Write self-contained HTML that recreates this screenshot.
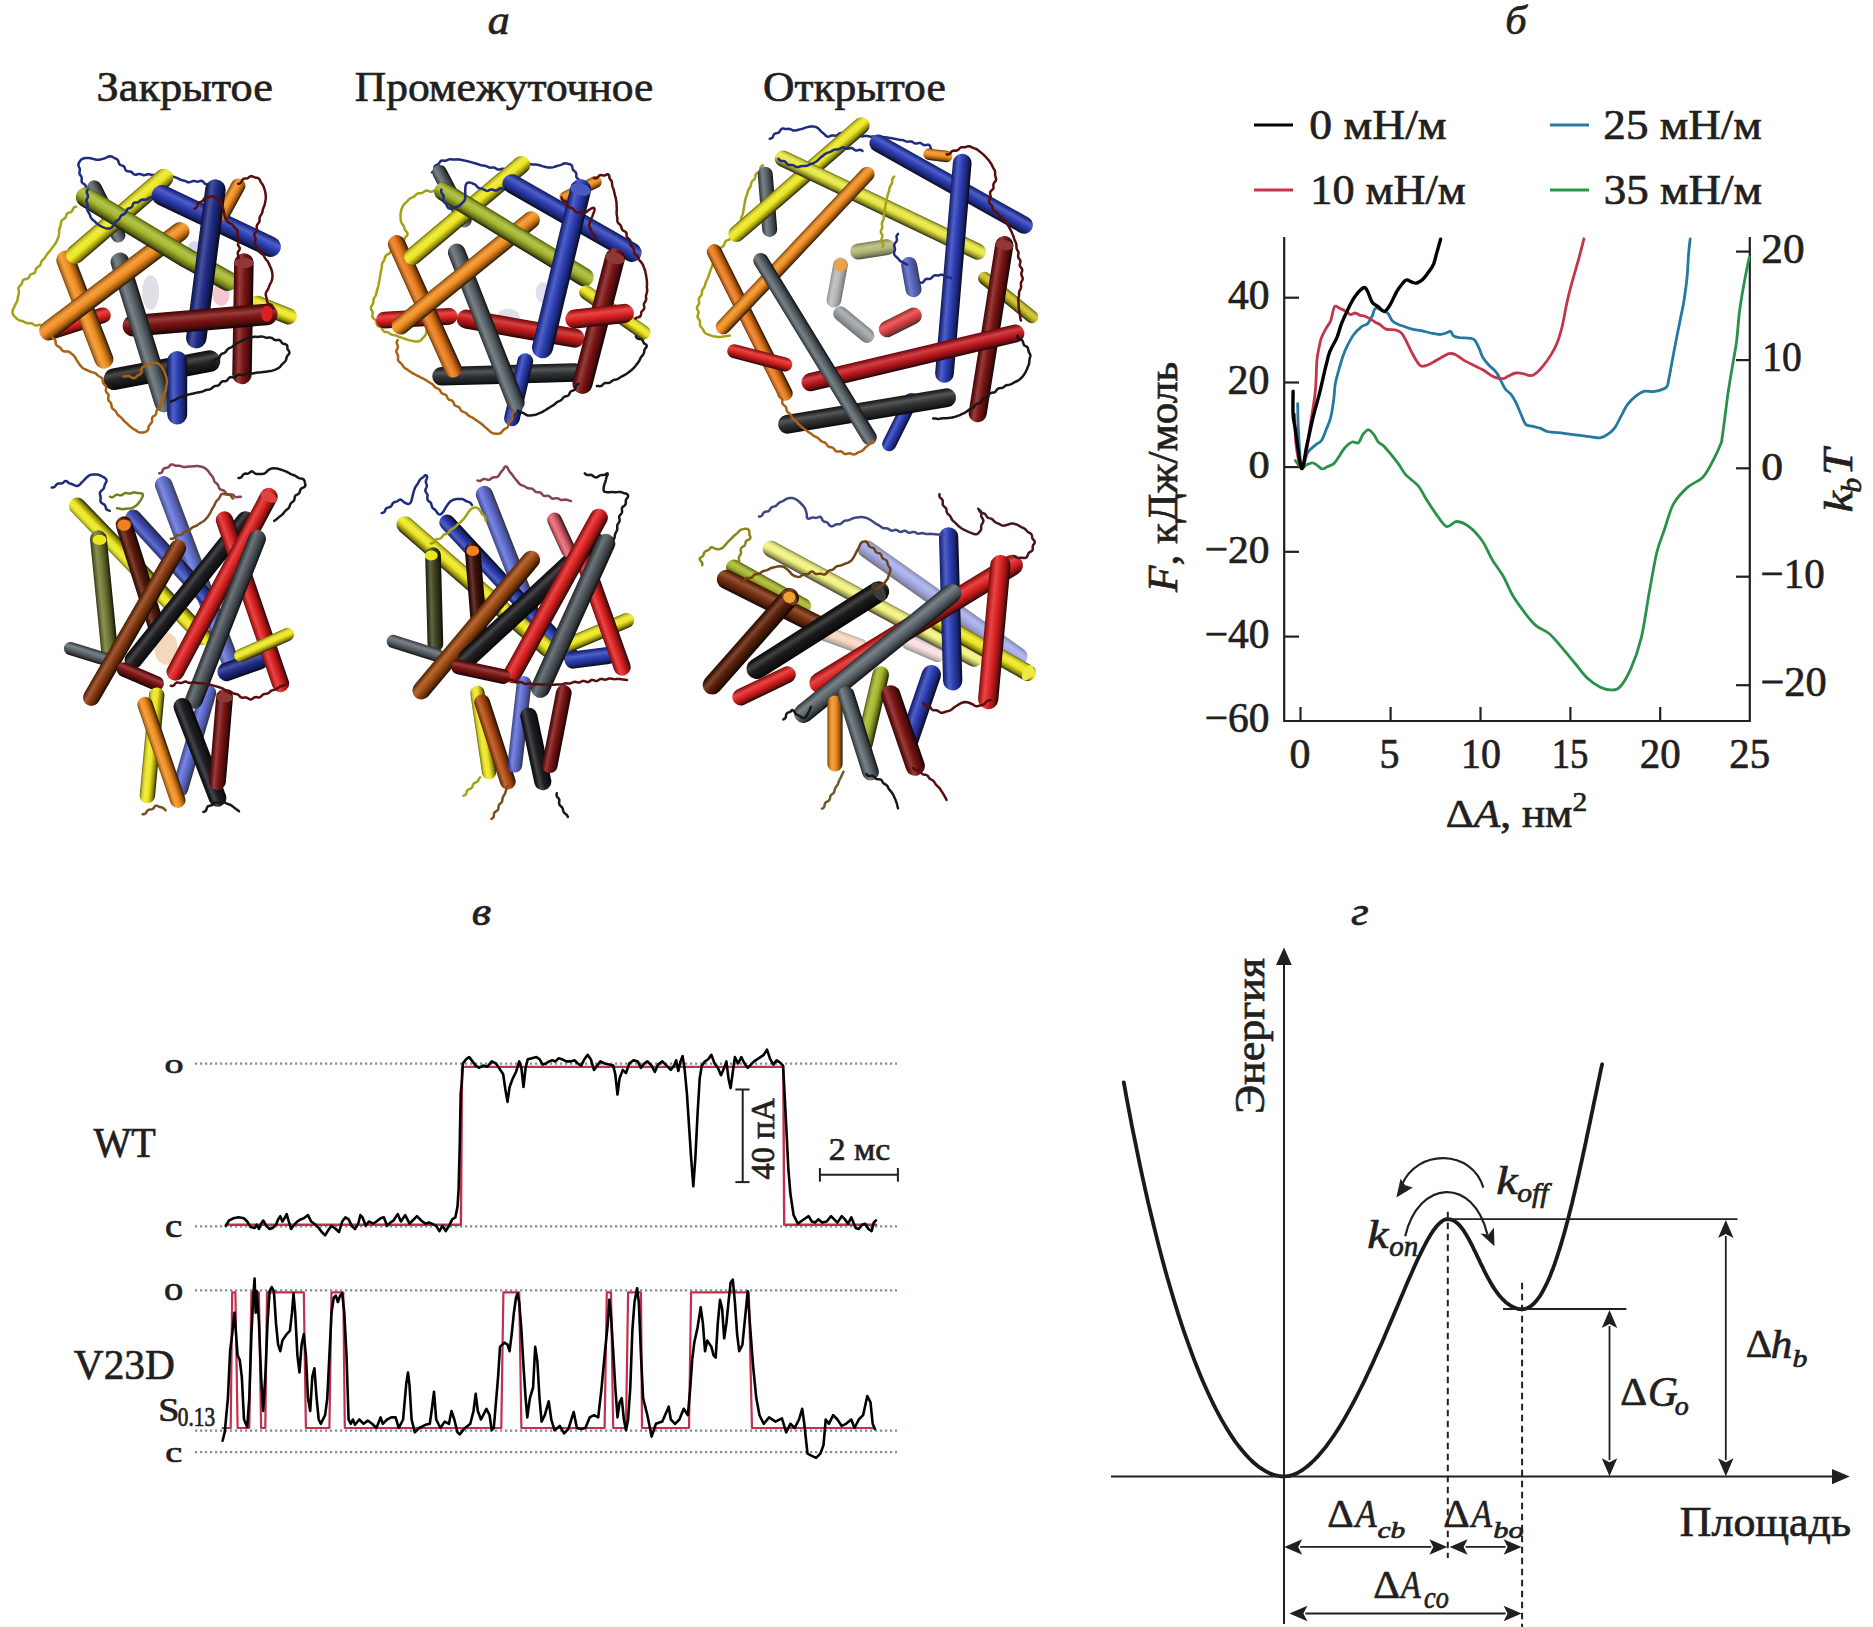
<!DOCTYPE html>
<html><head><meta charset="utf-8"><style>
html,body{margin:0;padding:0;background:#fff;}
svg{display:block;}
text{stroke:#231f20;stroke-width:0.7px;}
</style></head><body>
<svg width="1873" height="1627" viewBox="0 0 1873 1627">
<rect width="1873" height="1627" fill="#fff"/>
<text transform="translate(487.68,33.90) scale(1.0988,1)" font-family="Liberation Serif" font-size="40.00" fill="#231f20"><tspan x="0.00" y="0.00" font-size="40.00" font-style="italic">а</tspan></text>
<text transform="translate(1505.18,34.20) scale(1.0744,1)" font-family="Liberation Serif" font-size="39.72" fill="#231f20"><tspan x="0.00" y="0.00" font-size="39.72" font-style="italic">б</tspan></text>
<text transform="translate(471.66,925.29) scale(1.0941,1)" font-family="Liberation Serif" font-size="40.83" fill="#231f20"><tspan x="0.00" y="0.00" font-size="40.83" font-style="italic">в</tspan></text>
<text transform="translate(1351.09,925.29) scale(1.1125,1)" font-family="Liberation Serif" font-size="40.83" fill="#231f20"><tspan x="0.00" y="0.00" font-size="40.83" font-style="italic">г</tspan></text>
<text transform="translate(96.59,101.10) scale(1.0405,1)" font-family="Liberation Serif" font-size="42.56" fill="#231f20"><tspan x="0.00" y="0.00" font-size="42.56">Закрытое</tspan></text>
<text transform="translate(354.80,101.10) scale(1.0065,1)" font-family="Liberation Serif" font-size="43.21" fill="#231f20"><tspan x="0.00" y="0.00" font-size="43.21">Промежуточное</tspan></text>
<text transform="translate(762.96,101.20) scale(1.0124,1)" font-family="Liberation Serif" font-size="43.03" fill="#231f20"><tspan x="0.00" y="0.00" font-size="43.03">Открытое</tspan></text>
<text transform="translate(1309.28,139.10) scale(1.0845,1)" font-family="Liberation Serif" font-size="42.00" fill="#231f20"><tspan x="0.00" y="0.00" font-size="42.00">0 мН/м</tspan></text>
<text transform="translate(1310.32,203.80) scale(1.0531,1)" font-family="Liberation Serif" font-size="42.00" fill="#231f20"><tspan x="0.00" y="0.00" font-size="42.00">10 мН/м</tspan></text>
<text transform="translate(1603.37,139.10) scale(1.0738,1)" font-family="Liberation Serif" font-size="42.00" fill="#231f20"><tspan x="0.00" y="0.00" font-size="42.00">25 мН/м</tspan></text>
<text transform="translate(1603.75,203.80) scale(1.0713,1)" font-family="Liberation Serif" font-size="42.00" fill="#231f20"><tspan x="0.00" y="0.00" font-size="42.00">35 мН/м</tspan></text>
<text transform="translate(1228.07,308.68) scale(0.9896,1)" font-family="Liberation Serif" font-size="41.93" fill="#231f20"><tspan x="0.00" y="0.00" font-size="41.93">40</tspan></text>
<text transform="translate(1227.61,393.78) scale(1.0010,1)" font-family="Liberation Serif" font-size="41.93" fill="#231f20"><tspan x="0.00" y="0.00" font-size="41.93">20</tspan></text>
<text transform="translate(1248.40,477.99) scale(1.0327,1)" font-family="Liberation Serif" font-size="41.04" fill="#231f20"><tspan x="0.00" y="0.00" font-size="41.04">0</tspan></text>
<text transform="translate(1204.73,562.79) scale(1.0131,1)" font-family="Liberation Serif" font-size="40.89" fill="#231f20"><tspan x="0.00" y="0.00" font-size="40.89">−20</tspan></text>
<text transform="translate(1204.73,648.08) scale(0.9951,1)" font-family="Liberation Serif" font-size="41.63" fill="#231f20"><tspan x="0.00" y="0.00" font-size="41.63">−40</tspan></text>
<text transform="translate(1204.73,731.98) scale(0.9777,1)" font-family="Liberation Serif" font-size="42.37" fill="#231f20"><tspan x="0.00" y="0.00" font-size="42.37">−60</tspan></text>
<text transform="translate(1761.25,262.78) scale(1.0359,1)" font-family="Liberation Serif" font-size="41.78" fill="#231f20"><tspan x="0.00" y="0.00" font-size="41.78">20</tspan></text>
<text transform="translate(1762.14,371.18) scale(0.9464,1)" font-family="Liberation Serif" font-size="41.78" fill="#231f20"><tspan x="0.00" y="0.00" font-size="41.78">10</tspan></text>
<text transform="translate(1761.16,479.79) scale(1.0618,1)" font-family="Liberation Serif" font-size="41.04" fill="#231f20"><tspan x="0.00" y="0.00" font-size="41.04">0</tspan></text>
<text transform="translate(1760.55,587.98) scale(0.9681,1)" font-family="Liberation Serif" font-size="42.37" fill="#231f20"><tspan x="0.00" y="0.00" font-size="42.37">−10</tspan></text>
<text transform="translate(1760.48,695.68) scale(1.0036,1)" font-family="Liberation Serif" font-size="42.22" fill="#231f20"><tspan x="0.00" y="0.00" font-size="42.22">−20</tspan></text>
<text transform="translate(1289.52,768.29) scale(1.0102,1)" font-family="Liberation Serif" font-size="41.48" fill="#231f20"><tspan x="0.00" y="0.00" font-size="41.48">0</tspan></text>
<text transform="translate(1379.60,768.28) scale(0.9500,1)" font-family="Liberation Serif" font-size="42.11" fill="#231f20"><tspan x="0.00" y="0.00" font-size="42.11">5</tspan></text>
<text transform="translate(1461.11,768.29) scale(0.9615,1)" font-family="Liberation Serif" font-size="41.48" fill="#231f20"><tspan x="0.00" y="0.00" font-size="41.48">10</tspan></text>
<text transform="translate(1551.69,768.28) scale(0.8801,1)" font-family="Liberation Serif" font-size="41.79" fill="#231f20"><tspan x="0.00" y="0.00" font-size="41.79">15</tspan></text>
<text transform="translate(1639.86,768.29) scale(0.9854,1)" font-family="Liberation Serif" font-size="41.48" fill="#231f20"><tspan x="0.00" y="0.00" font-size="41.48">20</tspan></text>
<text transform="translate(1729.37,768.28) scale(0.9754,1)" font-family="Liberation Serif" font-size="41.79" fill="#231f20"><tspan x="0.00" y="0.00" font-size="41.79">25</tspan></text>
<text transform="translate(1445.87,827.40) scale(1.0575,1)" font-family="Liberation Serif" font-size="41.00" fill="#231f20"><tspan x="0.00" y="0.00" font-size="41.00">Δ</tspan><tspan x="26.36" y="0.00" font-size="41.00" font-style="italic">A</tspan><tspan x="51.41" y="0.00" font-size="41.00">, нм</tspan><tspan x="119.80" y="-16.40" font-size="27.88">2</tspan></text>
<text transform="translate(1176.80,591.98) rotate(-90) scale(1.0015,1)" font-family="Liberation Serif" font-size="43.18" fill="#231f20"><tspan x="0.00" y="0.00" font-size="43.18" font-style="italic">F</tspan><tspan x="26.38" y="0.00" font-size="43.18">, кДж/моль</tspan></text>
<text transform="translate(1851.90,512.54) rotate(-90) scale(1.1807,1)" font-family="Liberation Serif" font-size="40.58" fill="#231f20"><tspan x="0.00" y="0.00" font-size="40.58" font-style="italic">k</tspan></text>
<text transform="translate(1861.21,492.70) rotate(-90) scale(1.0419,1)" font-family="Liberation Serif" font-size="28.79" fill="#231f20"><tspan x="0.00" y="0.00" font-size="28.79" font-style="italic">b</tspan></text>
<text transform="translate(1851.90,475.52) rotate(-90) scale(1.1149,1)" font-family="Liberation Serif" font-size="43.05" fill="#231f20"><tspan x="0.00" y="0.00" font-size="43.05" font-style="italic">T</tspan></text>
<text transform="translate(164.48,1073.42) scale(1.3646,1)" font-family="Liberation Serif" font-size="27.92" fill="#231f20"><tspan x="0.00" y="0.00" font-size="27.92">o</tspan></text>
<text transform="translate(164.94,1237.06) scale(1.1536,1)" font-family="Liberation Serif" font-size="33.75" fill="#231f20"><tspan x="0.00" y="0.00" font-size="33.75">c</tspan></text>
<text transform="translate(163.96,1300.36) scale(1.1358,1)" font-family="Liberation Serif" font-size="33.96" fill="#231f20"><tspan x="0.00" y="0.00" font-size="33.96">o</tspan></text>
<text transform="translate(165.17,1461.91) scale(1.3168,1)" font-family="Liberation Serif" font-size="28.96" fill="#231f20"><tspan x="0.00" y="0.00" font-size="28.96">c</tspan></text>
<text transform="translate(93.50,1157.06) scale(0.9467,1)" font-family="Liberation Serif" font-size="42.39" fill="#231f20"><tspan x="0.00" y="0.00" font-size="42.39">WT</tspan></text>
<text transform="translate(73.79,1379.17) scale(0.9825,1)" font-family="Liberation Serif" font-size="42.07" fill="#231f20"><tspan x="0.00" y="0.00" font-size="42.07">V23D</tspan></text>
<text transform="translate(158.32,1421.07) scale(1.1408,1)" font-family="Liberation Serif" font-size="33.43" fill="#231f20"><tspan x="0.00" y="0.00" font-size="33.43">S</tspan></text>
<text transform="translate(177.85,1426.00) scale(0.7942,1)" font-family="Liberation Serif" font-size="26.76" fill="#231f20"><tspan x="0.00" y="0.00" font-size="26.76">0.13</tspan></text>
<text transform="translate(773.67,1179.55) rotate(-90) scale(0.9894,1)" font-family="Liberation Serif" font-size="32.89" fill="#231f20"><tspan x="0.00" y="0.00" font-size="32.89">40 пА</tspan></text>
<text transform="translate(828.79,1160.47) scale(1.0332,1)" font-family="Liberation Serif" font-size="32.54" fill="#231f20"><tspan x="0.00" y="0.00" font-size="32.54">2 мс</tspan></text>
<text transform="translate(1264.10,1114.02) rotate(-90) scale(1.0276,1)" font-family="Liberation Serif" font-size="42.88" fill="#231f20"><tspan x="0.00" y="0.00" font-size="42.88">Энергия</tspan></text>
<text transform="translate(1496.35,1193.50) scale(1.1796,1)" font-family="Liberation Serif" font-size="41.01" fill="#231f20"><tspan x="0.00" y="0.00" font-size="41.01" font-style="italic">k</tspan></text>
<text transform="translate(1517.31,1201.55) scale(1.0532,1)" font-family="Liberation Serif" font-size="28.15" fill="#231f20"><tspan x="0.00" y="0.00" font-size="28.15" font-style="italic">off</tspan></text>
<text transform="translate(1367.37,1247.50) scale(1.1750,1)" font-family="Liberation Serif" font-size="40.58" fill="#231f20"><tspan x="0.00" y="0.00" font-size="40.58" font-style="italic">k</tspan></text>
<text transform="translate(1389.13,1256.01) scale(0.9883,1)" font-family="Liberation Serif" font-size="29.37" fill="#231f20"><tspan x="0.00" y="0.00" font-size="29.37" font-style="italic">on</tspan></text>
<text transform="translate(1620.33,1405.40) scale(1.0644,1)" font-family="Liberation Serif" font-size="39.24" fill="#231f20"><tspan x="0.00" y="0.00" font-size="39.24">Δ</tspan></text>
<text transform="translate(1648.12,1405.88) scale(0.9766,1)" font-family="Liberation Serif" font-size="42.39" fill="#231f20"><tspan x="0.00" y="0.00" font-size="42.39" font-style="italic">G</tspan></text>
<text transform="translate(1674.66,1415.14) scale(1.0565,1)" font-family="Liberation Serif" font-size="26.46" fill="#231f20"><tspan x="0.00" y="0.00" font-size="26.46" font-style="italic">o</tspan></text>
<text transform="translate(1745.76,1357.40) scale(1.0344,1)" font-family="Liberation Serif" font-size="39.70" fill="#231f20"><tspan x="0.00" y="0.00" font-size="39.70">Δ</tspan></text>
<text transform="translate(1770.69,1357.90) scale(1.0726,1)" font-family="Liberation Serif" font-size="40.14" fill="#231f20"><tspan x="0.00" y="0.00" font-size="40.14" font-style="italic">h</tspan></text>
<text transform="translate(1792.51,1367.25) scale(1.1992,1)" font-family="Liberation Serif" font-size="24.82" fill="#231f20"><tspan x="0.00" y="0.00" font-size="24.82" font-style="italic">b</tspan></text>
<text transform="translate(1679.78,1536.10) scale(1.0573,1)" font-family="Liberation Serif" font-size="41.53" fill="#231f20"><tspan x="0.00" y="0.00" font-size="41.53">Площадь</tspan></text>
<text transform="translate(1327.15,1527.20) scale(1.0194,1)" font-family="Liberation Serif" font-size="40.45" fill="#231f20"><tspan x="0.00" y="0.00" font-size="40.45">Δ</tspan></text>
<text transform="translate(1355.50,1527.20) scale(0.8559,1)" font-family="Liberation Serif" font-size="40.45" fill="#231f20"><tspan x="0.00" y="0.00" font-size="40.45" font-style="italic">A</tspan></text>
<text transform="translate(1377.52,1538.26) scale(1.2402,1)" font-family="Liberation Serif" font-size="23.69" fill="#231f20"><tspan x="0.00" y="0.00" font-size="23.69" font-style="italic">cb</tspan></text>
<text transform="translate(1443.36,1527.20) scale(1.0150,1)" font-family="Liberation Serif" font-size="40.45" fill="#231f20"><tspan x="0.00" y="0.00" font-size="40.45">Δ</tspan></text>
<text transform="translate(1471.55,1527.20) scale(0.8301,1)" font-family="Liberation Serif" font-size="40.45" fill="#231f20"><tspan x="0.00" y="0.00" font-size="40.45" font-style="italic">A</tspan></text>
<text transform="translate(1493.29,1538.26) scale(1.2801,1)" font-family="Liberation Serif" font-size="23.69" fill="#231f20"><tspan x="0.00" y="0.00" font-size="23.69" font-style="italic">bo</tspan></text>
<text transform="translate(1373.34,1598.40) scale(1.0167,1)" font-family="Liberation Serif" font-size="40.91" fill="#231f20"><tspan x="0.00" y="0.00" font-size="40.91">Δ</tspan></text>
<text transform="translate(1401.08,1598.40) scale(0.7917,1)" font-family="Liberation Serif" font-size="40.91" fill="#231f20"><tspan x="0.00" y="0.00" font-size="40.91" font-style="italic">A</tspan></text>
<text transform="translate(1424.01,1608.19) scale(0.8560,1)" font-family="Liberation Serif" font-size="30.63" fill="#231f20"><tspan x="0.00" y="0.00" font-size="30.63" font-style="italic">co</tspan></text>
<line x1="1254" y1="125" x2="1293" y2="125" stroke="#000" stroke-width="3"/>
<line x1="1254" y1="190" x2="1293" y2="190" stroke="#c8334a" stroke-width="3"/>
<line x1="1550" y1="125" x2="1589" y2="125" stroke="#2a7aa0" stroke-width="3"/>
<line x1="1550" y1="190" x2="1589" y2="190" stroke="#2b9a45" stroke-width="3"/>
<path d="M1284.2,237 V721 H1749.8 V237" fill="none" stroke="#231f20" stroke-width="2.2"/>
<line x1="1284" y1="297.7" x2="1299" y2="297.7" stroke="#231f20" stroke-width="2.2"/>
<line x1="1284" y1="382.5" x2="1299" y2="382.5" stroke="#231f20" stroke-width="2.2"/>
<line x1="1284" y1="467.1" x2="1299" y2="467.1" stroke="#231f20" stroke-width="2.2"/>
<line x1="1284" y1="551.8" x2="1299" y2="551.8" stroke="#231f20" stroke-width="2.2"/>
<line x1="1284" y1="636.6" x2="1299" y2="636.6" stroke="#231f20" stroke-width="2.2"/>
<line x1="1736" y1="251.6" x2="1750" y2="251.6" stroke="#231f20" stroke-width="2.2"/>
<line x1="1736" y1="360.1" x2="1750" y2="360.1" stroke="#231f20" stroke-width="2.2"/>
<line x1="1736" y1="468.3" x2="1750" y2="468.3" stroke="#231f20" stroke-width="2.2"/>
<line x1="1736" y1="576.7" x2="1750" y2="576.7" stroke="#231f20" stroke-width="2.2"/>
<line x1="1736" y1="685.2" x2="1750" y2="685.2" stroke="#231f20" stroke-width="2.2"/>
<line x1="1300.5" y1="707" x2="1300.5" y2="721" stroke="#231f20" stroke-width="2.2"/>
<line x1="1390.6" y1="707" x2="1390.6" y2="721" stroke="#231f20" stroke-width="2.2"/>
<line x1="1480.5" y1="707" x2="1480.5" y2="721" stroke="#231f20" stroke-width="2.2"/>
<line x1="1570.4" y1="707" x2="1570.4" y2="721" stroke="#231f20" stroke-width="2.2"/>
<line x1="1660.2" y1="707" x2="1660.2" y2="721" stroke="#231f20" stroke-width="2.2"/>
<path d="M1295.4,460.5 C1296.4,461.8 1299.7,467.4 1301.5,468.2 C1303.3,468.9 1304.3,466.0 1306.1,465.1 C1307.9,464.2 1310.5,462.8 1312.3,462.8 C1314.1,462.8 1315.2,464.1 1316.9,465.1 C1318.5,466.1 1320.5,468.7 1322.3,468.9 C1324.0,469.2 1325.7,467.5 1327.6,466.6 C1329.6,465.7 1332.0,465.1 1333.8,463.6 C1335.6,462.0 1336.6,460.0 1338.4,457.4 C1340.2,454.9 1342.2,450.8 1344.5,448.2 C1346.8,445.6 1349.9,442.9 1352.2,442.0 C1354.5,441.2 1356.6,444.1 1358.4,442.8 C1360.2,441.5 1361.3,436.5 1363.0,434.4 C1364.6,432.2 1366.6,429.8 1368.4,429.8 C1370.1,429.8 1372.1,432.3 1373.7,434.4 C1375.4,436.4 1376.5,440.0 1378.3,442.0 C1380.1,444.1 1381.2,443.2 1384.5,446.7 C1387.7,450.2 1394.4,458.4 1397.9,463.1 C1401.4,467.7 1402.2,470.8 1405.6,474.6 C1409.0,478.4 1415.0,482.1 1418.4,486.1 C1421.8,490.2 1423.1,494.2 1426.1,498.9 C1429.1,503.6 1432.9,509.7 1436.3,514.3 C1439.7,518.9 1443.2,525.4 1446.6,526.6 C1450.0,527.8 1453.0,521.4 1456.8,521.5 C1460.7,521.6 1465.4,523.8 1469.6,527.1 C1473.9,530.4 1478.6,535.7 1482.5,541.2 C1486.3,546.8 1489.3,554.7 1492.7,560.5 C1496.1,566.2 1499.5,569.8 1503.0,575.8 C1506.4,581.8 1509.4,589.9 1513.2,596.3 C1517.1,602.7 1522.2,609.4 1526.0,614.3 C1529.9,619.2 1532.4,622.6 1536.3,625.8 C1540.1,629.0 1544.8,629.9 1549.1,633.5 C1553.4,637.1 1557.6,642.7 1561.9,647.6 C1566.2,652.5 1570.4,657.8 1574.7,663.0 C1579.0,668.1 1583.3,674.3 1587.5,678.3 C1591.8,682.4 1596.5,685.4 1600.3,687.3 C1604.2,689.2 1607.4,689.9 1610.6,689.9 C1613.8,689.9 1616.2,690.9 1619.6,687.3 C1623.0,683.7 1627.5,676.4 1631.1,668.1 C1634.7,659.8 1638.4,649.7 1641.4,637.3 C1644.3,624.9 1646.5,607.9 1649.0,593.8 C1651.6,579.7 1654.2,563.4 1656.7,552.8 C1659.3,542.1 1661.6,537.8 1664.4,529.7 C1667.2,521.6 1669.5,511.1 1673.4,504.1 C1677.2,497.0 1682.6,491.9 1687.5,487.4 C1692.4,482.9 1698.6,481.6 1702.9,477.2 C1707.1,472.7 1710.1,466.1 1713.1,460.5 C1716.1,454.9 1719.3,447.6 1720.8,443.8 C1722.3,440.1 1721.4,442.8 1722.1,437.7 C1722.9,432.7 1724.3,421.8 1725.3,413.8 C1726.4,405.8 1727.2,398.6 1728.5,389.8 C1729.9,381.0 1732.0,369.0 1733.3,361.0 C1734.6,353.0 1735.4,350.4 1736.5,341.9 C1737.6,333.3 1738.4,320.0 1739.7,309.9 C1741.0,299.8 1742.9,289.9 1744.5,281.1 C1746.1,272.3 1748.5,261.2 1749.3,257.2" fill="none" stroke="#2a9148" stroke-width="2.8" stroke-linejoin="round" stroke-linecap="round" />
<path d="M1297.7,403.6 C1297.8,408.0 1297.8,419.0 1298.4,429.8 C1299.1,440.5 1300.0,464.3 1301.5,468.2 C1303.0,472.0 1305.4,456.6 1307.7,452.8 C1310.0,449.0 1313.0,447.2 1315.3,445.1 C1317.6,443.1 1319.7,443.1 1321.5,440.5 C1323.3,437.9 1324.6,433.6 1326.1,429.8 C1327.6,425.9 1329.4,422.6 1330.7,417.5 C1332.0,412.3 1333.0,404.7 1333.8,399.0 C1334.5,393.4 1334.5,388.3 1335.3,383.7 C1336.1,379.0 1337.1,376.0 1338.4,371.4 C1339.7,366.8 1341.5,360.4 1343.0,356.0 C1344.5,351.6 1345.8,348.8 1347.6,345.2 C1349.4,341.7 1351.5,337.6 1353.8,334.5 C1356.1,331.4 1359.1,328.6 1361.4,326.8 C1363.7,325.0 1365.8,325.5 1367.6,323.7 C1369.4,321.9 1370.9,318.6 1372.2,316.0 C1373.5,313.5 1373.7,309.4 1375.3,308.4 C1376.8,307.3 1379.4,309.1 1381.4,309.9 C1383.5,310.7 1385.8,311.2 1387.6,313.0 C1389.4,314.8 1390.4,318.7 1392.2,320.7 C1394.0,322.6 1396.5,323.6 1398.3,324.5 C1400.1,325.4 1400.6,325.3 1402.9,326.0 C1405.2,326.8 1409.1,328.3 1412.1,329.1 C1415.2,329.9 1418.3,330.0 1421.4,330.6 C1424.4,331.3 1427.5,332.3 1430.6,333.0 C1433.7,333.6 1437.2,334.5 1439.8,334.5 C1442.4,334.5 1444.2,333.5 1445.9,333.0 C1447.7,332.4 1449.3,330.9 1450.6,331.4 C1451.8,331.9 1452.1,335.0 1453.6,336.0 C1455.2,337.0 1457.0,337.2 1459.8,337.6 C1462.6,337.9 1468.0,337.8 1470.5,338.3 C1473.1,338.8 1473.6,338.7 1475.1,340.6 C1476.7,342.6 1478.5,347.0 1479.8,349.9 C1481.0,352.7 1481.3,355.0 1482.8,357.5 C1484.4,360.1 1486.7,362.7 1489.0,365.2 C1491.3,367.8 1494.0,369.1 1496.7,372.9 C1499.3,376.7 1502.4,384.6 1504.8,388.2 C1507.2,391.8 1509.3,392.2 1511.2,394.6 C1513.1,397.0 1514.4,399.4 1516.0,402.6 C1517.6,405.8 1519.2,410.2 1520.8,413.8 C1522.4,417.4 1523.7,422.1 1525.6,424.2 C1527.4,426.2 1529.6,425.6 1532.0,426.2 C1534.4,426.9 1537.3,427.3 1540.0,428.2 C1542.6,429.1 1543.9,430.8 1547.9,431.7 C1551.9,432.5 1558.6,432.7 1563.9,433.3 C1569.2,433.9 1575.4,434.7 1579.9,435.3 C1584.4,436.0 1587.6,436.5 1591.1,436.9 C1594.6,437.3 1597.7,438.3 1600.7,437.7 C1603.6,437.2 1606.3,435.5 1608.7,433.7 C1611.1,432.0 1612.9,430.4 1615.1,427.4 C1617.2,424.3 1619.3,419.2 1621.5,415.4 C1623.6,411.5 1625.4,407.4 1627.8,404.2 C1630.2,401.0 1633.2,398.3 1635.8,396.2 C1638.5,394.1 1640.6,392.2 1643.8,391.4 C1647.0,390.6 1651.3,392.1 1655.0,391.4 C1658.7,390.7 1663.9,389.3 1666.2,387.4 C1668.5,385.5 1667.8,383.5 1668.6,380.2 C1669.4,376.9 1669.8,373.8 1671.0,367.4 C1672.2,361.0 1674.2,350.1 1675.8,341.9 C1677.4,333.6 1679.2,324.6 1680.6,317.9 C1681.9,311.2 1682.7,308.6 1683.8,301.9 C1684.8,295.3 1686.2,285.9 1687.0,277.9 C1687.8,270.0 1688.0,260.5 1688.6,254.0 C1689.1,247.4 1689.9,241.3 1690.2,238.8" fill="none" stroke="#25789f" stroke-width="2.8" stroke-linejoin="round" stroke-linecap="round" />
<path d="M1294.6,414.4 C1294.9,419.5 1295.0,436.2 1296.1,445.1 C1297.3,454.1 1299.8,466.9 1301.5,468.2 C1303.2,469.4 1304.6,460.5 1306.1,452.8 C1307.7,445.1 1309.2,432.3 1310.7,422.1 C1312.3,411.8 1314.3,401.6 1315.3,391.3 C1316.4,381.1 1316.2,368.0 1316.9,360.6 C1317.5,353.2 1318.4,350.6 1319.2,346.8 C1320.0,342.9 1320.3,340.6 1321.5,337.6 C1322.6,334.5 1324.6,331.2 1326.1,328.3 C1327.6,325.5 1329.3,324.2 1330.7,320.7 C1332.1,317.1 1333.0,308.9 1334.5,306.8 C1336.1,304.8 1338.0,307.6 1339.9,308.4 C1341.8,309.1 1344.3,310.4 1346.1,311.4 C1347.9,312.5 1349.1,314.3 1350.7,314.5 C1352.2,314.8 1353.8,312.8 1355.3,313.0 C1356.8,313.1 1358.4,314.8 1359.9,315.3 C1361.4,315.8 1362.7,315.4 1364.5,316.0 C1366.3,316.7 1368.9,318.1 1370.7,319.1 C1372.5,320.1 1373.7,321.3 1375.3,322.2 C1376.8,323.1 1378.1,323.3 1379.9,324.5 C1381.7,325.7 1383.5,328.2 1386.0,329.1 C1388.6,330.0 1392.7,329.2 1395.2,329.9 C1397.8,330.5 1399.6,331.2 1401.4,333.0 C1403.2,334.7 1404.0,336.8 1406.0,340.6 C1408.0,344.5 1411.4,351.9 1413.7,356.0 C1416.0,360.1 1418.0,363.6 1419.8,365.2 C1421.6,366.9 1422.6,366.2 1424.4,366.0 C1426.2,365.7 1427.8,365.1 1430.6,363.7 C1433.4,362.3 1438.3,359.2 1441.3,357.5 C1444.4,355.9 1446.7,354.2 1449.0,353.7 C1451.3,353.2 1452.6,353.3 1455.2,354.5 C1457.7,355.6 1461.3,358.8 1464.4,360.6 C1467.5,362.4 1470.5,363.7 1473.6,365.2 C1476.7,366.8 1479.8,368.0 1482.8,369.8 C1485.9,371.6 1489.5,374.6 1492.0,376.0 C1494.6,377.4 1496.1,377.9 1498.2,378.3 C1500.2,378.7 1502.7,378.6 1504.3,378.3 C1506.0,377.9 1506.0,377.1 1508.0,376.2 C1509.9,375.3 1513.3,373.4 1516.0,373.0 C1518.6,372.6 1521.7,373.4 1524.0,373.8 C1526.2,374.3 1527.7,375.7 1529.6,375.7 C1531.4,375.7 1532.9,375.5 1535.2,373.8 C1537.4,372.2 1540.5,369.0 1543.1,365.8 C1545.8,362.6 1548.7,358.6 1551.1,354.6 C1553.5,350.7 1555.7,346.7 1557.5,341.9 C1559.4,337.1 1560.7,332.5 1562.3,325.9 C1563.9,319.2 1565.5,309.1 1567.1,301.9 C1568.7,294.7 1570.0,289.7 1571.9,282.7 C1573.8,275.8 1576.3,267.7 1578.3,260.4 C1580.3,253.0 1583.0,242.4 1583.9,238.8" fill="none" stroke="#c4344b" stroke-width="2.8" stroke-linejoin="round" stroke-linecap="round" />
<path d="M1293.1,391.3 C1293.1,395.2 1292.7,408.0 1293.1,414.4 C1293.4,420.8 1294.0,420.8 1295.4,429.8 C1296.8,438.7 1299.6,465.6 1301.5,468.2 C1303.4,470.7 1305.0,453.6 1306.9,445.1 C1308.8,436.7 1310.9,426.4 1313.0,417.5 C1315.2,408.5 1317.8,400.0 1320.0,391.3 C1322.1,382.6 1324.4,371.9 1326.1,365.2 C1327.8,358.6 1328.1,356.0 1329.9,351.4 C1331.7,346.8 1334.9,342.2 1336.9,337.6 C1338.8,333.0 1339.7,328.3 1341.5,323.7 C1343.3,319.1 1345.3,314.5 1347.6,309.9 C1349.9,305.3 1352.6,299.8 1355.3,296.1 C1358.0,292.4 1361.7,288.4 1363.7,287.6 C1365.8,286.9 1366.2,289.0 1367.6,291.5 C1369.0,293.9 1370.4,299.7 1372.2,302.2 C1374.0,304.8 1376.3,305.3 1378.3,306.8 C1380.4,308.4 1382.4,312.0 1384.5,311.4 C1386.5,310.9 1388.6,307.1 1390.6,303.8 C1392.7,300.4 1394.7,294.9 1396.8,291.5 C1398.8,288.0 1401.3,284.9 1402.9,283.0 C1404.6,281.1 1405.2,280.1 1406.8,279.9 C1408.3,279.8 1410.5,281.7 1412.1,282.2 C1413.8,282.8 1415.0,283.5 1416.8,283.0 C1418.5,282.5 1420.9,281.1 1422.9,279.2 C1424.9,277.2 1427.3,274.0 1429.0,271.5 C1430.8,268.9 1432.4,266.9 1433.7,263.8 C1434.9,260.7 1435.6,257.1 1436.7,253.0 C1437.9,249.0 1439.9,241.5 1440.6,239.2" fill="none" stroke="#000" stroke-width="3.4" stroke-linejoin="round" stroke-linecap="round" />
<line x1="195" y1="1063.7" x2="897" y2="1063.7" stroke="#7d9096" stroke-width="2.2" stroke-dasharray="2.2,2.8"/>
<line x1="195" y1="1226.4" x2="897" y2="1226.4" stroke="#7d9096" stroke-width="2.2" stroke-dasharray="2.2,2.8"/>
<line x1="195" y1="1290.3" x2="897" y2="1290.3" stroke="#7d9096" stroke-width="2.2" stroke-dasharray="2.2,2.8"/>
<line x1="195" y1="1430.6" x2="897" y2="1430.6" stroke="#7d9096" stroke-width="2.2" stroke-dasharray="2.2,2.8"/>
<line x1="195" y1="1452.2" x2="897" y2="1452.2" stroke="#7d9096" stroke-width="2.2" stroke-dasharray="2.2,2.8"/>
<path d="M225.8,1224.7 L460.9,1224.7 L462.0,1066.9 L783.3,1066.9 L784.2,1224.7 L876.0,1224.7" fill="none" stroke="#c2304e" stroke-width="2.4" stroke-linejoin="round" stroke-linecap="round" stroke-linecap="butt"/>
<path d="M222.6,1428.0 L230.7,1428.0 L232.2,1292.4 L235.4,1292.4 L237.6,1428.0 L249.3,1428.0 L251.4,1292.4 L258.9,1292.4 L261.1,1428.0 L265.3,1428.0 L267.0,1292.4 L303.8,1292.4 L305.9,1428.0 L329.4,1428.0 L331.5,1292.4 L343.3,1292.4 L344.8,1428.0 L501.3,1428.0 L503.4,1292.4 L519.2,1292.4 L521.4,1428.0 L604.6,1428.0 L606.8,1292.4 L611.0,1292.4 L613.2,1428.0 L626.0,1428.0 L628.1,1292.4 L641.0,1292.4 L642.0,1428.0 L689.0,1428.0 L691.1,1292.4 L748.8,1292.4 L752.0,1428.0 L873.7,1428.0" fill="none" stroke="#c2304e" stroke-width="2.2" stroke-linejoin="round" stroke-linecap="round" />
<path d="M225.8,1225.8 L229.0,1220.5 L233.3,1218.3 L238.6,1217.3 L244.0,1218.3 L247.2,1221.5 L250.4,1226.9 L254.6,1227.9 L256.8,1224.7 L258.9,1229.0 L261.1,1223.7 L263.2,1220.5 L266.4,1225.8 L269.6,1229.0 L272.8,1227.9 L276.0,1224.7 L278.1,1219.4 L280.3,1216.2 L282.4,1221.5 L284.5,1218.3 L286.7,1214.1 L288.8,1221.5 L291.0,1229.0 L294.2,1224.7 L297.4,1221.5 L300.6,1219.4 L303.8,1218.3 L308.0,1215.1 L311.2,1221.5 L314.4,1223.7 L318.7,1227.9 L321.9,1232.2 L325.1,1235.4 L328.3,1230.1 L331.5,1225.8 L335.8,1229.0 L339.0,1232.2 L342.2,1221.5 L345.4,1217.3 L348.6,1219.4 L351.8,1225.8 L355.0,1229.0 L358.2,1223.7 L360.4,1215.1 L362.5,1217.3 L365.7,1225.8 L368.9,1221.5 L373.2,1223.7 L376.4,1221.5 L380.6,1218.3 L383.8,1217.3 L387.1,1225.8 L390.3,1222.6 L393.5,1220.5 L397.7,1214.1 L400.9,1221.5 L405.2,1215.1 L409.5,1223.7 L412.7,1220.5 L417.0,1216.2 L421.2,1220.5 L425.5,1223.7 L428.7,1222.6 L431.9,1223.7 L436.2,1225.8 L439.4,1231.1 L442.6,1225.8 L445.8,1231.1 L449.0,1225.8 L452.2,1219.4 L455.4,1217.3 L457.5,1206.6 L458.6,1189.5 L459.7,1146.8 L460.7,1093.4 L461.8,1082.7 L462.9,1063.5 L466.1,1059.2 L469.3,1057.1 L472.5,1061.4 L475.7,1065.6 L478.9,1067.8 L483.2,1065.6 L487.4,1066.7 L491.7,1061.4 L496.0,1063.5 L503.2,1074.2 L505.3,1089.1 L507.5,1101.9 L509.6,1087.0 L512.8,1078.4 L516.0,1072.0 L519.2,1061.4 L521.4,1067.8 L523.5,1087.0 L525.6,1067.8 L527.8,1059.2 L532.0,1058.2 L536.3,1057.1 L539.5,1059.2 L542.7,1064.6 L545.9,1063.5 L549.1,1061.4 L552.3,1060.3 L555.5,1061.4 L558.7,1058.2 L561.9,1059.2 L566.2,1061.4 L570.5,1061.4 L574.7,1060.3 L577.9,1063.5 L581.2,1065.6 L584.4,1059.2 L587.6,1054.9 L590.8,1059.2 L594.0,1069.9 L597.2,1065.6 L600.4,1061.4 L604.6,1063.5 L608.9,1064.6 L613.2,1065.6 L615.3,1074.2 L617.5,1094.5 L619.6,1078.4 L622.8,1069.9 L626.0,1073.1 L629.2,1063.5 L633.5,1060.3 L637.7,1061.4 L641.0,1067.8 L644.2,1063.5 L647.4,1061.4 L651.6,1065.6 L654.8,1072.0 L658.0,1064.6 L662.3,1061.4 L666.6,1065.6 L670.8,1069.9 L674.1,1065.6 L676.2,1060.3 L678.3,1071.0 L680.5,1061.4 L682.6,1056.0 L684.7,1069.9 L686.9,1093.4 L689.0,1125.4 L691.1,1157.5 L693.3,1186.3 L695.4,1157.5 L697.5,1114.7 L699.7,1078.4 L701.8,1065.6 L705.0,1061.4 L708.2,1059.2 L711.4,1054.9 L714.6,1063.5 L717.8,1067.8 L721.0,1075.2 L724.2,1067.8 L726.4,1061.4 L728.5,1078.4 L730.6,1088.1 L732.8,1072.0 L734.9,1057.1 L738.1,1063.5 L741.3,1057.1 L744.5,1063.5 L747.7,1067.8 L750.9,1064.6 L754.1,1061.4 L757.3,1059.2 L760.5,1057.1 L763.7,1054.9 L767.0,1049.6 L770.2,1059.2 L773.4,1064.6 L776.6,1060.3 L779.8,1062.4 L783.0,1065.6 L784.0,1082.7 L786.2,1125.4 L788.3,1168.1 L790.4,1193.8 L793.6,1215.1 L797.9,1223.7 L802.2,1220.5 L805.4,1218.3 L808.6,1216.2 L811.8,1221.5 L815.0,1222.6 L818.2,1219.4 L822.5,1222.6 L826.7,1221.5 L831.0,1216.2 L834.2,1219.4 L837.4,1222.6 L841.7,1216.2 L844.9,1219.4 L848.1,1223.7 L851.3,1217.3 L855.6,1227.9 L858.8,1229.0 L862.0,1224.7 L865.2,1223.7 L868.4,1229.0 L871.6,1231.1 L873.7,1222.6 L875.9,1220.5" fill="none" stroke="#000" stroke-width="2.6" stroke-linejoin="round" stroke-linecap="round" />
<path d="M222.6,1440.8 L224.7,1432.3 L227.9,1398.1 L230.1,1351.2 L232.2,1334.1 L234.4,1312.7 L235.4,1325.5 L237.6,1355.4 L239.7,1359.7 L241.8,1376.8 L244.0,1419.5 L247.2,1427.0 L249.3,1398.1 L251.4,1334.1 L253.6,1291.4 L254.6,1278.5 L255.7,1312.7 L256.8,1291.4 L258.9,1321.3 L261.1,1376.8 L263.2,1411.0 L265.3,1376.8 L267.5,1323.4 L269.6,1291.4 L271.7,1287.1 L273.9,1291.4 L276.0,1323.4 L278.1,1344.7 L280.3,1351.2 L282.4,1340.5 L286.7,1334.1 L289.9,1330.9 L292.0,1312.7 L293.5,1293.5 L295.2,1312.7 L297.4,1355.4 L299.5,1372.5 L301.6,1344.7 L303.8,1334.1 L305.9,1355.4 L308.0,1398.1 L310.2,1411.0 L312.3,1376.8 L314.4,1368.2 L316.6,1398.1 L318.7,1419.5 L320.8,1423.8 L325.1,1415.2 L327.3,1398.1 L329.4,1355.4 L331.5,1312.7 L333.7,1297.8 L335.8,1295.6 L337.9,1302.0 L340.1,1295.6 L342.2,1293.5 L344.3,1312.7 L346.5,1355.4 L348.6,1419.5 L350.7,1423.8 L352.9,1419.5 L355.0,1424.8 L359.3,1419.5 L363.6,1423.8 L367.8,1420.6 L372.1,1423.8 L376.4,1428.0 L380.6,1417.4 L382.8,1423.8 L387.1,1419.5 L391.3,1417.4 L395.6,1417.4 L398.8,1428.0 L403.1,1419.5 L406.3,1383.2 L408.0,1372.5 L409.5,1385.3 L411.6,1419.5 L414.8,1432.3 L419.1,1428.0 L425.5,1424.8 L429.8,1423.8 L431.9,1408.8 L434.0,1391.7 L436.2,1419.5 L440.4,1428.0 L444.7,1421.6 L449.0,1423.8 L451.5,1411.0 L454.3,1419.5 L457.5,1432.3 L459.7,1434.4 L463.9,1429.1 L470.3,1423.8 L473.5,1411.0 L475.7,1393.9 L477.8,1411.0 L481.0,1419.5 L486.4,1408.8 L489.6,1415.2 L491.7,1430.2 L493.8,1428.0 L498.1,1376.8 L500.0,1346.9 L504.3,1342.6 L507.5,1344.7 L509.6,1351.2 L511.7,1334.1 L513.9,1312.7 L516.0,1297.8 L517.5,1293.5 L519.2,1302.0 L521.4,1329.8 L523.5,1366.1 L525.6,1398.1 L527.3,1417.4 L529.9,1398.1 L533.1,1387.5 L535.2,1346.9 L537.4,1361.8 L539.5,1398.1 L541.6,1421.6 L544.8,1415.2 L548.7,1401.3 L551.3,1419.5 L554.5,1430.2 L559.8,1425.9 L564.1,1433.4 L568.3,1429.1 L573.7,1412.0 L576.9,1428.0 L581.2,1429.1 L585.4,1428.0 L589.7,1417.4 L594.0,1415.2 L598.2,1417.4 L601.4,1389.6 L604.6,1355.4 L607.8,1323.4 L609.3,1299.9 L611.1,1317.0 L613.2,1351.2 L615.3,1387.5 L617.5,1417.4 L619.6,1402.4 L621.7,1398.1 L623.9,1419.5 L626.0,1430.2 L628.1,1419.5 L630.3,1387.5 L632.4,1329.8 L634.5,1302.0 L637.1,1288.2 L638.8,1302.0 L641.0,1355.4 L643.1,1398.1 L647.4,1415.2 L651.6,1436.6 L655.9,1423.8 L662.3,1421.6 L668.7,1406.7 L670.8,1419.5 L675.1,1423.8 L679.4,1419.5 L683.7,1408.8 L687.9,1415.2 L690.1,1389.6 L692.2,1359.7 L694.3,1342.6 L697.5,1327.7 L700.7,1307.4 L702.9,1323.4 L705.0,1351.2 L707.2,1340.5 L711.4,1346.9 L713.6,1355.4 L715.7,1357.6 L717.8,1323.4 L720.0,1299.9 L722.1,1308.4 L724.2,1338.3 L726.4,1323.4 L728.5,1302.0 L730.6,1282.8 L732.8,1279.6 L734.9,1302.0 L737.1,1334.1 L739.2,1351.2 L742.4,1344.7 L745.6,1312.7 L747.7,1291.4 L749.9,1323.4 L753.1,1366.1 L756.3,1398.1 L759.5,1415.2 L763.7,1423.8 L769.1,1417.4 L775.5,1421.6 L781.9,1418.4 L786.2,1432.3 L790.4,1423.8 L794.7,1428.0 L799.0,1419.5 L802.2,1408.8 L804.3,1423.8 L807.5,1453.7 L811.8,1455.8 L816.1,1457.9 L820.3,1453.7 L823.5,1445.1 L825.7,1419.5 L828.9,1423.8 L833.2,1415.2 L837.4,1419.5 L841.7,1425.9 L846.0,1423.8 L851.3,1419.5 L854.5,1428.0 L858.8,1419.5 L863.1,1415.2 L867.3,1396.0 L870.5,1402.4 L872.7,1423.8 L874.8,1429.1" fill="none" stroke="#000" stroke-width="2.6" stroke-linejoin="round" stroke-linecap="round" />
<line x1="742.7" y1="1089.5" x2="742.7" y2="1182.1" stroke="#231f20" stroke-width="2"/>
<line x1="735.4" y1="1089.5" x2="749.5" y2="1089.5" stroke="#231f20" stroke-width="2"/>
<line x1="735.4" y1="1182.1" x2="749.5" y2="1182.1" stroke="#231f20" stroke-width="2"/>
<line x1="819.9" y1="1174.8" x2="897.9" y2="1174.8" stroke="#231f20" stroke-width="2"/>
<line x1="819.9" y1="1168" x2="819.9" y2="1181.7" stroke="#231f20" stroke-width="2"/>
<line x1="897.9" y1="1168" x2="897.9" y2="1181.7" stroke="#231f20" stroke-width="2"/>
<path d="M1123.8,1082.4 L1126.5,1097.3 L1129.2,1111.7 L1131.9,1125.8 L1134.7,1139.5 L1137.4,1152.8 L1140.1,1165.8 L1142.8,1178.4 L1145.5,1190.7 L1148.2,1202.6 L1151.0,1214.2 L1153.7,1225.5 L1156.4,1236.4 L1159.1,1247.1 L1161.8,1257.5 L1164.5,1267.5 L1167.2,1277.3 L1170.0,1286.8 L1172.7,1296.0 L1175.4,1304.9 L1178.1,1313.6 L1180.8,1322.0 L1183.5,1330.2 L1186.3,1338.1 L1189.0,1345.7 L1191.7,1353.1 L1194.4,1360.3 L1197.1,1367.2 L1199.8,1374.0 L1202.5,1380.4 L1205.3,1386.7 L1208.0,1392.7 L1210.7,1398.5 L1213.4,1404.1 L1216.1,1409.5 L1218.8,1414.7 L1221.5,1419.6 L1224.3,1424.4 L1227.0,1428.9 L1229.7,1433.2 L1232.4,1437.4 L1235.1,1441.3 L1237.8,1445.0 L1240.6,1448.5 L1243.3,1451.8 L1246.0,1454.9 L1248.7,1457.8 L1251.4,1460.5 L1254.1,1463.0 L1256.8,1465.3 L1259.6,1467.4 L1262.3,1469.2 L1265.0,1470.9 L1267.7,1472.3 L1270.4,1473.6 L1273.1,1474.6 L1275.9,1475.4 L1278.6,1475.9 L1281.3,1476.3 L1284.0,1476.4 L1286.8,1476.2 L1289.5,1475.8 L1292.3,1475.0 L1295.1,1474.0 L1297.9,1472.7 L1300.6,1471.1 L1303.4,1469.3 L1306.2,1467.3 L1308.9,1465.0 L1311.7,1462.5 L1314.5,1459.8 L1317.3,1456.9 L1320.0,1453.8 L1322.8,1450.5 L1325.6,1447.1 L1328.3,1443.4 L1331.1,1439.5 L1333.9,1435.5 L1336.7,1431.3 L1339.4,1426.9 L1342.2,1422.4 L1345.0,1417.7 L1347.7,1412.8 L1350.5,1407.9 L1353.3,1402.7 L1356.1,1397.4 L1358.8,1392.0 L1361.6,1386.5 L1364.4,1380.8 L1367.1,1375.0 L1369.9,1369.1 L1372.7,1363.1 L1375.4,1357.0 L1378.2,1350.8 L1381.0,1344.6 L1383.8,1338.2 L1386.5,1331.8 L1389.3,1325.3 L1392.1,1318.8 L1394.8,1312.3 L1397.6,1305.7 L1400.4,1299.1 L1403.2,1292.6 L1405.9,1286.1 L1408.7,1279.6 L1411.5,1273.2 L1414.2,1267.0 L1417.0,1260.9 L1419.8,1255.0 L1422.6,1249.4 L1425.3,1244.0 L1428.1,1238.9 L1430.9,1234.3 L1433.6,1230.1 L1436.4,1226.5 L1439.2,1223.5 L1442.0,1221.2 L1444.7,1219.7 L1447.5,1219.2 L1448.8,1219.3 L1450.0,1219.4 L1451.3,1219.7 L1452.5,1220.2 L1453.8,1220.7 L1455.1,1221.5 L1456.3,1222.4 L1457.6,1223.4 L1458.8,1224.6 L1460.1,1226.0 L1461.4,1227.5 L1462.6,1229.2 L1463.9,1231.0 L1465.1,1232.9 L1466.4,1235.0 L1467.6,1237.1 L1468.9,1239.4 L1470.2,1241.8 L1471.4,1244.2 L1472.7,1246.7 L1473.9,1249.3 L1475.2,1251.9 L1476.5,1254.5 L1477.7,1257.2 L1479.0,1259.8 L1480.2,1262.5 L1481.5,1265.1 L1482.8,1267.7 L1484.0,1270.3 L1485.3,1272.8 L1486.5,1275.2 L1487.8,1277.6 L1489.1,1279.9 L1490.3,1282.2 L1491.6,1284.3 L1492.8,1286.4 L1494.1,1288.4 L1495.4,1290.3 L1496.6,1292.0 L1497.9,1293.7 L1499.1,1295.3 L1500.4,1296.8 L1501.7,1298.2 L1502.9,1299.5 L1504.2,1300.7 L1505.4,1301.9 L1506.7,1302.9 L1507.9,1303.9 L1509.2,1304.7 L1510.5,1305.6 L1511.7,1306.3 L1513.0,1306.9 L1514.2,1307.5 L1515.5,1308.0 L1516.8,1308.5 L1518.0,1308.8 L1519.3,1309.1 L1520.5,1309.2 L1521.8,1309.3 L1523.2,1309.2 L1524.5,1309.0 L1525.9,1308.7 L1527.2,1308.2 L1528.6,1307.5 L1530.0,1306.7 L1531.3,1305.7 L1532.7,1304.6 L1534.0,1303.3 L1535.4,1301.9 L1536.8,1300.3 L1538.1,1298.5 L1539.5,1296.6 L1540.9,1294.5 L1542.2,1292.2 L1543.6,1289.8 L1544.9,1287.2 L1546.3,1284.4 L1547.7,1281.5 L1549.0,1278.4 L1550.4,1275.2 L1551.7,1271.7 L1553.1,1268.2 L1554.5,1264.4 L1555.8,1260.5 L1557.2,1256.5 L1558.5,1252.3 L1559.9,1247.9 L1561.3,1243.4 L1562.6,1238.8 L1564.0,1234.0 L1565.4,1229.1 L1566.7,1224.0 L1568.1,1218.9 L1569.4,1213.6 L1570.8,1208.1 L1572.2,1202.6 L1573.5,1196.9 L1574.9,1191.2 L1576.2,1185.3 L1577.6,1179.4 L1579.0,1173.4 L1580.3,1167.2 L1581.7,1161.1 L1583.0,1154.8 L1584.4,1148.5 L1585.8,1142.1 L1587.1,1135.7 L1588.5,1129.2 L1589.9,1122.7 L1591.2,1116.2 L1592.6,1109.7 L1593.9,1103.1 L1595.3,1096.6 L1596.7,1090.1 L1598.0,1083.6 L1599.4,1077.1 L1600.7,1070.7 L1602.1,1064.3" fill="none" stroke="#1a1a1a" stroke-width="3.8" stroke-linejoin="round" stroke-linecap="round" />
<line x1="1111" y1="1476.6" x2="1836" y2="1476.6" stroke="#231f20" stroke-width="2"/>
<path d="M1849.7,1476.6 L1832,1469 L1832,1484.2 Z" fill="#231f20"/>
<line x1="1284" y1="1624" x2="1284" y2="962" stroke="#231f20" stroke-width="2"/>
<path d="M1284,947.6 L1276,965.1 L1291.8,965.1 Z" fill="#231f20"/>
<line x1="1446" y1="1219.2" x2="1737.5" y2="1219.2" stroke="#231f20" stroke-width="1.8"/>
<line x1="1503" y1="1309" x2="1626.4" y2="1309" stroke="#231f20" stroke-width="1.8"/>
<line x1="1447.8" y1="1211.7" x2="1447.8" y2="1558" stroke="#231f20" stroke-width="2" stroke-dasharray="6.5,4.5"/>
<line x1="1522.1" y1="1282.8" x2="1522.1" y2="1627" stroke="#231f20" stroke-width="2" stroke-dasharray="6.5,4.5"/>
<line x1="1609.5" y1="1326" x2="1609.5" y2="1460.2" stroke="#231f20" stroke-width="1.8"/><path d="M1609.5,1310 L1601.75,1328 L1609.5,1324 L1617.25,1328 Z" fill="#231f20"/><path d="M1609.5,1476.2 L1601.75,1458.2 L1609.5,1462.2 L1617.25,1458.2 Z" fill="#231f20"/>
<line x1="1725.8" y1="1236" x2="1725.8" y2="1460.2" stroke="#231f20" stroke-width="1.8"/><path d="M1725.8,1220 L1718.05,1238 L1725.8,1234 L1733.55,1238 Z" fill="#231f20"/><path d="M1725.8,1476.2 L1718.05,1458.2 L1725.8,1462.2 L1733.55,1458.2 Z" fill="#231f20"/>
<line x1="1300.2" y1="1546.9" x2="1431.3" y2="1546.9" stroke="#231f20" stroke-width="1.8"/><path d="M1284.2,1546.9 L1302.2,1539.15 L1298.2,1546.9 L1302.2,1554.65 Z" fill="#231f20"/><path d="M1447.3,1546.9 L1429.3,1539.15 L1433.3,1546.9 L1429.3,1554.65 Z" fill="#231f20"/>
<line x1="1465.6" y1="1546.9" x2="1505.6" y2="1546.9" stroke="#231f20" stroke-width="1.8"/><path d="M1449.6,1546.9 L1467.6,1539.15 L1463.6,1546.9 L1467.6,1554.65 Z" fill="#231f20"/><path d="M1521.6,1546.9 L1503.6,1539.15 L1507.6,1546.9 L1503.6,1554.65 Z" fill="#231f20"/>
<line x1="1305.4" y1="1613.5" x2="1505.6" y2="1613.5" stroke="#231f20" stroke-width="1.8"/><path d="M1289.4,1613.5 L1307.4,1605.75 L1303.4,1613.5 L1307.4,1621.25 Z" fill="#231f20"/><path d="M1521.6,1613.5 L1503.6,1605.75 L1507.6,1613.5 L1503.6,1621.25 Z" fill="#231f20"/>
<path d="M1483.3,1187.6 C1472.2,1149.4 1417.0,1148.2 1401.7,1185.2" fill="none" stroke="#231f20" stroke-width="2.2"/>
<path d="M1396.4,1197.6 L1400.5,1178.8 L1405.2,1185.2 L1412.8,1187.6 Z" fill="#231f20"/>
<path d="M1405.2,1236.3 C1418.1,1179.4 1473.3,1175.8 1487.4,1234.6" fill="none" stroke="#231f20" stroke-width="2.2"/>
<path d="M1494.5,1246.3 L1480.4,1233.6 L1488.6,1234.6 L1493.9,1227.5 Z" fill="#231f20"/>
<path d="M76.2,206.7 L75.4,206.9 L74.5,207.2 L73.7,207.8 L73.1,208.8 L72.6,210.1 L72.0,211.3 L70.8,212.1 L69.2,212.6 L67.7,213.2 L66.7,214.3 L66.1,215.8 L65.6,217.3 L64.6,218.4 L63.4,219.2 L62.2,220.0 L61.4,221.1 L61.0,222.4 L60.9,223.8 L60.8,225.1 L60.5,226.3 L60.0,227.4 L59.5,228.6 L59.2,229.7 L59.1,231.0 L59.1,232.2 L59.1,233.4 L58.9,234.6 L58.7,235.8 L58.3,237.0 L57.9,238.1 L57.5,239.3 L57.0,240.4 L56.5,241.6 L55.9,242.7 L55.2,243.7 L54.5,244.8 L53.8,245.8 L53.0,246.8 L52.3,247.8 L51.5,248.8 L50.7,249.8 L49.9,250.9 L49.1,251.8 L48.2,252.8 L47.3,253.8 L46.5,254.9 L46.0,255.9 L45.4,256.9 L44.8,257.9 L44.0,258.9 L43.0,259.8 L42.0,260.7 L41.3,261.8 L40.9,263.1 L40.6,264.3 L39.9,265.5 L38.9,266.4 L37.7,267.1 L36.6,268.0 L35.9,269.0 L35.6,270.2 L35.4,271.4 L34.9,272.5 L34.0,273.2 L32.5,273.7 L31.1,274.1 L30.2,274.9 L29.5,276.1 L28.9,277.5 L28.0,278.4 L26.7,278.9 L25.3,279.1 L24.0,279.5 L23.1,280.3 L22.5,281.6 L22.0,282.8 L21.6,283.9 L20.9,284.8 L19.9,285.8 L19.0,286.9 L18.5,288.1 L18.5,289.5 L18.8,290.8 L19.0,292.1 L18.9,293.4 L18.6,294.6 L18.2,295.8 L17.9,297.1 L17.7,298.4 L17.5,299.7 L17.2,301.0 L16.6,302.2 L16.0,303.4 L15.3,304.6 L14.7,305.7 L14.2,306.9 L13.7,308.0 L13.2,309.0 L12.9,310.0 L12.6,310.8 L12.5,311.5 L12.5,312.8 L12.8,313.9 L13.3,314.9 L14.0,316.0 L14.9,316.9 L16.0,317.9 L17.2,319.0 L18.0,319.6 L18.9,320.1 L20.0,320.5 L21.1,320.7 L22.3,321.0 L23.5,321.5 L24.7,322.1 L25.9,322.8 L27.2,323.2 L28.5,323.3 L29.8,323.2 L31.1,323.2 L32.3,323.6 L33.5,324.5 L34.8,325.3 L36.2,325.6 L37.8,325.2 L39.4,324.8 L40.9,325.0 L42.2,325.9 L43.4,326.7 L44.6,326.9 L45.8,326.7 L46.8,326.3 L47.6,325.9" fill="none" stroke="#a5a115" stroke-width="2.50" stroke-linejoin="round" stroke-linecap="round"/>
<path d="M85.8,187.6 L85.8,186.8 L85.6,185.7 L85.0,184.7 L84.0,184.0 L82.7,183.2 L81.8,182.1 L81.5,180.6 L81.8,179.0 L81.7,177.6 L81.3,176.6 L80.5,175.5 L79.7,174.3 L79.4,172.9 L79.6,171.4 L79.9,170.0 L79.7,168.6 L79.1,167.3 L78.6,166.1 L78.4,164.9 L78.5,163.9 L78.8,163.1 L79.4,162.0 L80.0,161.1 L80.7,160.1 L81.7,159.3 L82.9,158.6 L84.3,158.2 L85.8,157.9 L86.8,157.9 L87.9,157.9 L89.1,158.0 L90.4,158.2 L91.7,158.5 L93.0,158.9 L94.3,159.2 L95.6,159.5 L96.8,159.7 L98.0,159.8 L99.1,159.8 L100.1,159.6 L101.2,159.3 L102.4,159.0 L103.7,158.6 L105.0,158.2 L106.3,157.6 L107.5,157.0 L108.7,156.5 L110.1,156.3 L111.3,156.4 L112.5,156.9 L113.5,157.5 L114.5,158.0 L115.6,158.5 L116.7,159.1 L117.7,159.9 L118.3,161.1 L118.7,162.5 L119.2,163.9 L120.2,164.9 L121.5,165.4 L122.7,165.7 L123.8,166.3 L124.5,167.3 L125.0,168.6 L125.5,169.9 L126.4,170.8 L127.7,171.3 L129.2,171.4 L130.7,171.6 L131.9,172.4 L133.0,173.6 L133.9,174.3 L135.0,174.7 L136.2,174.7 L137.5,174.3 L138.8,173.9 L140.0,173.9 L141.2,174.3 L142.4,174.8 L143.6,175.2 L144.9,175.1 L146.2,174.7 L147.6,174.3 L148.9,174.2 L150.1,174.4 L151.3,174.7 L152.5,174.9 L153.8,174.9 L155.1,174.8 L156.4,174.6 L157.7,174.6 L159.1,174.7 L160.4,174.9 L161.7,175.0 L163.0,175.1 L164.3,175.1 L165.6,175.2 L166.8,175.4 L168.1,175.6 L169.3,175.8 L170.5,176.0 L171.7,176.3 L173.0,176.6 L174.3,177.0 L175.5,177.4 L176.7,177.9 L177.9,178.4 L179.0,179.0 L180.1,179.5 L181.2,179.9 L182.3,180.2 L183.4,180.5 L184.5,180.8 L185.6,181.2 L186.7,181.7 L188.1,182.2 L189.4,182.2 L190.7,181.9 L192.0,181.4 L193.2,181.0 L194.4,181.0 L195.7,181.3 L196.8,181.7 L197.9,181.7 L198.9,181.4 L199.9,181.0 L201.3,180.8 L202.6,181.2 L203.6,182.3 L204.6,183.5 L205.9,184.1 L207.5,184.2 L209.1,184.1 L210.2,184.5 L211.0,185.1 L211.5,185.8" fill="none" stroke="#1e2b7e" stroke-width="2.50" stroke-linejoin="round" stroke-linecap="round"/>
<linearGradient id="cg1" gradientUnits="userSpaceOnUse" x1="99.8" y1="214.7" x2="112.7" y2="208.2"><stop offset="0" stop-color="#292e31"/><stop offset="0.12" stop-color="#4e575c"/><stop offset="0.3" stop-color="#798286"/><stop offset="0.55" stop-color="#5c666c"/><stop offset="0.82" stop-color="#373d41"/><stop offset="1" stop-color="#0e0f10"/></linearGradient><line x1="94.3" y1="187.6" x2="118.2" y2="235.3" stroke="url(#cg1)" stroke-width="14.5" stroke-linecap="round"/>
<ellipse cx="150.6" cy="292.5" rx="8.6" ry="17.2" fill="#c8ccd4" opacity="0.6"/>
<ellipse cx="194.4" cy="250.5" rx="7.6" ry="9.5" fill="#b8bce8" opacity="0.6"/>
<ellipse cx="221.1" cy="294.4" rx="8.6" ry="11.4" fill="#f0a0b0" opacity="0.6"/>
<linearGradient id="cg2" gradientUnits="userSpaceOnUse" x1="73.4" y1="316.4" x2="78.1" y2="331.4"><stop offset="0" stop-color="#630e0e"/><stop offset="0.12" stop-color="#bb1b1b"/><stop offset="0.3" stop-color="#e24848"/><stop offset="0.55" stop-color="#dc2020"/><stop offset="0.82" stop-color="#841313"/><stop offset="1" stop-color="#210505"/></linearGradient><line x1="102.9" y1="315.3" x2="48.6" y2="332.5" stroke="url(#cg2)" stroke-width="15.8" stroke-linecap="round"/>
<linearGradient id="cg3" gradientUnits="userSpaceOnUse" x1="76.0" y1="313.0" x2="93.6" y2="306.2"><stop offset="0" stop-color="#6c3f0d"/><stop offset="0.12" stop-color="#cc771a"/><stop offset="0.3" stop-color="#f3a146"/><stop offset="0.55" stop-color="#f08c1e"/><stop offset="0.82" stop-color="#905412"/><stop offset="1" stop-color="#241505"/></linearGradient><line x1="65.8" y1="260.1" x2="103.9" y2="359.2" stroke="url(#cg3)" stroke-width="18.9" stroke-linecap="round"/>
<linearGradient id="cg4" gradientUnits="userSpaceOnUse" x1="113.4" y1="209.1" x2="125.8" y2="223.4"><stop offset="0" stop-color="#6a670d"/><stop offset="0.12" stop-color="#c9c41a"/><stop offset="0.3" stop-color="#efeb46"/><stop offset="0.55" stop-color="#ece61e"/><stop offset="0.82" stop-color="#8e8a12"/><stop offset="1" stop-color="#232305"/></linearGradient><line x1="163.9" y1="178.1" x2="75.3" y2="254.4" stroke="url(#cg4)" stroke-width="18.9" stroke-linecap="round"/>
<linearGradient id="cg5" gradientUnits="userSpaceOnUse" x1="211.7" y1="260.6" x2="201.9" y2="278.0"><stop offset="0" stop-color="#4a5213"/><stop offset="0.12" stop-color="#8b9b24"/><stop offset="0.3" stop-color="#b4c350"/><stop offset="0.55" stop-color="#a4b62a"/><stop offset="0.82" stop-color="#626d19"/><stop offset="1" stop-color="#191b06"/></linearGradient><line x1="185.8" y1="257.6" x2="227.7" y2="281.0" stroke="url(#cg5)" stroke-width="20.0" stroke-linecap="round"/>
<linearGradient id="cg6" gradientUnits="userSpaceOnUse" x1="220.7" y1="211.7" x2="211.9" y2="230.3"><stop offset="0" stop-color="#131b51"/><stop offset="0.12" stop-color="#253499"/><stop offset="0.3" stop-color="#5160c2"/><stop offset="0.55" stop-color="#2b3db4"/><stop offset="0.82" stop-color="#1a256c"/><stop offset="1" stop-color="#06091b"/></linearGradient><line x1="162.0" y1="195.3" x2="270.6" y2="246.7" stroke="url(#cg6)" stroke-width="20.5" stroke-linecap="round"/>
<linearGradient id="cg7" gradientUnits="userSpaceOnUse" x1="224.3" y1="196.1" x2="236.9" y2="203.1"><stop offset="0" stop-color="#6c3f0d"/><stop offset="0.12" stop-color="#cc771a"/><stop offset="0.3" stop-color="#f3a146"/><stop offset="0.55" stop-color="#f08c1e"/><stop offset="0.82" stop-color="#905412"/><stop offset="1" stop-color="#241505"/></linearGradient><line x1="238.2" y1="185.7" x2="223.0" y2="213.4" stroke="url(#cg7)" stroke-width="14.5" stroke-linecap="round"/>
<linearGradient id="cg8" gradientUnits="userSpaceOnUse" x1="195.7" y1="262.6" x2="216.0" y2="265.2"><stop offset="0" stop-color="#0e143c"/><stop offset="0.12" stop-color="#1b2572"/><stop offset="0.3" stop-color="#48529c"/><stop offset="0.55" stop-color="#202c86"/><stop offset="0.82" stop-color="#131a50"/><stop offset="1" stop-color="#050714"/></linearGradient><line x1="215.4" y1="189.6" x2="196.3" y2="338.2" stroke="url(#cg8)" stroke-width="20.5" stroke-linecap="round"/>
<linearGradient id="cg9" gradientUnits="userSpaceOnUse" x1="276.0" y1="302.5" x2="270.0" y2="317.7"><stop offset="0" stop-color="#6a670d"/><stop offset="0.12" stop-color="#c9c41a"/><stop offset="0.3" stop-color="#efeb46"/><stop offset="0.55" stop-color="#ece61e"/><stop offset="0.82" stop-color="#8e8a12"/><stop offset="1" stop-color="#232305"/></linearGradient><line x1="257.3" y1="303.9" x2="288.7" y2="316.3" stroke="url(#cg9)" stroke-width="16.3" stroke-linecap="round"/>
<linearGradient id="cg10" gradientUnits="userSpaceOnUse" x1="233.3" y1="318.5" x2="252.7" y2="318.8"><stop offset="0" stop-color="#380909"/><stop offset="0.12" stop-color="#691111"/><stop offset="0.3" stop-color="#943e3e"/><stop offset="0.55" stop-color="#7c1414"/><stop offset="0.82" stop-color="#4a0c0c"/><stop offset="1" stop-color="#130303"/></linearGradient><line x1="243.9" y1="262.9" x2="242.0" y2="374.4" stroke="url(#cg10)" stroke-width="19.5" stroke-linecap="round"/><ellipse cx="243.9" cy="262.9" rx="5.4" ry="9.7" transform="rotate(91.0 243.9 262.9)" fill="#903737"/>
<linearGradient id="cg11" gradientUnits="userSpaceOnUse" x1="199.2" y1="309.4" x2="201.0" y2="330.8"><stop offset="0" stop-color="#380909"/><stop offset="0.12" stop-color="#691111"/><stop offset="0.3" stop-color="#943e3e"/><stop offset="0.55" stop-color="#7c1414"/><stop offset="0.82" stop-color="#4a0c0c"/><stop offset="1" stop-color="#130303"/></linearGradient><line x1="133.4" y1="325.8" x2="266.8" y2="314.4" stroke="url(#cg11)" stroke-width="21.6" stroke-linecap="round"/>
<ellipse cx="266.8" cy="313.8" rx="5.7" ry="8.0" fill="#dc2020" opacity="1.0"/>
<linearGradient id="cg12" gradientUnits="userSpaceOnUse" x1="160.0" y1="359.5" x2="164.0" y2="380.7"><stop offset="0" stop-color="#0f0f0f"/><stop offset="0.12" stop-color="#1d1d1d"/><stop offset="0.3" stop-color="#4a4a4a"/><stop offset="0.55" stop-color="#222222"/><stop offset="0.82" stop-color="#141414"/><stop offset="1" stop-color="#050505"/></linearGradient><line x1="114.4" y1="379.2" x2="209.6" y2="361.1" stroke="url(#cg12)" stroke-width="21.6" stroke-linecap="round"/>
<linearGradient id="cg13" gradientUnits="userSpaceOnUse" x1="132.9" y1="335.3" x2="151.0" y2="329.7"><stop offset="0" stop-color="#292e31"/><stop offset="0.12" stop-color="#4e575c"/><stop offset="0.3" stop-color="#798286"/><stop offset="0.55" stop-color="#5c666c"/><stop offset="0.82" stop-color="#373d41"/><stop offset="1" stop-color="#0e0f10"/></linearGradient><line x1="120.1" y1="262.0" x2="163.9" y2="403.0" stroke="url(#cg13)" stroke-width="18.9" stroke-linecap="round"/>
<linearGradient id="cg14" gradientUnits="userSpaceOnUse" x1="167.2" y1="387.8" x2="187.2" y2="387.8"><stop offset="0" stop-color="#131b51"/><stop offset="0.12" stop-color="#253499"/><stop offset="0.3" stop-color="#5160c2"/><stop offset="0.55" stop-color="#2b3db4"/><stop offset="0.82" stop-color="#1a256c"/><stop offset="1" stop-color="#06091b"/></linearGradient><line x1="177.2" y1="361.1" x2="177.2" y2="414.4" stroke="url(#cg14)" stroke-width="20.0" stroke-linecap="round"/>
<linearGradient id="cg15" gradientUnits="userSpaceOnUse" x1="108.7" y1="273.5" x2="120.0" y2="288.6"><stop offset="0" stop-color="#6c3f0d"/><stop offset="0.12" stop-color="#cc771a"/><stop offset="0.3" stop-color="#f3a146"/><stop offset="0.55" stop-color="#f08c1e"/><stop offset="0.82" stop-color="#905412"/><stop offset="1" stop-color="#241505"/></linearGradient><line x1="180.1" y1="231.5" x2="48.6" y2="330.6" stroke="url(#cg15)" stroke-width="18.9" stroke-linecap="round"/>
<linearGradient id="cg16" gradientUnits="userSpaceOnUse" x1="141.0" y1="218.8" x2="130.6" y2="235.9"><stop offset="0" stop-color="#4a5213"/><stop offset="0.12" stop-color="#8b9b24"/><stop offset="0.3" stop-color="#b4c350"/><stop offset="0.55" stop-color="#a4b62a"/><stop offset="0.82" stop-color="#626d19"/><stop offset="1" stop-color="#191b06"/></linearGradient><line x1="85.8" y1="197.2" x2="185.8" y2="257.6" stroke="url(#cg16)" stroke-width="20.0" stroke-linecap="round"/>
<path d="M87.7,189.6 L87.3,190.3 L86.9,191.1 L86.7,192.0 L86.9,193.1 L87.4,194.2 L87.9,195.4 L88.0,196.7 L87.4,198.1 L86.6,199.5 L86.3,201.0 L86.7,202.4 L87.4,203.8 L87.8,205.2 L87.7,206.6 L87.3,208.0 L87.2,209.4 L87.5,210.6 L88.1,211.7 L88.7,212.7 L89.5,214.0 L90.1,215.3 L90.5,216.7 L91.1,218.0 L92.0,219.1 L93.0,220.0 L94.1,220.9 L95.0,221.7 L95.9,222.6 L96.7,223.4 L97.6,224.1 L98.5,224.8 L99.4,225.4 L100.6,226.0 L101.7,226.7 L102.9,227.2 L104.1,227.7 L105.3,228.1 L106.4,228.4 L107.5,228.6 L108.5,228.6 L109.4,228.5 L110.2,228.4 L110.8,228.1 L111.4,227.8 L112.0,227.2 L112.7,226.5 L113.3,225.6 L113.9,224.5 L114.5,223.3 L115.3,222.1 L116.5,220.9 L118.1,220.0 L118.8,219.3 L119.5,218.5 L120.0,217.5 L120.6,216.4 L121.4,215.4 L122.5,214.7 L123.9,214.2 L125.2,213.4 L126.0,212.4 L126.5,211.0 L127.0,209.7 L127.9,208.7 L129.3,208.2 L130.7,207.8 L131.7,207.1 L132.4,206.2 L132.7,205.0 L133.1,204.0 L133.6,203.2 L135.1,202.5 L136.6,202.5 L137.8,202.4 L138.7,201.9 L139.6,201.1 L140.5,200.3 L141.5,199.7 L142.6,199.6 L143.8,199.7 L145.0,199.8 L146.4,199.6 L147.7,198.9 L149.0,198.0 L150.5,197.4 L151.9,197.2 L153.3,197.2 L154.5,197.1 L155.4,196.9 L156.2,196.6" fill="none" stroke="#1e2b7e" stroke-width="2.50" stroke-linejoin="round" stroke-linecap="round"/>
<path d="M51.5,334.4 L51.5,335.3 L51.6,336.3 L52.1,337.3 L53.0,338.1 L54.3,339.0 L55.2,340.0 L55.6,341.6 L55.7,343.3 L56.2,344.8 L57.3,345.8 L58.6,346.6 L59.8,347.3 L60.6,348.2 L61.4,349.5 L62.5,350.6 L63.7,351.3 L65.1,351.5 L66.4,351.4 L67.7,351.4 L68.9,351.8 L69.9,352.4 L70.8,353.2 L71.9,354.0 L72.7,354.6 L73.6,355.4 L74.4,356.3 L75.1,357.3 L75.8,358.5 L76.4,359.6 L77.1,360.8 L77.9,362.0 L78.6,363.1 L79.4,364.2 L80.2,365.3 L81.0,366.2 L81.8,367.1 L82.7,367.9 L83.5,368.5 L84.5,369.0 L85.6,369.5 L86.7,370.0 L87.9,370.5 L89.1,371.1 L90.3,371.7 L91.6,372.1 L92.9,372.4 L94.2,372.7 L95.4,373.3 L96.4,374.1 L97.3,375.0 L98.2,375.7 L99.1,376.4 L100.3,377.0 L101.4,377.7 L102.3,378.7 L102.7,379.9 L102.8,381.2 L103.0,382.4 L103.4,383.5 L104.2,384.4 L105.3,385.3 L106.0,386.5 L106.2,388.0 L106.0,389.2 L105.8,390.4 L106.0,391.5 L106.7,392.5 L107.7,393.6 L108.5,394.7 L108.6,396.0 L108.3,397.4 L108.1,398.9 L108.4,400.2 L109.3,401.3 L110.4,402.4 L111.1,403.5 L111.4,404.7 L111.5,406.0 L111.7,407.2 L112.4,408.4 L113.4,409.4 L114.6,410.2 L115.6,411.1 L116.3,412.2 L116.8,413.3 L117.5,414.4 L118.3,415.3 L119.3,416.1 L120.3,416.8 L121.2,417.6 L122.0,418.5 L122.8,419.4 L123.7,420.4 L124.6,421.3 L125.5,422.2 L126.5,423.0 L127.4,423.9 L128.3,424.8 L129.2,425.6 L130.1,426.4 L131.0,427.2 L131.9,427.9 L132.8,428.5 L133.7,429.1 L135.0,429.8 L136.2,430.6 L137.4,431.4 L138.7,432.1 L140.0,432.5 L141.3,432.6 L142.6,432.6 L143.8,432.4 L145.1,432.0 L146.1,431.6 L147.0,431.0 L147.8,430.1 L148.3,429.0 L148.5,427.7 L148.8,426.4 L149.4,425.2 L150.3,424.1 L151.4,423.0 L152.0,421.8 L152.1,420.3 L152.0,418.9 L152.2,417.6 L152.9,416.6 L154.1,415.9 L155.2,415.2 L155.9,414.3 L156.2,413.0 L156.4,411.6 L156.7,410.3 L157.5,409.3 L158.6,408.7 L159.8,408.0 L160.6,407.0 L160.9,405.6 L160.9,404.0 L160.9,402.5 L161.3,401.5 L162.1,400.6 L162.9,399.7 L163.5,398.7 L163.8,397.4 L163.8,396.1 L163.8,394.7 L164.2,393.5 L164.8,392.4 L165.4,391.2 L165.9,390.0 L166.1,388.8 L166.2,387.6 L166.3,386.4 L166.5,385.3 L166.7,384.2 L166.9,383.1 L167.0,382.1 L166.9,380.9 L166.7,379.7 L166.5,378.5 L166.2,377.2 L165.8,375.8 L165.4,374.5 L164.9,373.2 L164.4,371.9 L163.8,370.6 L163.2,369.5 L162.5,368.3 L161.8,367.3 L161.1,366.3 L160.4,365.3 L159.6,364.5 L158.8,363.9 L157.5,363.3 L156.1,363.0 L154.7,362.9 L153.3,362.8 L151.8,362.7 L150.3,362.8 L149.0,363.4 L147.8,364.3 L146.8,365.2 L145.7,365.9 L144.5,366.3 L143.2,366.7 L142.1,367.6 L141.4,368.9 L141.3,370.4 L141.4,372.0 L141.0,373.3 L140.0,374.3 L138.9,374.9 L137.9,375.4 L137.1,376.0 L136.2,376.8 L135.0,377.7 L133.5,378.2 L132.0,377.8 L130.6,376.9 L129.3,376.1 L127.9,376.0 L126.4,376.3 L125.1,376.5 L124.2,376.4 L123.5,376.2" fill="none" stroke="#a86215" stroke-width="2.50" stroke-linejoin="round" stroke-linecap="round"/>
<path d="M209.6,364.9 L210.4,364.8 L211.3,364.5 L212.1,364.0 L212.7,363.3 L213.1,362.2 L213.6,361.0 L214.3,360.1 L215.4,359.4 L216.9,359.1 L218.3,358.6 L219.3,357.7 L219.9,356.3 L220.6,354.9 L221.6,354.0 L223.0,353.4 L224.4,352.9 L225.5,352.1 L226.3,351.0 L227.1,349.8 L228.0,348.9 L229.0,348.2 L230.1,347.8 L231.2,347.3 L232.2,346.7 L233.1,345.9 L234.0,345.1 L235.0,344.3 L236.1,343.7 L237.2,343.1 L238.3,342.6 L239.4,342.0 L240.4,341.4 L241.6,340.8 L242.7,340.2 L243.8,339.7 L245.0,339.3 L246.2,338.8 L247.3,338.4 L248.5,338.1 L249.7,337.7 L250.9,337.4 L252.1,337.2 L253.3,337.0 L254.5,336.8 L255.8,336.8 L257.1,336.9 L258.4,336.8 L259.7,336.7 L261.1,336.5 L262.4,336.6 L263.8,336.9 L265.1,337.4 L266.4,337.8 L267.8,337.8 L269.1,337.6 L270.4,337.6 L271.7,337.9 L272.8,338.6 L273.9,339.5 L275.0,340.0 L276.1,340.2 L277.2,340.0 L278.3,339.9 L279.3,339.9 L280.1,340.3 L281.2,341.7 L282.1,343.0 L283.2,343.8 L284.6,344.0 L286.0,344.4 L287.0,345.2 L287.4,346.5 L287.4,347.8 L287.5,348.8 L287.9,349.7 L288.6,350.5 L289.2,351.5 L289.4,352.5 L289.3,353.5 L288.6,354.4 L287.8,355.3 L287.0,356.3 L286.6,357.5 L286.3,359.0 L285.8,360.4 L285.0,361.6 L283.9,362.6 L282.8,363.6 L281.8,364.6 L280.9,365.8 L280.0,366.9 L278.9,367.8 L277.9,368.4 L276.9,368.9 L275.8,369.3 L274.7,369.8 L273.6,370.2 L272.4,370.6 L271.3,370.9 L270.1,371.1 L268.8,371.3 L267.6,371.5 L266.3,371.7 L265.1,371.8 L263.8,372.0 L262.5,372.1 L261.2,372.3 L259.9,372.4 L258.6,372.5 L257.3,372.6 L256.2,372.7 L255.0,372.9 L253.9,373.2 L252.8,373.5 L251.6,373.6 L250.3,373.6 L249.1,373.4 L247.8,373.4 L246.6,373.6 L245.4,374.1 L244.3,374.6 L243.1,375.0 L241.8,374.9 L240.5,374.7 L239.1,374.5 L237.9,374.9 L236.8,375.6 L235.8,376.5 L234.7,377.2 L233.5,377.4 L232.2,377.2 L230.8,377.1 L229.6,377.5 L228.6,378.4 L227.7,379.7 L226.8,380.7 L225.7,381.2 L224.3,381.3 L223.0,381.3 L221.8,381.7 L220.8,382.6 L220.0,383.8 L219.1,384.9 L218.1,385.5 L216.8,385.8 L215.5,385.9 L214.3,386.2 L213.3,386.9 L212.3,387.8 L211.3,388.7 L210.2,389.2 L209.0,389.5 L207.7,389.7 L206.4,389.9 L205.2,390.3 L204.1,390.8 L202.9,391.4 L201.7,391.7 L200.4,392.0 L199.2,392.2 L197.9,392.4 L196.7,392.7 L195.5,393.0 L194.4,393.2 L193.2,393.5 L192.0,393.7 L190.9,394.0 L189.8,394.2 L188.7,394.5 L187.6,394.7 L186.6,395.0 L185.2,395.5 L183.8,396.0 L182.4,396.5 L181.0,396.9 L179.6,397.4 L178.4,398.0 L177.2,398.7 L176.1,399.4 L175.1,400.0 L174.0,400.4 L173.0,400.7 L172.1,401.0 L171.4,401.3 L170.8,401.7" fill="none" stroke="#181818" stroke-width="2.50" stroke-linejoin="round" stroke-linecap="round"/>
<path d="M238.2,183.8 L239.1,183.7 L240.2,183.3 L241.1,182.6 L241.7,181.3 L242.3,179.9 L243.3,178.9 L244.8,178.5 L246.3,178.4 L247.5,178.2 L248.2,177.8 L249.2,177.0 L250.4,176.3 L251.7,176.2 L253.0,176.6 L254.2,177.2 L255.3,177.6 L256.4,177.7 L257.7,177.9 L258.8,178.5 L259.3,179.1 L259.8,180.0 L260.2,180.9 L260.7,181.8 L261.3,182.8 L262.0,183.7 L262.7,184.7 L263.3,185.9 L263.8,187.1 L264.2,188.4 L264.6,189.7 L265.0,191.0 L265.3,192.4 L265.6,193.8 L265.7,195.3 L265.8,196.3 L265.8,197.4 L265.7,198.6 L265.6,199.7 L265.4,200.9 L265.2,202.1 L264.9,203.3 L264.7,204.6 L264.3,205.8 L263.8,207.0 L263.3,208.2 L262.9,209.4 L262.6,210.7 L262.4,212.0 L262.0,213.2 L261.4,214.3 L260.7,215.4 L260.0,216.6 L259.6,217.7 L259.5,218.9 L259.6,220.1 L259.5,221.4 L258.9,222.6 L258.0,223.7 L257.1,224.8 L256.7,226.0 L256.7,227.3 L257.0,228.7 L257.0,230.0 L256.5,231.2 L255.6,232.3 L254.7,233.4 L254.3,234.6 L254.5,235.9 L255.1,237.2 L255.5,238.4 L255.6,239.5 L255.3,240.7 L254.8,242.0 L254.6,243.2 L254.9,244.5 L255.8,245.6 L256.9,246.6 L257.8,247.5 L258.4,248.6 L258.7,249.9 L259.0,251.2 L259.7,252.3 L260.8,253.1 L262.0,253.9 L263.0,254.7 L263.8,255.7 L264.4,256.8 L264.9,257.9 L265.6,258.9 L266.3,259.8 L267.1,260.6 L267.8,261.5 L268.5,262.8 L269.0,264.0 L269.5,265.2 L270.0,266.4 L270.6,267.5 L271.1,268.6 L271.5,269.8 L271.8,270.9 L272.1,272.1 L272.3,273.3 L272.4,274.6 L272.5,275.9 L272.4,277.2 L272.3,278.4 L272.0,279.6 L271.7,280.8 L271.2,282.0 L270.6,283.2 L269.9,284.4 L269.4,285.7 L268.9,286.9 L268.5,288.2 L267.9,289.5 L267.2,290.6 L266.5,291.7 L265.9,292.9 L265.7,294.1 L265.8,295.3 L266.1,296.4 L266.6,297.8 L266.8,299.3 L267.0,301.0 L267.5,302.6 L268.6,303.7 L270.1,304.4 L271.4,305.0 L272.3,305.9 L272.8,307.0 L273.0,308.0 L273.2,308.7" fill="none" stroke="#570e0e" stroke-width="2.50" stroke-linejoin="round" stroke-linecap="round"/>
<path d="M194.4,208.6 L195.2,208.3 L196.2,207.8 L196.9,206.9 L197.3,205.6 L197.6,204.1 L198.4,202.9 L199.7,202.1 L201.2,201.7 L202.4,201.1 L203.1,200.4 L203.8,199.1 L204.6,197.9 L205.8,197.3 L207.1,197.1 L208.4,197.1 L209.4,196.9 L210.4,196.6 L211.4,196.2 L212.3,196.2 L213.3,196.4 L214.3,197.0 L215.2,197.7 L216.1,198.5 L217.2,199.1 L218.3,199.8 L219.5,200.6 L220.4,201.7 L221.2,202.8 L221.7,203.8 L222.1,204.8 L222.5,206.0 L222.9,207.2 L223.2,208.5 L223.5,209.9 L223.8,211.2 L224.0,212.6 L224.3,213.9 L224.5,215.2 L224.8,216.4 L225.2,217.5 L225.6,218.5 L226.0,219.4 L226.5,220.4 L227.1,221.3 L227.9,222.1 L228.9,222.7 L230.0,223.3 L231.2,223.8 L232.2,224.6 L233.1,225.6 L233.9,226.7 L234.7,227.7 L235.6,228.5 L236.6,229.4 L237.3,230.4 L237.7,231.5 L237.6,232.9 L237.3,234.3 L237.3,235.7 L237.7,236.9 L238.6,238.1 L239.2,239.4 L239.1,240.8 L238.6,242.2 L238.1,243.5 L238.0,244.7 L238.4,245.8 L239.1,246.8 L239.8,248.3 L239.5,249.8 L238.5,251.2 L237.8,252.5 L237.8,253.8 L238.1,255.2 L238.4,256.4 L238.4,257.4 L238.2,258.2" fill="none" stroke="#570e0e" stroke-width="2.50" stroke-linejoin="round" stroke-linecap="round"/>
<path d="M437.7,191.5 L436.9,191.0 L436.0,190.6 L435.0,190.5 L433.8,190.8 L432.6,191.4 L431.2,191.8 L429.8,191.6 L428.2,190.9 L426.6,190.5 L425.0,190.9 L423.6,192.0 L422.2,192.9 L421.2,193.2 L420.0,193.2 L418.7,193.3 L417.4,193.6 L416.3,194.4 L415.3,195.4 L414.3,196.4 L413.1,197.1 L411.8,197.6 L410.6,198.2 L409.4,199.0 L408.5,199.9 L407.6,200.9 L406.7,201.8 L405.8,202.6 L404.9,203.4 L404.2,204.2 L403.6,205.0 L402.9,206.1 L402.3,207.3 L401.9,208.4 L401.5,209.5 L401.1,210.7 L400.9,211.8 L400.7,213.0 L400.6,214.1 L400.5,215.3 L400.6,216.5 L400.6,217.6 L400.7,218.8 L400.7,219.9 L400.8,220.9 L401.1,221.9 L401.6,222.9 L402.3,224.0 L403.1,225.0 L403.8,226.2 L404.2,227.5 L404.6,228.9 L405.2,230.2 L406.0,231.2 L406.8,232.1 L407.4,233.2 L407.5,234.3 L407.2,235.3 L406.5,236.2 L405.7,237.0 L405.1,237.7 L404.6,238.6 L404.3,239.7 L403.7,240.9 L402.7,241.7 L401.3,242.1 L399.7,242.4 L398.4,243.2 L397.7,244.6 L397.2,246.3 L396.6,247.2 L395.7,247.9 L394.5,248.2 L393.2,248.4 L392.2,249.0 L391.4,250.1 L390.8,251.4 L390.2,252.6 L389.3,253.5 L388.0,254.1 L386.8,254.8 L385.8,255.7 L385.1,257.0 L384.8,258.4 L384.3,259.8 L383.6,261.0 L382.8,262.2 L382.3,263.1 L382.0,264.1 L381.9,265.2 L381.8,266.4 L381.7,267.6 L381.5,268.7 L381.2,270.0 L380.9,271.2 L380.7,272.5 L380.5,273.8 L380.3,275.1 L380.1,276.5 L379.9,277.8 L379.6,279.2 L379.4,280.5 L379.1,281.8 L378.9,283.1 L378.6,284.4 L378.4,285.7 L378.1,286.9 L377.7,288.1 L377.4,289.3 L377.0,290.4 L376.7,291.4 L376.5,292.4 L376.3,294.0 L375.8,295.4 L375.1,296.6 L374.3,297.8 L373.7,298.9 L373.4,300.1 L373.3,301.3 L373.3,302.5 L373.0,303.7 L372.4,304.7 L371.7,305.7 L371.1,306.8 L370.9,308.0 L371.1,309.2 L371.7,310.4 L372.4,311.6 L372.7,312.7 L372.7,314.0 L372.4,315.4 L372.4,316.8 L373.0,318.0 L374.2,319.0 L375.5,319.9 L376.3,321.0 L376.5,322.3 L376.7,323.8 L377.1,325.1 L378.2,326.0 L379.6,326.6 L380.8,327.2 L381.7,328.1 L382.2,329.1 L382.8,330.2 L383.5,331.1 L384.5,331.7 L385.7,331.9 L386.9,332.1 L388.0,332.4 L389.1,333.0 L390.1,333.7 L391.2,334.4 L392.3,334.8 L393.6,335.0 L394.8,335.2 L396.0,335.5 L397.2,336.0 L398.3,336.5 L399.4,336.9 L400.5,337.3 L401.6,337.6 L402.9,338.1 L404.2,338.5 L405.5,339.0 L406.8,339.4 L408.1,339.9 L409.4,340.3 L410.7,340.6 L412.0,340.9 L413.2,341.1 L414.4,341.3 L415.6,341.4 L416.8,341.5 L417.9,341.4 L419.0,341.2 L420.4,340.6 L421.5,339.6 L422.5,338.4 L423.6,337.3 L424.6,336.2 L425.5,335.0 L426.1,333.8 L426.3,332.6 L426.4,331.6 L426.6,330.9" fill="none" stroke="#a5a115" stroke-width="2.50" stroke-linejoin="round" stroke-linecap="round"/>
<path d="M432.0,172.4 L432.8,172.0 L433.6,171.3 L434.2,170.3 L434.4,169.0 L434.4,167.5 L434.9,166.1 L436.2,165.2 L437.7,164.5 L438.8,163.8 L439.4,162.9 L440.0,161.8 L440.7,161.0 L441.6,160.6 L442.7,160.5 L443.8,160.7 L444.9,160.8 L446.0,160.6 L447.1,160.2 L448.3,159.6 L449.5,159.2 L450.9,159.2 L452.2,159.4 L453.6,159.6 L455.1,159.6 L456.7,159.4 L457.7,159.3 L458.7,159.4 L459.7,159.5 L460.8,159.8 L461.9,160.0 L463.1,160.2 L464.2,160.4 L465.4,160.7 L466.6,160.9 L467.8,161.2 L469.0,161.6 L470.3,161.9 L471.5,162.3 L472.7,162.6 L474.0,163.0 L475.2,163.3 L476.4,163.7 L477.7,164.0 L478.8,164.5 L480.0,164.9 L481.2,165.3 L482.4,165.5 L483.6,165.6 L484.8,165.8 L486.0,166.1 L487.2,166.6 L488.4,167.2 L489.7,167.6 L491.0,167.7 L492.3,167.5 L493.6,167.5 L494.9,167.9 L496.2,168.6 L497.5,169.4 L498.8,169.6 L500.1,169.4 L501.4,168.9 L502.7,168.7 L503.9,169.0 L505.1,169.8 L506.4,170.4 L507.6,170.6 L508.7,170.3 L509.9,169.7 L511.0,169.1 L512.0,169.0 L513.5,169.3 L515.0,169.9 L516.5,169.9 L517.8,169.3 L518.8,168.3 L519.9,167.4 L521.0,166.9 L522.2,166.8 L523.4,166.8 L524.6,166.7 L525.6,166.3 L526.6,165.6 L527.6,164.9 L528.7,164.4 L529.8,164.2 L531.1,164.2 L532.3,164.4 L533.5,164.6 L534.7,164.6 L536.0,164.6 L537.3,164.7 L538.5,165.0 L539.7,165.3 L540.9,165.7 L542.1,166.1 L543.3,166.4 L544.5,166.7 L545.6,167.0 L546.7,167.2 L547.8,167.4 L549.0,167.5 L550.1,167.6 L551.2,167.5 L552.3,167.4 L553.6,167.1 L554.9,166.7 L556.2,166.3 L557.5,165.9 L558.9,165.5 L560.3,165.1 L561.6,164.6 L562.8,164.0 L564.0,163.5 L565.2,163.3 L566.3,163.4 L567.3,163.6 L568.1,163.9 L568.8,164.0 L569.6,164.2 L570.6,164.5 L571.6,165.2 L572.2,166.3 L572.4,167.7 L572.7,169.1 L573.4,170.3 L574.6,171.3 L575.8,172.4 L576.4,173.7 L576.3,175.2 L576.3,176.7 L576.8,177.8 L577.6,178.6 L579.3,179.7 L580.3,181.0 L580.5,182.5 L580.3,183.9 L580.2,185.2 L580.6,186.2 L581.3,187.0 L581.9,187.6" fill="none" stroke="#1e2b7e" stroke-width="2.50" stroke-linejoin="round" stroke-linecap="round"/>
<linearGradient id="cg17" gradientUnits="userSpaceOnUse" x1="445.4" y1="199.6" x2="458.5" y2="192.8"><stop offset="0" stop-color="#292e31"/><stop offset="0.12" stop-color="#4e575c"/><stop offset="0.3" stop-color="#798286"/><stop offset="0.55" stop-color="#5c666c"/><stop offset="0.82" stop-color="#373d41"/><stop offset="1" stop-color="#0e0f10"/></linearGradient><line x1="439.6" y1="172.4" x2="464.4" y2="220.0" stroke="url(#cg17)" stroke-width="14.8" stroke-linecap="round"/>
<ellipse cx="508.2" cy="317.2" rx="11.4" ry="8.6" fill="#c8ccd4" opacity="0.6"/>
<ellipse cx="542.5" cy="292.5" rx="6.7" ry="10.5" fill="#c8c8e8" opacity="0.6"/>
<linearGradient id="cg18" gradientUnits="userSpaceOnUse" x1="416.2" y1="309.9" x2="417.2" y2="326.5"><stop offset="0" stop-color="#630e0e"/><stop offset="0.12" stop-color="#bb1b1b"/><stop offset="0.3" stop-color="#e24848"/><stop offset="0.55" stop-color="#dc2020"/><stop offset="0.82" stop-color="#841313"/><stop offset="1" stop-color="#210505"/></linearGradient><line x1="384.3" y1="320.1" x2="449.1" y2="316.3" stroke="url(#cg18)" stroke-width="16.7" stroke-linecap="round"/>
<linearGradient id="cg19" gradientUnits="userSpaceOnUse" x1="507.9" y1="365.1" x2="508.5" y2="383.7"><stop offset="0" stop-color="#151618"/><stop offset="0.12" stop-color="#272a2e"/><stop offset="0.3" stop-color="#54575a"/><stop offset="0.55" stop-color="#2e3236"/><stop offset="0.82" stop-color="#1c1e20"/><stop offset="1" stop-color="#070808"/></linearGradient><line x1="441.5" y1="376.3" x2="574.9" y2="372.5" stroke="url(#cg19)" stroke-width="18.6" stroke-linecap="round"/>
<linearGradient id="cg20" gradientUnits="userSpaceOnUse" x1="511.0" y1="387.9" x2="526.3" y2="391.5"><stop offset="0" stop-color="#131b51"/><stop offset="0.12" stop-color="#253499"/><stop offset="0.3" stop-color="#5160c2"/><stop offset="0.55" stop-color="#2b3db4"/><stop offset="0.82" stop-color="#1a256c"/><stop offset="1" stop-color="#06091b"/></linearGradient><line x1="525.3" y1="361.1" x2="512.0" y2="418.3" stroke="url(#cg20)" stroke-width="15.7" stroke-linecap="round"/>
<linearGradient id="cg21" gradientUnits="userSpaceOnUse" x1="416.8" y1="309.9" x2="432.8" y2="302.7"><stop offset="0" stop-color="#68360c"/><stop offset="0.12" stop-color="#c56616"/><stop offset="0.3" stop-color="#ec9043"/><stop offset="0.55" stop-color="#e8781a"/><stop offset="0.82" stop-color="#8b4810"/><stop offset="1" stop-color="#231204"/></linearGradient><line x1="396.7" y1="243.9" x2="452.9" y2="368.7" stroke="url(#cg21)" stroke-width="17.6" stroke-linecap="round"/>
<linearGradient id="cg22" gradientUnits="userSpaceOnUse" x1="522.2" y1="319.3" x2="518.9" y2="338.1"><stop offset="0" stop-color="#580c0c"/><stop offset="0.12" stop-color="#a71616"/><stop offset="0.3" stop-color="#cf4343"/><stop offset="0.55" stop-color="#c41a1a"/><stop offset="0.82" stop-color="#761010"/><stop offset="1" stop-color="#1d0404"/></linearGradient><line x1="466.3" y1="319.1" x2="574.9" y2="338.2" stroke="url(#cg22)" stroke-width="19.1" stroke-linecap="round"/>
<linearGradient id="cg23" gradientUnits="userSpaceOnUse" x1="478.1" y1="330.9" x2="494.5" y2="324.5"><stop offset="0" stop-color="#292e31"/><stop offset="0.12" stop-color="#4e575c"/><stop offset="0.3" stop-color="#798286"/><stop offset="0.55" stop-color="#5c666c"/><stop offset="0.82" stop-color="#373d41"/><stop offset="1" stop-color="#0e0f10"/></linearGradient><line x1="456.7" y1="252.4" x2="515.8" y2="403.0" stroke="url(#cg23)" stroke-width="17.6" stroke-linecap="round"/>
<linearGradient id="cg24" gradientUnits="userSpaceOnUse" x1="461.5" y1="203.8" x2="472.9" y2="217.3"><stop offset="0" stop-color="#6a670d"/><stop offset="0.12" stop-color="#c9c41a"/><stop offset="0.3" stop-color="#efeb46"/><stop offset="0.55" stop-color="#ece61e"/><stop offset="0.82" stop-color="#8e8a12"/><stop offset="1" stop-color="#232305"/></linearGradient><line x1="521.5" y1="164.8" x2="412.9" y2="256.3" stroke="url(#cg24)" stroke-width="17.6" stroke-linecap="round"/>
<linearGradient id="cg25" gradientUnits="userSpaceOnUse" x1="460.2" y1="266.1" x2="471.3" y2="279.8"><stop offset="0" stop-color="#6c3f0d"/><stop offset="0.12" stop-color="#cc771a"/><stop offset="0.3" stop-color="#f3a146"/><stop offset="0.55" stop-color="#f08c1e"/><stop offset="0.82" stop-color="#905412"/><stop offset="1" stop-color="#241505"/></linearGradient><line x1="531.1" y1="220.0" x2="400.5" y2="325.8" stroke="url(#cg25)" stroke-width="17.6" stroke-linecap="round"/>
<linearGradient id="cg26" gradientUnits="userSpaceOnUse" x1="518.7" y1="226.4" x2="509.1" y2="242.3"><stop offset="0" stop-color="#4a5213"/><stop offset="0.12" stop-color="#8b9b24"/><stop offset="0.3" stop-color="#b4c350"/><stop offset="0.55" stop-color="#a4b62a"/><stop offset="0.82" stop-color="#626d19"/><stop offset="1" stop-color="#191b06"/></linearGradient><line x1="443.4" y1="191.5" x2="584.4" y2="277.2" stroke="url(#cg26)" stroke-width="18.6" stroke-linecap="round"/>
<linearGradient id="cg27" gradientUnits="userSpaceOnUse" x1="577.9" y1="184.2" x2="583.3" y2="194.9"><stop offset="0" stop-color="#6c3f0d"/><stop offset="0.12" stop-color="#cc771a"/><stop offset="0.3" stop-color="#f3a146"/><stop offset="0.55" stop-color="#f08c1e"/><stop offset="0.82" stop-color="#905412"/><stop offset="1" stop-color="#241505"/></linearGradient><line x1="595.9" y1="181.9" x2="565.4" y2="197.2" stroke="url(#cg27)" stroke-width="11.9" stroke-linecap="round"/>
<linearGradient id="cg28" gradientUnits="userSpaceOnUse" x1="576.8" y1="209.9" x2="567.3" y2="226.4"><stop offset="0" stop-color="#131b51"/><stop offset="0.12" stop-color="#253499"/><stop offset="0.3" stop-color="#5160c2"/><stop offset="0.55" stop-color="#2b3db4"/><stop offset="0.82" stop-color="#1a256c"/><stop offset="1" stop-color="#06091b"/></linearGradient><line x1="512.0" y1="183.8" x2="632.1" y2="252.4" stroke="url(#cg28)" stroke-width="19.1" stroke-linecap="round"/>
<linearGradient id="cg29" gradientUnits="userSpaceOnUse" x1="551.4" y1="266.2" x2="571.7" y2="271.1"><stop offset="0" stop-color="#131b51"/><stop offset="0.12" stop-color="#253499"/><stop offset="0.3" stop-color="#5160c2"/><stop offset="0.55" stop-color="#2b3db4"/><stop offset="0.82" stop-color="#1a256c"/><stop offset="1" stop-color="#06091b"/></linearGradient><line x1="580.6" y1="189.6" x2="542.5" y2="347.7" stroke="url(#cg29)" stroke-width="21.0" stroke-linecap="round"/><ellipse cx="580.6" cy="189.6" rx="5.9" ry="10.5" transform="rotate(103.5 580.6 189.6)" fill="#4b5abf"/>
<linearGradient id="cg30" gradientUnits="userSpaceOnUse" x1="619.0" y1="306.6" x2="610.8" y2="318.3"><stop offset="0" stop-color="#6a670d"/><stop offset="0.12" stop-color="#c9c41a"/><stop offset="0.3" stop-color="#efeb46"/><stop offset="0.55" stop-color="#ece61e"/><stop offset="0.82" stop-color="#8e8a12"/><stop offset="1" stop-color="#232305"/></linearGradient><line x1="586.3" y1="292.5" x2="643.5" y2="332.5" stroke="url(#cg30)" stroke-width="14.3" stroke-linecap="round"/>
<linearGradient id="cg31" gradientUnits="userSpaceOnUse" x1="589.0" y1="318.6" x2="608.4" y2="323.6"><stop offset="0" stop-color="#380909"/><stop offset="0.12" stop-color="#691111"/><stop offset="0.3" stop-color="#943e3e"/><stop offset="0.55" stop-color="#7c1414"/><stop offset="0.82" stop-color="#4a0c0c"/><stop offset="1" stop-color="#130303"/></linearGradient><line x1="614.9" y1="258.2" x2="582.5" y2="383.9" stroke="url(#cg31)" stroke-width="20.0" stroke-linecap="round"/><ellipse cx="614.9" cy="258.2" rx="5.6" ry="10.0" transform="rotate(104.4 614.9 258.2)" fill="#903737"/>
<linearGradient id="cg32" gradientUnits="userSpaceOnUse" x1="598.6" y1="306.8" x2="600.8" y2="325.8"><stop offset="0" stop-color="#630e0e"/><stop offset="0.12" stop-color="#bb1b1b"/><stop offset="0.3" stop-color="#e24848"/><stop offset="0.55" stop-color="#dc2020"/><stop offset="0.82" stop-color="#841313"/><stop offset="1" stop-color="#210505"/></linearGradient><line x1="574.9" y1="319.1" x2="624.4" y2="313.4" stroke="url(#cg32)" stroke-width="19.1" stroke-linecap="round"/>
<path d="M441.5,189.6 L441.3,190.4 L441.1,191.5 L441.4,192.6 L442.1,193.7 L443.2,194.9 L443.7,196.2 L443.5,197.9 L443.2,199.7 L443.5,201.3 L444.6,202.6 L445.7,203.6 L446.5,204.7 L447.0,206.0 L447.5,207.1 L448.4,208.1 L449.7,208.7 L451.1,208.7 L452.4,208.3 L453.7,207.7 L455.1,207.2 L456.5,206.9 L458.0,206.5 L459.3,205.8 L460.5,204.8 L461.5,203.7 L462.5,202.7 L463.5,201.8 L464.2,200.9 L464.7,199.9 L465.0,198.8 L465.2,197.5 L465.3,196.2 L465.3,194.7 L465.3,193.2 L465.2,191.6 L465.2,190.1 L465.3,188.6 L465.4,187.2 L465.6,185.9 L465.9,184.7 L466.6,183.6 L467.6,182.8 L468.8,182.5 L469.9,182.6 L471.1,182.9 L472.3,183.3 L473.5,183.8 L474.8,184.4 L475.9,185.3 L477.0,186.5 L478.1,187.6 L479.4,188.3 L480.8,188.6 L482.2,188.8 L483.4,189.3 L484.6,189.9 L485.9,190.6 L487.3,190.9 L488.8,190.5 L490.2,189.7 L491.7,189.4 L493.3,189.8 L494.9,190.5 L496.3,190.6 L497.6,190.0 L498.8,189.1 L499.9,188.4 L500.9,188.3 L501.8,188.5 L502.6,188.8" fill="none" stroke="#1e2b7e" stroke-width="2.50" stroke-linejoin="round" stroke-linecap="round"/>
<path d="M397.6,340.1 L397.2,340.9 L396.8,341.8 L396.7,342.8 L397.0,344.0 L397.6,345.3 L398.0,346.6 L397.6,348.1 L396.8,349.6 L396.3,351.2 L396.6,352.7 L397.4,354.1 L398.0,355.5 L398.1,356.9 L398.0,358.4 L398.1,359.8 L398.5,361.0 L399.4,362.1 L400.5,362.9 L401.4,363.8 L402.2,364.8 L402.9,365.8 L403.6,366.9 L404.5,367.8 L405.5,368.6 L406.7,369.2 L407.8,369.9 L408.9,370.7 L410.0,371.5 L411.1,372.3 L412.1,372.9 L413.0,373.5 L414.1,374.0 L415.1,374.5 L416.2,375.1 L417.2,375.6 L418.3,376.2 L419.4,376.7 L420.6,377.3 L421.7,377.8 L422.9,378.4 L424.0,379.0 L425.1,379.6 L426.2,380.3 L427.3,381.1 L428.4,381.8 L429.5,382.5 L430.6,383.1 L431.7,383.7 L432.6,384.4 L433.5,385.4 L434.3,386.4 L435.1,387.3 L436.2,388.0 L437.4,388.4 L438.5,388.9 L439.5,389.7 L440.3,390.8 L440.9,392.1 L441.7,393.1 L442.7,393.8 L443.9,394.2 L445.2,394.5 L446.2,395.2 L446.9,396.2 L447.4,397.5 L447.9,398.7 L448.8,399.6 L450.1,400.0 L451.6,400.4 L452.7,401.1 L453.4,402.2 L453.8,403.6 L454.4,404.8 L455.3,405.7 L456.6,406.2 L458.0,406.7 L459.1,407.4 L459.9,408.4 L460.4,409.6 L461.1,410.6 L462.1,411.4 L463.3,411.9 L464.5,412.4 L465.8,412.9 L466.8,413.8 L467.7,414.8 L468.6,415.6 L469.7,416.3 L470.9,416.9 L472.1,417.4 L473.2,418.1 L474.2,418.8 L475.2,419.5 L476.2,420.3 L477.2,420.9 L478.2,421.6 L479.3,422.3 L480.3,423.0 L481.4,423.8 L482.5,424.7 L483.5,425.7 L484.6,426.6 L485.7,427.6 L486.8,428.5 L487.8,429.4 L488.8,430.4 L489.8,431.3 L490.8,432.1 L491.8,432.7 L492.8,433.2 L493.9,433.5 L494.8,433.6 L496.1,433.7 L497.3,433.8 L498.7,433.7 L500.0,433.4 L501.2,432.6 L502.1,431.5 L503.0,430.4 L504.0,429.4 L505.3,428.7 L506.7,428.0 L507.7,427.1 L508.2,425.9 L508.4,424.5 L508.7,423.0 L509.3,421.8 L510.5,420.8 L511.7,419.8 L512.2,418.4 L512.1,416.8 L511.8,415.2 L512.0,413.9 L512.7,412.9 L513.5,412.2 L514.1,411.5 L514.6,411.0" fill="none" stroke="#a86215" stroke-width="2.50" stroke-linejoin="round" stroke-linecap="round"/>
<path d="M578.7,383.9 L577.9,384.2 L577.0,384.7 L576.3,385.4 L575.9,386.4 L575.6,387.7 L575.2,389.0 L574.3,390.0 L572.8,390.6 L571.2,391.2 L570.2,392.1 L569.5,393.5 L568.8,394.9 L568.0,395.6 L567.0,396.0 L565.8,396.3 L564.7,396.6 L563.7,397.3 L562.8,398.2 L562.0,399.3 L561.1,400.2 L559.9,400.8 L558.7,401.3 L557.5,401.9 L556.5,402.6 L555.4,403.5 L554.5,404.4 L553.4,405.2 L552.3,405.8 L551.3,406.4 L550.2,407.0 L549.2,407.7 L548.1,408.4 L547.0,409.1 L545.9,409.8 L544.7,410.5 L543.6,411.1 L542.4,411.8 L541.3,412.3 L540.1,412.9 L538.9,413.4 L537.8,413.9 L536.7,414.4 L535.5,414.7 L534.4,414.9 L533.3,415.0 L532.2,415.2 L531.1,415.4 L529.6,415.6 L528.0,415.5 L526.5,415.0 L525.1,414.1 L523.9,413.3 L522.6,412.7 L521.2,412.5 L520.0,412.2 L519.1,411.6 L518.4,411.0 L517.8,410.4" fill="none" stroke="#181818" stroke-width="2.50" stroke-linejoin="round" stroke-linecap="round"/>
<path d="M635.9,336.3 L636.2,337.2 L636.9,338.1 L638.0,338.7 L639.4,338.9 L641.0,339.1 L642.3,339.9 L643.1,341.4 L643.7,342.8 L644.5,343.7 L645.5,344.3 L646.4,344.9 L646.8,345.9 L646.7,346.6 L646.2,347.4 L645.6,348.1 L644.9,348.9 L644.5,349.9 L644.2,351.1 L644.1,352.4 L643.7,353.7 L643.0,354.8 L642.1,355.9 L641.2,357.0 L640.5,358.2 L639.9,359.5 L639.3,360.8 L638.5,362.0 L637.7,363.1 L636.9,364.1 L636.1,365.1 L635.4,366.1 L634.6,367.0 L633.8,367.9 L632.9,368.8 L632.0,369.6 L631.0,370.5 L630.0,371.2 L629.0,372.0 L628.0,372.8 L627.0,373.5 L625.9,374.2 L624.8,374.9 L623.7,375.5 L622.6,376.0 L621.4,376.6 L620.4,377.2 L619.4,377.9 L618.4,378.6 L617.4,379.1 L616.0,379.5 L614.6,379.8 L613.2,380.2 L612.0,381.0 L610.8,382.0 L609.5,382.7 L608.0,382.9 L606.4,382.9 L604.9,383.0 L603.8,383.7 L602.8,384.7 L601.9,385.6 L600.9,386.1 L599.7,386.2 L598.6,386.1 L597.7,386.0 L596.9,386.1" fill="none" stroke="#181818" stroke-width="2.50" stroke-linejoin="round" stroke-linecap="round"/>
<path d="M593.9,178.1 L594.8,178.3 L596.0,178.4 L597.1,177.9 L598.1,176.9 L599.1,175.7 L600.5,175.0 L602.2,175.2 L603.8,175.5 L605.1,175.4 L606.1,174.8 L607.1,174.3 L608.1,174.2 L608.8,174.8 L609.1,175.4 L609.2,176.2 L609.3,177.1 L609.5,178.0 L610.0,178.9 L610.7,179.9 L611.5,180.9 L611.9,182.2 L612.1,183.5 L612.2,184.9 L612.4,186.3 L612.9,187.7 L613.5,189.1 L613.9,190.5 L614.2,191.9 L614.5,193.3 L614.8,194.6 L615.1,195.9 L615.5,197.1 L615.8,198.3 L616.0,199.5 L616.2,200.8 L616.4,202.1 L616.5,203.4 L616.6,204.6 L616.6,205.9 L616.7,207.2 L616.8,208.4 L616.8,209.7 L616.7,210.9 L616.6,212.1 L616.6,213.3 L616.7,214.5 L616.9,215.6 L617.1,216.7 L617.3,217.7 L617.4,218.8 L617.3,219.9 L617.4,221.2 L617.8,222.5 L618.6,223.5 L619.6,224.3 L620.5,225.2 L621.1,226.4 L621.4,227.7 L621.9,229.1 L622.6,230.2 L623.7,230.9 L624.9,231.4 L626.0,232.2 L626.5,233.4 L626.6,234.8 L626.7,236.2 L627.0,237.2 L627.9,238.1 L629.0,238.9 L629.9,239.8 L630.4,240.9 L630.3,242.2 L630.2,243.6 L630.4,244.9 L631.1,245.9 L632.2,246.8 L633.2,247.8 L633.7,248.9 L633.9,250.1 L634.0,251.4 L634.2,252.6 L634.8,253.6 L635.6,254.5 L636.7,255.4 L637.6,256.4 L638.1,257.4 L638.6,258.5 L639.1,259.6 L639.7,260.5 L640.5,261.4 L641.3,262.3 L642.0,263.2 L642.6,264.3 L643.2,265.4 L643.6,266.6 L644.1,267.9 L644.6,269.3 L644.9,270.3 L645.3,271.4 L645.5,272.5 L645.8,273.7 L646.0,274.9 L646.2,276.2 L646.4,277.4 L646.6,278.7 L646.7,280.0 L646.9,281.3 L647.0,282.6 L647.0,283.9 L647.0,285.2 L646.9,286.5 L646.9,287.8 L647.1,289.0 L647.2,290.2 L647.1,291.3 L646.9,292.5 L646.5,293.8 L646.1,295.0 L645.9,296.3 L646.1,297.7 L646.2,299.0 L646.0,300.3 L645.4,301.5 L644.6,302.6 L644.0,303.8 L643.9,305.0 L644.1,306.2 L644.4,307.5 L644.2,308.6 L643.7,309.5 L643.0,310.3 L642.2,310.9 L641.3,312.2 L641.1,313.9 L640.7,315.7 L639.7,316.8 L638.3,317.3 L637.0,317.6 L636.0,318.0 L635.5,318.7" fill="none" stroke="#570e0e" stroke-width="2.50" stroke-linejoin="round" stroke-linecap="round"/>
<path d="M561.5,197.2 L561.7,198.0 L562.0,199.0 L562.6,199.9 L563.7,200.6 L565.0,201.2 L566.2,202.0 L566.8,203.4 L567.2,205.0 L567.9,206.4 L569.1,207.2 L570.4,207.6 L571.8,208.0 L572.9,208.7 L573.8,209.8 L574.7,211.0 L575.9,211.9 L577.2,212.3 L578.7,212.4 L580.0,212.5 L581.3,212.8 L582.5,213.1 L583.9,213.2 L585.4,212.7 L586.7,211.8 L588.0,210.7 L589.3,209.8 L590.6,209.0 L591.7,208.3 L592.7,207.9 L593.6,207.8 L594.3,208.4 L594.5,209.2 L594.5,210.0 L594.3,211.0 L594.0,212.1 L593.5,213.3 L593.0,214.6 L592.5,215.9 L591.9,217.3 L591.3,218.6 L590.8,220.0 L590.3,221.3 L589.8,222.6 L589.4,223.7 L589.1,224.7 L589.1,225.6 L589.4,226.7 L590.0,227.7 L590.5,228.8 L591.0,230.2 L591.4,231.6 L592.1,233.0 L593.2,234.0 L594.4,234.8 L595.4,235.8 L596.0,236.9 L596.4,238.1 L596.6,239.1 L596.8,239.8" fill="none" stroke="#570e0e" stroke-width="2.50" stroke-linejoin="round" stroke-linecap="round"/>
<path d="M734.3,233.9 L733.5,234.2 L732.6,234.5 L731.8,235.1 L731.2,236.0 L730.9,237.3 L730.4,238.5 L729.4,239.5 L728.0,240.1 L726.4,240.6 L725.3,241.6 L724.7,243.0 L724.3,244.5 L723.6,245.8 L722.5,246.7 L721.4,247.3 L720.5,248.1 L719.9,249.1 L719.5,250.3 L719.2,251.5 L718.7,252.6 L718.1,253.7 L717.3,254.6 L716.5,255.6 L715.8,256.7 L715.4,257.9 L715.0,259.1 L714.6,260.3 L714.0,261.5 L713.5,262.7 L712.9,263.9 L712.4,265.1 L712.0,266.2 L711.6,267.3 L711.2,268.5 L710.8,269.6 L710.4,270.8 L709.9,272.0 L709.5,273.2 L709.1,274.4 L708.6,275.6 L708.2,276.8 L707.8,278.0 L707.3,279.1 L706.7,280.3 L706.2,281.4 L705.7,282.6 L705.3,283.8 L705.1,285.0 L704.7,286.2 L704.2,287.3 L703.4,288.4 L702.6,289.5 L702.1,290.7 L701.9,292.0 L701.9,293.3 L701.6,294.6 L701.0,295.7 L700.1,296.8 L699.2,297.9 L698.7,299.1 L698.8,300.4 L699.1,301.7 L699.2,303.0 L698.8,304.2 L698.0,305.4 L697.2,306.6 L696.9,307.9 L697.2,309.2 L697.9,310.5 L698.5,311.7 L698.5,313.1 L698.0,314.5 L697.5,315.9 L697.6,317.3 L698.4,318.7 L699.4,319.9 L699.9,321.2 L700.0,322.6 L699.9,324.0 L700.0,325.3 L700.6,326.5 L701.4,327.5 L702.2,328.4 L702.9,329.3 L703.4,330.2 L703.7,331.0 L704.4,332.2 L705.3,333.1 L706.4,333.8 L707.5,334.2 L708.7,334.6 L709.8,335.1 L710.9,335.5 L712.1,335.9 L713.3,336.2 L714.5,336.4 L715.6,336.6 L716.7,336.8 L717.9,336.9 L719.1,337.0 L720.4,336.9 L721.8,336.8 L723.2,336.6 L724.5,336.4 L725.8,336.1 L727.0,335.9 L728.1,335.8 L729.1,335.7 L729.8,335.6" fill="none" stroke="#a5a115" stroke-width="2.50" stroke-linejoin="round" stroke-linecap="round"/>
<path d="M763.0,165.3 L762.3,165.7 L761.4,166.2 L760.8,167.0 L760.4,168.1 L760.3,169.5 L760.0,170.8 L759.1,171.9 L757.6,172.7 L756.2,173.7 L755.5,174.9 L755.3,176.5 L755.0,178.1 L754.3,179.3 L753.2,180.3 L752.2,181.1 L751.6,182.1 L751.2,183.3 L751.0,184.6 L750.7,185.9 L750.2,187.0 L749.5,188.1 L748.7,189.1 L748.2,190.3 L747.8,191.5 L747.5,192.8 L747.2,194.0 L746.8,195.2 L746.3,196.3 L745.9,197.5 L745.6,198.6 L745.3,199.9 L745.1,201.1 L744.8,202.3 L744.6,203.6 L744.4,204.8 L744.2,206.0 L744.0,207.3 L743.8,208.5 L743.6,209.7 L743.4,210.9 L743.2,212.1 L743.0,213.3 L742.6,214.4 L742.2,215.5 L741.8,216.5 L741.4,217.9 L741.0,219.4 L740.6,220.9 L740.0,222.3 L739.1,223.5 L738.3,224.6 L737.7,225.8 L737.5,227.0 L737.4,228.1 L737.2,229.0 L736.9,229.7" fill="none" stroke="#a5a115" stroke-width="2.50" stroke-linejoin="round" stroke-linecap="round"/>
<path d="M769.7,138.8 L770.5,138.6 L771.5,138.3 L772.4,137.7 L773.0,136.6 L773.5,135.2 L774.3,134.0 L775.7,133.3 L777.4,133.0 L778.8,132.5 L779.7,131.5 L780.4,130.2 L781.2,129.2 L782.2,128.6 L783.2,128.6 L784.4,128.8 L785.3,129.1 L786.2,129.0 L787.3,128.9 L788.5,128.8 L789.7,129.0 L790.9,129.4 L792.1,130.0 L793.4,130.5 L794.8,130.6 L796.2,130.4 L797.4,130.0 L798.6,129.7 L799.8,129.4 L801.1,129.1 L802.4,128.8 L803.7,128.3 L805.0,127.8 L806.3,127.4 L807.6,127.1 L809.0,126.8 L810.3,126.5 L811.6,126.4 L812.9,126.4 L814.2,126.6 L815.5,126.9 L816.8,127.5 L818.0,128.2 L819.0,129.1 L819.9,130.1 L820.8,131.1 L821.7,132.1 L822.7,132.8 L823.7,133.6 L824.5,134.4 L825.3,135.2 L826.1,136.0 L827.2,136.6 L828.3,136.7 L829.3,136.4 L830.3,136.0 L831.4,135.6 L832.5,135.5 L833.9,135.6 L835.3,135.7 L836.6,135.5 L837.7,134.9 L838.7,133.9 L839.8,133.2 L841.1,133.0 L842.5,133.4 L843.8,134.0 L845.0,134.1 L846.0,133.8 L847.1,133.2 L848.3,132.8 L849.5,133.0 L850.6,133.6 L851.7,134.5 L852.8,135.1 L854.1,135.1 L855.5,134.7 L856.9,134.4 L858.2,134.6 L859.4,135.2 L860.6,136.0 L861.9,136.4 L863.2,136.3 L864.6,136.0 L865.9,135.8 L867.2,135.9 L868.4,136.2 L869.6,136.5 L870.8,136.7 L872.0,136.6 L873.3,136.5 L874.5,136.4 L875.8,136.4 L877.0,136.5 L878.2,136.7 L879.4,136.8 L880.7,136.9 L881.9,136.9 L883.1,137.0 L884.4,137.2 L885.6,137.3 L886.8,137.5 L888.1,137.6 L889.3,137.9 L890.5,138.1 L891.7,138.3 L893.0,138.5 L894.2,138.7 L895.5,138.9 L896.7,139.3 L898.0,139.6 L899.3,139.8 L900.5,139.9 L901.8,139.9 L903.0,140.1 L904.2,140.6 L905.4,141.1 L906.6,141.5 L907.7,141.7 L908.9,141.6 L910.1,141.5 L911.2,141.5 L912.5,142.0 L913.8,142.8 L915.0,143.5 L916.4,143.6 L917.8,143.3 L919.3,142.9 L920.6,143.0 L921.7,143.6 L922.8,144.5 L923.8,145.1 L924.9,145.3 L926.1,145.0 L927.3,144.8 L928.4,144.7 L929.3,145.1 L930.2,146.4 L930.6,147.9 L931.2,149.1 L932.3,150.1 L933.4,151.2 L934.1,152.3 L934.3,153.2 L934.4,153.9" fill="none" stroke="#1e2b7e" stroke-width="2.50" stroke-linejoin="round" stroke-linecap="round"/>
<linearGradient id="cg33" gradientUnits="userSpaceOnUse" x1="760.0" y1="202.4" x2="775.0" y2="201.2"><stop offset="0" stop-color="#292e31"/><stop offset="0.12" stop-color="#4e575c"/><stop offset="0.3" stop-color="#798286"/><stop offset="0.55" stop-color="#5c666c"/><stop offset="0.82" stop-color="#373d41"/><stop offset="1" stop-color="#0e0f10"/></linearGradient><line x1="765.2" y1="174.2" x2="769.7" y2="229.5" stroke="url(#cg33)" stroke-width="15.0" stroke-linecap="round"/>
<linearGradient id="cg34" gradientUnits="userSpaceOnUse" x1="793.6" y1="173.5" x2="804.4" y2="185.9"><stop offset="0" stop-color="#6a670d"/><stop offset="0.12" stop-color="#c9c41a"/><stop offset="0.3" stop-color="#efeb46"/><stop offset="0.55" stop-color="#ece61e"/><stop offset="0.82" stop-color="#8e8a12"/><stop offset="1" stop-color="#232305"/></linearGradient><line x1="861.5" y1="125.5" x2="736.5" y2="233.9" stroke="url(#cg34)" stroke-width="16.4" stroke-linecap="round"/>
<linearGradient id="cg35" gradientUnits="userSpaceOnUse" x1="743.0" y1="325.8" x2="756.5" y2="319.1"><stop offset="0" stop-color="#68360c"/><stop offset="0.12" stop-color="#c56616"/><stop offset="0.3" stop-color="#ec9043"/><stop offset="0.55" stop-color="#e8781a"/><stop offset="0.82" stop-color="#8b4810"/><stop offset="1" stop-color="#231204"/></linearGradient><line x1="714.3" y1="251.6" x2="785.2" y2="393.3" stroke="url(#cg35)" stroke-width="15.0" stroke-linecap="round"/>
<linearGradient id="cg36" gradientUnits="userSpaceOnUse" x1="761.5" y1="351.0" x2="757.9" y2="364.7"><stop offset="0" stop-color="#630e0e"/><stop offset="0.12" stop-color="#bb1b1b"/><stop offset="0.3" stop-color="#e24848"/><stop offset="0.55" stop-color="#dc2020"/><stop offset="0.82" stop-color="#841313"/><stop offset="1" stop-color="#210505"/></linearGradient><line x1="734.3" y1="351.2" x2="785.2" y2="364.5" stroke="url(#cg36)" stroke-width="14.1" stroke-linecap="round"/>
<linearGradient id="cg37" gradientUnits="userSpaceOnUse" x1="883.9" y1="197.8" x2="876.8" y2="212.6"><stop offset="0" stop-color="#67671d"/><stop offset="0.12" stop-color="#c4c436"/><stop offset="0.3" stop-color="#ebeb62"/><stop offset="0.55" stop-color="#e6e640"/><stop offset="0.82" stop-color="#8a8a26"/><stop offset="1" stop-color="#23230a"/></linearGradient><line x1="783.0" y1="158.7" x2="977.7" y2="251.6" stroke="url(#cg37)" stroke-width="16.4" stroke-linecap="round"/>
<linearGradient id="cg38" gradientUnits="userSpaceOnUse" x1="789.7" y1="245.4" x2="800.6" y2="255.7"><stop offset="0" stop-color="#6c3f0d"/><stop offset="0.12" stop-color="#cc771a"/><stop offset="0.3" stop-color="#f3a146"/><stop offset="0.55" stop-color="#f08c1e"/><stop offset="0.82" stop-color="#905412"/><stop offset="1" stop-color="#241505"/></linearGradient><line x1="867.1" y1="174.2" x2="723.2" y2="326.9" stroke="url(#cg38)" stroke-width="15.0" stroke-linecap="round"/>
<linearGradient id="cg39" gradientUnits="userSpaceOnUse" x1="871.4" y1="241.5" x2="873.8" y2="257.3"><stop offset="0" stop-color="#454820"/><stop offset="0.12" stop-color="#83883d"/><stop offset="0.3" stop-color="#acb169"/><stop offset="0.55" stop-color="#9aa048"/><stop offset="0.82" stop-color="#5c602b"/><stop offset="1" stop-color="#17180b"/></linearGradient><line x1="858.2" y1="251.6" x2="887.0" y2="247.2" stroke="url(#cg39)" stroke-width="16.0" stroke-linecap="round" opacity="0.75"/>
<linearGradient id="cg40" gradientUnits="userSpaceOnUse" x1="830.0" y1="281.3" x2="844.3" y2="284.0"><stop offset="0" stop-color="#3e3e3e"/><stop offset="0.12" stop-color="#757575"/><stop offset="0.3" stop-color="#9f9f9f"/><stop offset="0.55" stop-color="#8a8a8a"/><stop offset="0.82" stop-color="#535353"/><stop offset="1" stop-color="#151515"/></linearGradient><line x1="840.5" y1="264.9" x2="833.9" y2="300.3" stroke="url(#cg40)" stroke-width="14.6" stroke-linecap="round" opacity="0.6"/>
<ellipse cx="840.5" cy="264.9" rx="6.6" ry="6.6" fill="#f0a040" opacity="0.9"/>
<linearGradient id="cg41" gradientUnits="userSpaceOnUse" x1="903.5" y1="278.5" x2="919.2" y2="275.7"><stop offset="0" stop-color="#131b51"/><stop offset="0.12" stop-color="#253499"/><stop offset="0.3" stop-color="#5160c2"/><stop offset="0.55" stop-color="#2b3db4"/><stop offset="0.82" stop-color="#1a256c"/><stop offset="1" stop-color="#06091b"/></linearGradient><line x1="909.1" y1="264.9" x2="913.5" y2="289.3" stroke="url(#cg41)" stroke-width="16.0" stroke-linecap="round" opacity="0.8"/>
<linearGradient id="cg42" gradientUnits="userSpaceOnUse" x1="858.4" y1="319.1" x2="849.1" y2="330.3"><stop offset="0" stop-color="#292e31"/><stop offset="0.12" stop-color="#4e575c"/><stop offset="0.3" stop-color="#798286"/><stop offset="0.55" stop-color="#5c666c"/><stop offset="0.82" stop-color="#373d41"/><stop offset="1" stop-color="#0e0f10"/></linearGradient><line x1="840.5" y1="313.6" x2="867.1" y2="335.7" stroke="url(#cg42)" stroke-width="14.6" stroke-linecap="round" opacity="0.6"/>
<linearGradient id="cg43" gradientUnits="userSpaceOnUse" x1="896.6" y1="315.1" x2="903.9" y2="329.8"><stop offset="0" stop-color="#630e0e"/><stop offset="0.12" stop-color="#bb1b1b"/><stop offset="0.3" stop-color="#e24848"/><stop offset="0.55" stop-color="#dc2020"/><stop offset="0.82" stop-color="#841313"/><stop offset="1" stop-color="#210505"/></linearGradient><line x1="913.5" y1="315.8" x2="887.0" y2="329.1" stroke="url(#cg43)" stroke-width="16.4" stroke-linecap="round" opacity="0.85"/>
<linearGradient id="cg44" gradientUnits="userSpaceOnUse" x1="938.6" y1="149.7" x2="937.2" y2="161.0"><stop offset="0" stop-color="#6c3f0d"/><stop offset="0.12" stop-color="#cc771a"/><stop offset="0.3" stop-color="#f3a146"/><stop offset="0.55" stop-color="#f08c1e"/><stop offset="0.82" stop-color="#905412"/><stop offset="1" stop-color="#241505"/></linearGradient><line x1="929.0" y1="154.3" x2="946.7" y2="156.5" stroke="url(#cg44)" stroke-width="11.4" stroke-linecap="round"/>
<linearGradient id="cg45" gradientUnits="userSpaceOnUse" x1="955.4" y1="176.6" x2="946.9" y2="191.7"><stop offset="0" stop-color="#131b51"/><stop offset="0.12" stop-color="#253499"/><stop offset="0.3" stop-color="#5160c2"/><stop offset="0.55" stop-color="#2b3db4"/><stop offset="0.82" stop-color="#1a256c"/><stop offset="1" stop-color="#06091b"/></linearGradient><line x1="878.1" y1="143.2" x2="1024.2" y2="225.1" stroke="url(#cg45)" stroke-width="17.3" stroke-linecap="round"/>
<linearGradient id="cg46" gradientUnits="userSpaceOnUse" x1="944.1" y1="267.5" x2="962.7" y2="269.0"><stop offset="0" stop-color="#131b51"/><stop offset="0.12" stop-color="#253499"/><stop offset="0.3" stop-color="#5160c2"/><stop offset="0.55" stop-color="#2b3db4"/><stop offset="0.82" stop-color="#1a256c"/><stop offset="1" stop-color="#06091b"/></linearGradient><line x1="962.2" y1="163.1" x2="944.5" y2="373.4" stroke="url(#cg46)" stroke-width="18.7" stroke-linecap="round"/>
<linearGradient id="cg47" gradientUnits="userSpaceOnUse" x1="1012.2" y1="292.6" x2="1004.1" y2="302.5"><stop offset="0" stop-color="#5a560e"/><stop offset="0.12" stop-color="#aaa31b"/><stop offset="0.3" stop-color="#d2cb48"/><stop offset="0.55" stop-color="#c8c020"/><stop offset="0.82" stop-color="#787313"/><stop offset="1" stop-color="#1e1d05"/></linearGradient><line x1="984.4" y1="278.2" x2="1031.9" y2="316.9" stroke="url(#cg47)" stroke-width="12.8" stroke-linecap="round"/>
<linearGradient id="cg48" gradientUnits="userSpaceOnUse" x1="982.0" y1="327.7" x2="1000.0" y2="330.5"><stop offset="0" stop-color="#380909"/><stop offset="0.12" stop-color="#691111"/><stop offset="0.3" stop-color="#943e3e"/><stop offset="0.55" stop-color="#7c1414"/><stop offset="0.82" stop-color="#4a0c0c"/><stop offset="1" stop-color="#130303"/></linearGradient><line x1="1004.3" y1="245.0" x2="977.7" y2="413.2" stroke="url(#cg48)" stroke-width="18.2" stroke-linecap="round"/><ellipse cx="1004.3" cy="245.0" rx="5.1" ry="9.1" transform="rotate(99.0 1004.3 245.0)" fill="#903737"/>
<linearGradient id="cg49" gradientUnits="userSpaceOnUse" x1="910.9" y1="349.0" x2="915.1" y2="366.7"><stop offset="0" stop-color="#560b0e"/><stop offset="0.12" stop-color="#a3141b"/><stop offset="0.3" stop-color="#cb4248"/><stop offset="0.55" stop-color="#c01820"/><stop offset="0.82" stop-color="#730e13"/><stop offset="1" stop-color="#1d0405"/></linearGradient><line x1="810.6" y1="382.2" x2="1015.3" y2="333.5" stroke="url(#cg49)" stroke-width="18.2" stroke-linecap="round"/>
<linearGradient id="cg50" gradientUnits="userSpaceOnUse" x1="893.9" y1="418.9" x2="906.6" y2="425.2"><stop offset="0" stop-color="#131b51"/><stop offset="0.12" stop-color="#253499"/><stop offset="0.3" stop-color="#5160c2"/><stop offset="0.55" stop-color="#2b3db4"/><stop offset="0.82" stop-color="#1a256c"/><stop offset="1" stop-color="#06091b"/></linearGradient><line x1="911.3" y1="399.9" x2="889.2" y2="444.2" stroke="url(#cg50)" stroke-width="14.1" stroke-linecap="round"/>
<linearGradient id="cg51" gradientUnits="userSpaceOnUse" x1="865.5" y1="401.8" x2="868.6" y2="420.2"><stop offset="0" stop-color="#161617"/><stop offset="0.12" stop-color="#292a2c"/><stop offset="0.3" stop-color="#555759"/><stop offset="0.55" stop-color="#303234"/><stop offset="0.82" stop-color="#1d1e1f"/><stop offset="1" stop-color="#070808"/></linearGradient><line x1="787.4" y1="424.3" x2="946.7" y2="397.7" stroke="url(#cg51)" stroke-width="18.7" stroke-linecap="round"/>
<linearGradient id="cg52" gradientUnits="userSpaceOnUse" x1="808.6" y1="353.0" x2="821.5" y2="345.1"><stop offset="0" stop-color="#292e31"/><stop offset="0.12" stop-color="#4e575c"/><stop offset="0.3" stop-color="#798286"/><stop offset="0.55" stop-color="#5c666c"/><stop offset="0.82" stop-color="#373d41"/><stop offset="1" stop-color="#0e0f10"/></linearGradient><line x1="760.8" y1="260.5" x2="869.3" y2="437.5" stroke="url(#cg52)" stroke-width="15.0" stroke-linecap="round"/>
<path d="M778.5,158.7 L779.0,159.4 L779.6,160.2 L780.5,160.7 L781.6,161.0 L783.0,160.9 L784.4,161.2 L785.6,162.0 L786.6,163.4 L787.7,164.6 L789.1,165.1 L790.7,165.0 L792.2,165.0 L793.6,165.4 L794.8,166.2 L796.0,166.9 L797.4,167.1 L798.7,167.0 L800.1,166.5 L801.4,166.1 L802.8,166.0 L804.1,166.1 L805.5,166.0 L806.8,165.8 L808.0,165.3 L809.2,164.7 L810.4,164.2 L811.6,163.8 L812.8,163.4 L813.9,162.9 L814.9,162.3 L815.9,161.7 L816.9,160.9 L817.8,160.2 L818.7,159.4 L819.5,158.6 L820.4,157.8 L821.3,157.0 L822.3,156.2 L823.3,155.4 L824.3,154.6 L825.4,153.8 L826.6,153.2 L827.8,152.7 L828.9,152.3 L830.1,151.8 L831.2,151.3 L832.4,150.6 L833.5,150.0 L834.8,149.6 L836.2,149.5 L837.6,149.4 L838.9,149.2 L840.1,148.6 L841.2,148.0 L842.4,147.5 L843.7,147.5 L845.0,147.9 L846.3,148.5 L847.6,148.8 L849.0,148.5 L850.5,148.0 L851.9,148.0 L853.3,148.8 L854.6,149.9 L855.9,150.5 L857.3,150.4 L858.7,150.0 L859.9,149.8 L860.9,150.0 L861.8,150.4 L862.5,150.9" fill="none" stroke="#1e2b7e" stroke-width="2.50" stroke-linejoin="round" stroke-linecap="round"/>
<path d="M778.5,393.3 L778.5,394.1 L778.5,395.0 L778.8,395.9 L779.4,396.7 L780.4,397.4 L781.4,398.2 L782.1,399.2 L782.3,400.6 L782.2,402.2 L782.5,403.7 L783.3,404.8 L784.6,405.7 L785.7,406.8 L786.3,408.1 L786.6,409.6 L786.9,411.0 L787.7,412.1 L788.8,413.0 L789.9,413.9 L790.7,414.8 L791.3,415.8 L791.9,417.0 L792.6,418.1 L793.5,419.0 L794.5,419.9 L795.4,420.7 L796.3,421.5 L797.1,422.4 L797.9,423.3 L798.7,424.2 L799.6,425.0 L800.4,425.7 L801.3,426.5 L802.2,427.2 L803.0,427.9 L803.9,428.7 L804.8,429.4 L805.8,430.1 L806.7,430.8 L807.7,431.5 L808.6,432.2 L809.7,432.8 L810.7,433.5 L811.7,434.2 L812.6,435.0 L813.6,435.7 L814.7,436.4 L815.8,436.9 L816.9,437.4 L818.0,438.1 L818.9,438.9 L819.8,439.8 L820.7,440.7 L821.7,441.4 L822.8,441.9 L824.1,442.2 L825.3,442.8 L826.2,443.7 L827.0,444.9 L827.8,446.1 L828.8,446.8 L830.1,447.2 L831.5,447.3 L832.7,447.6 L833.7,448.5 L834.5,449.6 L835.4,450.7 L836.4,451.4 L837.7,451.6 L839.1,451.4 L840.4,451.3 L841.6,451.6 L842.8,452.5 L843.9,453.5 L845.2,454.1 L846.6,454.0 L848.1,453.5 L849.5,453.3 L850.8,453.5 L852.0,454.0 L853.3,454.4 L854.6,454.4 L855.8,453.9 L857.0,453.2 L858.1,452.5 L859.1,452.1 L860.3,451.7 L861.5,451.2 L862.7,450.4 L863.7,449.4 L864.7,448.2 L865.7,447.2 L866.9,446.3 L868.0,445.4 L869.0,444.5 L870.0,443.6 L870.8,442.8 L871.6,442.1 L872.4,441.5 L873.0,441.1" fill="none" stroke="#a86215" stroke-width="2.50" stroke-linejoin="round" stroke-linecap="round"/>
<path d="M1017.5,335.7 L1017.6,336.6 L1017.9,337.5 L1018.5,338.4 L1019.4,339.0 L1020.7,339.5 L1021.9,340.1 L1022.7,341.2 L1023.2,342.7 L1023.6,344.3 L1024.4,345.5 L1025.7,346.2 L1027.0,346.9 L1027.9,348.0 L1028.2,349.4 L1028.4,350.7 L1028.7,351.8 L1029.2,352.7 L1029.8,353.6 L1030.2,354.5 L1030.4,355.6 L1030.2,356.7 L1029.9,357.9 L1029.6,359.0 L1029.4,360.2 L1029.3,361.5 L1029.2,362.8 L1028.9,364.2 L1028.4,365.5 L1027.9,366.7 L1027.4,368.0 L1026.9,369.3 L1026.3,370.6 L1025.7,371.8 L1025.0,373.0 L1024.3,374.2 L1023.6,375.3 L1022.8,376.3 L1022.0,377.2 L1021.2,378.0 L1020.3,378.9 L1019.3,379.6 L1018.3,380.4 L1017.3,381.0 L1016.1,381.5 L1015.0,382.0 L1013.8,382.6 L1012.8,383.2 L1011.7,383.9 L1010.5,384.4 L1009.2,384.7 L1007.9,384.9 L1006.6,385.2 L1005.4,385.7 L1004.4,386.5 L1003.4,387.4 L1002.2,387.9 L1000.9,388.1 L999.4,388.2 L998.2,388.5 L997.2,389.2 L996.4,390.3 L995.7,391.4 L994.7,392.2 L993.5,392.6 L992.0,392.7 L990.7,393.0 L989.6,393.7 L988.9,394.9 L988.4,396.2 L987.6,397.2 L986.4,397.7 L985.1,398.0 L983.8,398.3 L982.7,398.9 L982.0,400.0 L981.4,401.3 L980.7,402.4 L979.7,403.1 L978.5,403.4 L977.3,403.7 L976.2,404.3 L975.2,405.2 L974.4,406.4 L973.5,407.4 L972.5,408.2 L971.3,408.7 L970.1,409.1 L969.0,409.7 L968.0,410.5 L967.0,411.3 L966.0,412.1 L964.9,412.7 L963.8,413.3 L962.7,413.7 L961.6,414.2 L960.5,414.8 L959.3,415.3 L958.2,415.7 L957.1,416.1 L956.0,416.5 L954.6,416.9 L953.3,417.2 L951.9,417.5 L950.4,417.7 L949.0,417.9 L947.5,418.1 L946.0,418.2 L944.6,418.3 L943.1,418.3 L941.7,418.4 L940.4,418.6 L939.2,418.9 L938.0,418.9 L936.8,418.8 L935.7,418.6 L934.8,418.5 L933.9,418.5 L933.2,418.6" fill="none" stroke="#181818" stroke-width="2.50" stroke-linejoin="round" stroke-linecap="round"/>
<path d="M946.7,154.3 L947.6,154.4 L948.5,154.4 L949.5,154.1 L950.3,153.3 L951.1,152.2 L952.0,151.2 L953.2,150.7 L954.8,150.6 L956.5,150.7 L957.8,150.2 L958.9,149.1 L959.9,148.0 L961.1,147.3 L962.4,147.2 L963.8,147.3 L964.9,147.3 L965.8,147.1 L966.7,146.7 L967.8,146.3 L969.0,146.2 L970.1,146.5 L971.2,147.0 L972.2,147.5 L973.3,148.0 L974.5,148.4 L975.8,148.8 L976.9,149.4 L978.1,150.2 L979.2,151.1 L980.3,152.0 L981.4,152.9 L982.6,153.9 L983.4,154.6 L984.2,155.3 L985.0,156.1 L985.8,157.0 L986.6,157.9 L987.5,158.8 L988.3,159.8 L989.1,160.8 L989.9,161.9 L990.7,163.0 L991.4,164.1 L992.0,165.4 L992.6,166.6 L993.2,167.8 L993.9,168.9 L994.6,170.1 L995.0,171.3 L995.1,172.7 L995.1,174.0 L995.1,175.2 L995.4,176.4 L995.8,177.5 L996.1,178.7 L996.0,179.9 L995.6,181.0 L994.7,182.1 L993.9,183.2 L993.4,184.3 L993.4,185.7 L993.5,187.1 L993.4,188.4 L992.6,189.5 L991.4,190.5 L990.4,191.6 L990.1,192.9 L990.3,194.4 L990.6,195.8 L990.6,197.1 L990.2,198.3 L989.5,199.5 L989.0,200.7 L989.0,202.1 L989.7,203.2 L990.6,204.3 L991.5,205.2 L992.1,206.2 L992.4,207.4 L992.7,208.6 L993.2,209.8 L994.1,210.7 L995.2,211.4 L996.4,212.1 L997.4,212.9 L998.2,213.9 L998.9,215.0 L999.7,216.0 L1000.7,216.9 L1001.8,217.7 L1002.8,218.5 L1003.8,219.4 L1004.6,220.4 L1005.3,221.4 L1006.1,222.4 L1006.8,223.5 L1007.5,224.5 L1008.2,225.6 L1008.8,226.7 L1009.4,227.8 L1010.0,228.9 L1010.6,230.0 L1011.1,231.1 L1011.7,232.2 L1012.2,233.4 L1012.7,234.5 L1013.2,235.6 L1013.6,236.8 L1014.0,238.0 L1014.3,239.1 L1014.7,240.3 L1015.2,241.4 L1015.8,242.5 L1016.2,243.7 L1016.4,244.9 L1016.4,246.3 L1016.5,247.6 L1016.7,248.7 L1017.2,249.8 L1017.8,250.8 L1018.4,251.9 L1018.5,253.2 L1018.3,254.5 L1018.1,255.8 L1018.2,257.0 L1018.7,258.2 L1019.6,259.3 L1020.3,260.4 L1020.5,261.7 L1020.2,263.0 L1019.8,264.3 L1019.8,265.5 L1020.3,266.7 L1021.2,267.8 L1022.0,269.0 L1022.3,270.2 L1022.0,271.4 L1021.5,272.6 L1021.2,273.8 L1021.4,275.0 L1022.0,276.3 L1022.6,277.7 L1022.7,279.0 L1022.3,280.3 L1021.6,281.4 L1021.0,282.6 L1020.9,283.9 L1021.0,285.2 L1021.1,286.6 L1021.0,287.9 L1020.5,289.0 L1019.9,290.1 L1019.4,291.3 L1019.1,292.4 L1019.0,293.6 L1019.0,294.8 L1018.9,295.9 L1018.7,297.0 L1018.5,298.1 L1018.4,299.4 L1018.3,300.7 L1018.4,302.1 L1018.5,303.5 L1018.6,305.0 L1018.7,306.5 L1018.8,307.9 L1019.0,309.4 L1019.2,310.8 L1019.4,312.2 L1019.6,313.5 L1019.9,314.8 L1020.1,316.0 L1020.2,317.1 L1020.3,318.1 L1020.5,319.1 L1020.7,319.8 L1020.9,320.5" fill="none" stroke="#570e0e" stroke-width="2.50" stroke-linejoin="round" stroke-linecap="round"/>
<path d="M898.0,233.9 L897.5,234.6 L896.9,235.4 L896.5,236.3 L896.6,237.6 L896.9,239.0 L896.9,240.4 L896.3,241.7 L895.1,243.0 L894.3,244.4 L894.2,246.0 L894.7,247.5 L895.0,249.0 L894.8,250.4 L894.3,251.7 L894.0,253.1 L894.2,254.3 L895.0,255.6 L896.1,256.7 L897.2,257.6 L898.2,258.7 L899.1,259.8 L900.1,260.9 L901.3,261.7 L902.6,262.2 L903.8,262.8 L904.8,263.3 L905.7,263.8 L906.4,264.4 L907.0,264.8" fill="none" stroke="#1e2b7e" stroke-width="2.50" stroke-linejoin="round" stroke-linecap="round"/>
<path d="M920.2,282.6 L921.0,282.7 L922.0,282.7 L923.0,282.3 L923.9,281.4 L924.7,280.2 L925.6,279.2 L927.0,278.8 L928.7,278.9 L930.3,278.7 L931.5,278.0 L932.5,276.8 L933.6,275.8 L934.8,275.3 L936.1,275.3 L937.2,275.4 L938.1,275.5 L939.3,275.2 L940.6,274.8 L942.0,274.7 L943.4,275.1 L944.6,275.9 L945.9,276.5 L947.2,277.0 L948.4,277.3 L949.5,277.6 L950.5,277.9 L951.2,278.1" fill="none" stroke="#1e2b7e" stroke-width="2.50" stroke-linejoin="round" stroke-linecap="round"/>
<path d="M882.5,247.2 L882.9,246.4 L883.2,245.5 L883.2,244.4 L882.7,243.3 L881.8,242.2 L881.3,240.9 L881.4,239.4 L882.0,237.9 L882.4,236.3 L882.2,234.9 L881.4,233.5 L880.9,232.2 L880.9,230.8 L881.5,229.6 L882.0,228.5 L882.3,227.4 L882.2,226.2 L882.0,225.0 L881.9,223.8 L882.1,222.6 L882.6,221.4 L883.1,220.3 L883.5,219.1 L883.7,217.9 L883.8,216.6 L883.9,215.4 L884.1,214.2 L884.3,213.0 L884.6,211.8 L884.8,210.6 L885.0,209.4 L885.1,208.1 L885.3,206.9 L885.5,205.7 L885.7,204.5 L885.9,203.3 L886.1,202.1 L886.4,200.9 L886.6,199.7 L886.9,198.5 L887.1,197.3 L887.4,196.2 L887.7,195.0 L888.1,193.8 L888.5,192.6 L888.9,191.4 L889.2,190.0 L889.4,188.6 L889.8,187.3 L890.4,186.0 L891.2,184.7 L891.9,183.5 L892.2,182.2 L892.2,180.9 L892.3,179.7 L892.6,178.7 L893.1,177.8 L893.7,177.1 L894.3,176.6" fill="none" stroke="#a5a115" stroke-width="2.50" stroke-linejoin="round" stroke-linecap="round"/>
<linearGradient id="cg53" gradientUnits="userSpaceOnUse" x1="189.3" y1="578.0" x2="205.9" y2="571.8"><stop offset="0" stop-color="#1e255c"/><stop offset="0.12" stop-color="#3846ad"/><stop offset="0.3" stop-color="#6471d5"/><stop offset="0.55" stop-color="#4252cc"/><stop offset="0.82" stop-color="#28317a"/><stop offset="1" stop-color="#0a0c1f"/></linearGradient><line x1="163.8" y1="485.0" x2="231.5" y2="664.8" stroke="url(#cg53)" stroke-width="17.7" stroke-linecap="round" opacity="0.82"/>
<linearGradient id="cg54" gradientUnits="userSpaceOnUse" x1="186.3" y1="738.4" x2="201.9" y2="743.0"><stop offset="0" stop-color="#1e255c"/><stop offset="0.12" stop-color="#3846ad"/><stop offset="0.3" stop-color="#6471d5"/><stop offset="0.55" stop-color="#4252cc"/><stop offset="0.82" stop-color="#28317a"/><stop offset="1" stop-color="#0a0c1f"/></linearGradient><line x1="208.1" y1="692.8" x2="180.1" y2="788.6" stroke="url(#cg54)" stroke-width="16.3" stroke-linecap="round" opacity="0.85"/>
<linearGradient id="cg55" gradientUnits="userSpaceOnUse" x1="164.7" y1="564.1" x2="176.8" y2="553.1"><stop offset="0" stop-color="#131b51"/><stop offset="0.12" stop-color="#253499"/><stop offset="0.3" stop-color="#5160c2"/><stop offset="0.55" stop-color="#2b3db4"/><stop offset="0.82" stop-color="#1a256c"/><stop offset="1" stop-color="#06091b"/></linearGradient><line x1="133.4" y1="517.7" x2="208.1" y2="599.4" stroke="url(#cg55)" stroke-width="16.3" stroke-linecap="round" opacity="0.9"/>
<linearGradient id="cg56" gradientUnits="userSpaceOnUse" x1="134.4" y1="577.3" x2="146.5" y2="565.6"><stop offset="0" stop-color="#6a670d"/><stop offset="0.12" stop-color="#c9c41a"/><stop offset="0.3" stop-color="#efeb46"/><stop offset="0.55" stop-color="#ece61e"/><stop offset="0.82" stop-color="#8e8a12"/><stop offset="1" stop-color="#232305"/></linearGradient><line x1="77.4" y1="506.0" x2="203.4" y2="636.8" stroke="url(#cg56)" stroke-width="16.8" stroke-linecap="round"/>
<linearGradient id="cg57" gradientUnits="userSpaceOnUse" x1="95.8" y1="597.9" x2="112.6" y2="596.3"><stop offset="0" stop-color="#323616"/><stop offset="0.12" stop-color="#5f662a"/><stop offset="0.3" stop-color="#8a9057"/><stop offset="0.55" stop-color="#707832"/><stop offset="0.82" stop-color="#43481e"/><stop offset="1" stop-color="#111208"/></linearGradient><line x1="98.4" y1="538.7" x2="110.0" y2="655.5" stroke="url(#cg57)" stroke-width="16.8" stroke-linecap="round"/>
<ellipse cx="99.5" cy="539.9" rx="7.0" ry="5.1" fill="#ece61e" opacity="1.0"/>
<linearGradient id="cg58" gradientUnits="userSpaceOnUse" x1="91.0" y1="648.1" x2="87.1" y2="660.5"><stop offset="0" stop-color="#292e31"/><stop offset="0.12" stop-color="#4e575c"/><stop offset="0.3" stop-color="#798286"/><stop offset="0.55" stop-color="#5c666c"/><stop offset="0.82" stop-color="#373d41"/><stop offset="1" stop-color="#0e0f10"/></linearGradient><line x1="70.4" y1="648.5" x2="107.7" y2="660.1" stroke="url(#cg58)" stroke-width="13.1" stroke-linecap="round"/>
<linearGradient id="cg59" gradientUnits="userSpaceOnUse" x1="132.4" y1="578.6" x2="148.4" y2="573.5"><stop offset="0" stop-color="#280c04"/><stop offset="0.12" stop-color="#4c1607"/><stop offset="0.3" stop-color="#784334"/><stop offset="0.55" stop-color="#5a1a08"/><stop offset="0.82" stop-color="#361005"/><stop offset="1" stop-color="#0e0401"/></linearGradient><line x1="124.1" y1="524.7" x2="156.7" y2="627.5" stroke="url(#cg59)" stroke-width="16.8" stroke-linecap="round"/><ellipse cx="124.1" cy="524.7" rx="4.7" ry="8.4" transform="rotate(72.3 124.1 524.7)" fill="#733c2d"/>
<ellipse cx="124.1" cy="525.2" rx="6.5" ry="5.6" fill="#f08020" opacity="1.0"/>
<ellipse cx="166.1" cy="648.5" rx="11.7" ry="16.3" fill="#f0c8a0" opacity="0.7"/>
<linearGradient id="cg60" gradientUnits="userSpaceOnUse" x1="240.0" y1="657.2" x2="246.3" y2="674.8"><stop offset="0" stop-color="#0e143c"/><stop offset="0.12" stop-color="#1b2572"/><stop offset="0.3" stop-color="#48529c"/><stop offset="0.55" stop-color="#202c86"/><stop offset="0.82" stop-color="#131a50"/><stop offset="1" stop-color="#050714"/></linearGradient><line x1="226.8" y1="671.8" x2="259.5" y2="660.1" stroke="url(#cg60)" stroke-width="18.7" stroke-linecap="round"/>
<linearGradient id="cg61" gradientUnits="userSpaceOnUse" x1="127.3" y1="618.6" x2="141.8" y2="627.0"><stop offset="0" stop-color="#3e1a07"/><stop offset="0.12" stop-color="#75310e"/><stop offset="0.3" stop-color="#9f5d3b"/><stop offset="0.55" stop-color="#8a3a10"/><stop offset="0.82" stop-color="#53230a"/><stop offset="1" stop-color="#150902"/></linearGradient><line x1="177.8" y1="548.1" x2="91.4" y2="697.5" stroke="url(#cg61)" stroke-width="16.8" stroke-linecap="round"/>
<linearGradient id="cg62" gradientUnits="userSpaceOnUse" x1="182.5" y1="584.6" x2="196.4" y2="595.6"><stop offset="0" stop-color="#0d0d0f"/><stop offset="0.12" stop-color="#1a1a1d"/><stop offset="0.3" stop-color="#46464a"/><stop offset="0.55" stop-color="#1e1e22"/><stop offset="0.82" stop-color="#121214"/><stop offset="1" stop-color="#050505"/></linearGradient><line x1="245.5" y1="520.0" x2="133.4" y2="660.1" stroke="url(#cg62)" stroke-width="17.7" stroke-linecap="round"/>
<linearGradient id="cg63" gradientUnits="userSpaceOnUse" x1="143.3" y1="669.8" x2="137.6" y2="683.1"><stop offset="0" stop-color="#380909"/><stop offset="0.12" stop-color="#691111"/><stop offset="0.3" stop-color="#943e3e"/><stop offset="0.55" stop-color="#7c1414"/><stop offset="0.82" stop-color="#4a0c0c"/><stop offset="1" stop-color="#130303"/></linearGradient><line x1="124.1" y1="669.5" x2="156.7" y2="683.5" stroke="url(#cg63)" stroke-width="14.5" stroke-linecap="round"/>
<linearGradient id="cg64" gradientUnits="userSpaceOnUse" x1="244.3" y1="604.6" x2="260.7" y2="599.0"><stop offset="0" stop-color="#630e0e"/><stop offset="0.12" stop-color="#bb1b1b"/><stop offset="0.3" stop-color="#e24848"/><stop offset="0.55" stop-color="#dc2020"/><stop offset="0.82" stop-color="#841313"/><stop offset="1" stop-color="#210505"/></linearGradient><line x1="224.5" y1="520.0" x2="280.5" y2="683.5" stroke="url(#cg64)" stroke-width="17.3" stroke-linecap="round"/>
<linearGradient id="cg65" gradientUnits="userSpaceOnUse" x1="214.3" y1="580.1" x2="230.0" y2="588.4"><stop offset="0" stop-color="#630e0e"/><stop offset="0.12" stop-color="#bb1b1b"/><stop offset="0.3" stop-color="#e24848"/><stop offset="0.55" stop-color="#dc2020"/><stop offset="0.82" stop-color="#841313"/><stop offset="1" stop-color="#210505"/></linearGradient><line x1="268.8" y1="496.7" x2="175.4" y2="671.8" stroke="url(#cg65)" stroke-width="17.7" stroke-linecap="round"/><ellipse cx="268.8" cy="496.7" rx="5.0" ry="8.9" transform="rotate(118.1 268.8 496.7)" fill="#e14141"/>
<linearGradient id="cg66" gradientUnits="userSpaceOnUse" x1="217.4" y1="616.0" x2="233.9" y2="622.5"><stop offset="0" stop-color="#232729"/><stop offset="0.12" stop-color="#42494e"/><stop offset="0.3" stop-color="#6e7479"/><stop offset="0.55" stop-color="#4e565c"/><stop offset="0.82" stop-color="#2f3437"/><stop offset="1" stop-color="#0c0d0e"/></linearGradient><line x1="257.1" y1="538.7" x2="194.1" y2="699.8" stroke="url(#cg66)" stroke-width="17.7" stroke-linecap="round"/>
<linearGradient id="cg67" gradientUnits="userSpaceOnUse" x1="261.5" y1="639.0" x2="266.8" y2="650.9"><stop offset="0" stop-color="#6a670d"/><stop offset="0.12" stop-color="#c9c41a"/><stop offset="0.3" stop-color="#efeb46"/><stop offset="0.55" stop-color="#ece61e"/><stop offset="0.82" stop-color="#8e8a12"/><stop offset="1" stop-color="#232305"/></linearGradient><line x1="287.5" y1="634.5" x2="240.8" y2="655.5" stroke="url(#cg67)" stroke-width="13.1" stroke-linecap="round"/>
<linearGradient id="cg68" gradientUnits="userSpaceOnUse" x1="144.4" y1="744.7" x2="159.7" y2="746.1"><stop offset="0" stop-color="#6a670d"/><stop offset="0.12" stop-color="#c9c41a"/><stop offset="0.3" stop-color="#efeb46"/><stop offset="0.55" stop-color="#ece61e"/><stop offset="0.82" stop-color="#8e8a12"/><stop offset="1" stop-color="#232305"/></linearGradient><line x1="156.7" y1="695.2" x2="147.4" y2="795.6" stroke="url(#cg68)" stroke-width="15.4" stroke-linecap="round"/>
<linearGradient id="cg69" gradientUnits="userSpaceOnUse" x1="154.1" y1="754.9" x2="168.7" y2="749.9"><stop offset="0" stop-color="#6c3f0d"/><stop offset="0.12" stop-color="#cc771a"/><stop offset="0.3" stop-color="#f3a146"/><stop offset="0.55" stop-color="#f08c1e"/><stop offset="0.82" stop-color="#905412"/><stop offset="1" stop-color="#241505"/></linearGradient><line x1="145.1" y1="704.5" x2="177.8" y2="800.2" stroke="url(#cg69)" stroke-width="15.4" stroke-linecap="round"/>
<linearGradient id="cg70" gradientUnits="userSpaceOnUse" x1="191.7" y1="755.6" x2="208.2" y2="749.2"><stop offset="0" stop-color="#0d0d0f"/><stop offset="0.12" stop-color="#1a1a1d"/><stop offset="0.3" stop-color="#46464a"/><stop offset="0.55" stop-color="#1e1e22"/><stop offset="0.82" stop-color="#121214"/><stop offset="1" stop-color="#050505"/></linearGradient><line x1="182.4" y1="706.8" x2="217.5" y2="797.9" stroke="url(#cg70)" stroke-width="17.7" stroke-linecap="round"/>
<linearGradient id="cg71" gradientUnits="userSpaceOnUse" x1="212.6" y1="738.8" x2="229.3" y2="740.2"><stop offset="0" stop-color="#380909"/><stop offset="0.12" stop-color="#691111"/><stop offset="0.3" stop-color="#943e3e"/><stop offset="0.55" stop-color="#7c1414"/><stop offset="0.82" stop-color="#4a0c0c"/><stop offset="1" stop-color="#130303"/></linearGradient><line x1="224.5" y1="697.5" x2="217.5" y2="781.6" stroke="url(#cg71)" stroke-width="16.8" stroke-linecap="round"/><ellipse cx="224.5" cy="697.5" rx="4.7" ry="8.4" transform="rotate(94.8 224.5 697.5)" fill="#903737"/>
<path d="M51.7,487.4 L52.5,487.4 L53.6,487.3 L54.6,486.9 L55.4,486.0 L56.2,484.8 L57.3,483.8 L58.7,483.5 L60.4,483.6 L61.8,483.5 L63.0,482.8 L63.9,481.9 L64.8,481.2 L65.7,480.9 L66.8,481.2 L67.7,482.0 L68.5,482.8 L69.5,483.4 L70.9,483.8 L72.2,484.2 L73.5,484.8 L74.7,485.4 L76.0,485.9 L77.5,485.9 L78.6,485.5 L79.5,484.8 L80.4,483.9 L81.2,483.0 L82.1,482.1 L83.1,481.2 L84.1,480.2 L85.0,479.2 L85.9,478.1 L86.9,477.2 L87.9,476.4 L88.9,475.6 L90.0,475.1 L91.2,474.7 L92.5,474.5 L93.9,474.4 L95.4,474.4 L96.9,474.5 L98.4,474.8 L99.9,475.3 L101.2,475.9 L102.5,476.6 L103.7,477.2 L104.8,478.0 L105.8,478.8 L106.4,479.9 L106.5,481.1 L106.2,482.2 L105.6,483.2 L105.0,484.2 L104.5,485.4 L104.2,486.8 L103.8,488.2 L103.0,489.4 L101.8,490.4 L100.6,491.5 L99.9,492.8 L99.9,494.2 L100.3,495.6 L100.6,496.7 L100.7,497.9 L100.5,499.3 L100.4,500.9 L100.9,502.3 L102.1,503.3 L103.6,504.1 L104.8,504.9 L105.4,506.2 L105.8,507.7 L106.3,509.0 L107.1,509.8 L108.1,510.2 L109.1,510.6 L109.8,510.9" fill="none" stroke="#1e2b7e" stroke-width="2.50" stroke-linejoin="round" stroke-linecap="round"/>
<path d="M110.0,496.7 L110.8,497.0 L111.8,497.2 L112.8,497.1 L113.8,496.5 L114.8,495.7 L115.9,494.9 L117.2,494.6 L118.7,495.0 L120.3,495.3 L121.7,495.2 L122.9,494.4 L124.1,493.5 L125.3,493.0 L126.6,493.1 L127.8,493.4 L128.8,493.6 L130.3,493.6 L131.9,493.0 L133.5,492.5 L135.1,492.5 L136.6,492.9 L138.1,493.1 L139.4,493.2 L140.6,493.2 L141.6,493.4 L142.4,493.8 L142.8,494.3 L142.9,495.0 L142.7,495.9 L142.4,496.9 L141.9,498.1 L141.2,499.3 L140.4,500.6 L139.5,501.9 L138.5,503.1 L137.4,504.3 L136.3,505.4 L135.1,506.3 L134.0,507.1 L132.8,507.7 L131.5,508.2 L130.0,508.5 L128.5,508.6 L127.0,508.7 L125.5,508.8 L124.0,509.0 L122.5,509.2 L121.1,509.1 L119.9,508.7 L118.7,508.4 L117.8,508.3 L117.0,508.3" fill="none" stroke="#737f1d" stroke-width="2.50" stroke-linejoin="round" stroke-linecap="round"/>
<path d="M159.1,473.3 L160.0,473.2 L161.0,472.9 L161.9,472.2 L162.5,471.0 L163.0,469.6 L164.0,468.4 L165.5,467.9 L167.1,467.7 L168.4,467.2 L169.3,466.3 L170.0,465.3 L170.9,464.6 L172.0,464.4 L173.1,464.7 L174.1,465.2 L175.2,465.7 L176.3,465.8 L177.6,465.7 L179.0,465.7 L180.4,465.9 L181.7,466.4 L183.1,466.9 L184.6,467.1 L185.8,467.0 L187.0,466.8 L188.3,466.6 L189.5,466.5 L190.8,466.5 L192.1,466.4 L193.5,466.3 L194.8,466.2 L196.1,466.1 L197.5,466.1 L198.8,466.2 L200.2,466.4 L201.5,466.7 L202.8,467.1 L204.0,467.7 L205.1,468.3 L206.1,469.1 L207.1,469.9 L208.1,470.9 L208.9,472.0 L209.7,473.2 L210.5,474.3 L211.4,475.4 L212.4,476.5 L213.1,477.7 L213.6,479.0 L214.0,480.4 L214.5,481.6 L215.3,482.5 L216.3,483.3 L217.1,484.0 L217.8,484.7 L218.5,486.4 L219.1,488.0 L219.9,489.1 L221.0,489.7 L222.3,490.0 L223.4,490.4 L224.4,491.0 L225.2,492.0 L226.1,493.4 L227.1,494.3 L228.4,494.7 L229.9,494.5 L231.5,494.4 L232.9,494.8 L234.1,495.8 L235.2,496.8 L236.5,497.3 L237.8,497.1 L239.0,496.8 L240.1,496.7 L240.8,496.7" fill="none" stroke="#86434e" stroke-width="2.50" stroke-linejoin="round" stroke-linecap="round"/>
<path d="M238.5,478.0 L239.4,478.0 L240.4,477.8 L241.4,477.2 L242.2,476.1 L243.0,474.8 L244.1,473.9 L245.7,473.6 L247.3,473.7 L248.6,473.4 L249.6,472.8 L250.3,472.0 L251.4,471.5 L252.6,471.6 L253.7,472.4 L254.8,473.3 L256.1,473.9 L257.5,474.0 L259.0,473.9 L260.5,473.9 L261.9,473.9 L263.2,473.8 L264.4,473.5 L265.5,472.8 L266.5,471.9 L267.4,470.9 L268.3,470.1 L269.4,469.4 L270.7,468.8 L272.0,468.5 L273.5,468.3 L274.6,468.3 L275.7,468.4 L276.8,468.6 L278.0,468.8 L279.3,469.1 L280.5,469.5 L281.8,469.9 L283.1,470.4 L284.4,470.9 L285.7,471.4 L287.0,471.9 L288.2,472.6 L289.3,473.2 L290.4,473.9 L291.5,474.4 L292.6,474.8 L293.9,475.2 L295.2,475.7 L296.4,476.5 L297.7,477.4 L298.9,478.1 L300.3,478.4 L301.7,478.6 L302.9,479.0 L303.9,479.8 L304.5,480.8 L304.8,481.8 L304.9,482.5 L305.0,483.0 L305.1,483.4 L305.3,484.1 L305.4,485.1 L305.1,486.2 L304.3,487.1 L303.0,487.7 L301.6,488.3 L300.6,489.2 L300.1,490.7 L299.7,492.2 L299.0,493.5 L297.8,494.3 L296.4,494.9 L295.4,495.6 L294.8,496.8 L294.6,498.2 L294.4,499.6 L293.9,500.8 L293.0,501.6 L292.0,502.3 L291.1,503.1 L290.4,504.1 L289.9,505.3 L289.5,506.6 L288.9,507.8 L287.9,508.8 L287.0,509.5 L286.0,510.3 L285.1,511.2 L284.2,512.3 L283.3,513.5 L282.3,514.5 L281.2,515.4 L280.1,516.2 L279.0,517.1 L278.0,517.9 L277.1,518.7 L276.2,519.4 L275.4,520.0 L274.8,520.5 L274.2,520.9" fill="none" stroke="#181818" stroke-width="2.50" stroke-linejoin="round" stroke-linecap="round"/>
<path d="M170.8,538.7 L171.6,538.8 L172.4,538.8 L173.3,538.5 L174.2,537.9 L174.9,537.0 L175.7,536.0 L176.7,535.3 L178.0,535.1 L179.6,535.2 L181.1,535.0 L182.3,534.2 L183.2,533.0 L184.2,531.9 L185.5,531.3 L186.9,531.1 L188.3,530.8 L189.5,530.2 L190.4,529.4 L191.2,528.4 L192.1,527.6 L193.3,526.9 L194.5,526.5 L195.7,526.0 L196.8,525.5 L197.9,524.8 L198.9,524.1 L199.9,523.4 L200.9,522.8 L201.9,522.2 L202.9,521.6 L203.9,520.9 L204.8,520.1 L205.7,519.2 L206.6,518.2 L207.5,517.1 L208.1,516.3 L208.7,515.4 L209.3,514.5 L209.9,513.4 L210.5,512.3 L211.1,511.1 L211.7,509.8 L212.4,508.6 L213.1,507.4 L213.9,506.2 L214.6,504.9 L215.1,503.6 L215.7,502.3 L216.4,501.1 L217.4,500.1 L218.4,499.2 L219.2,498.2 L219.8,497.2 L220.2,496.2 L220.6,495.3 L221.2,494.5 L221.9,494.0 L223.7,493.8 L225.2,494.3 L226.4,494.5 L227.9,494.4 L229.5,494.5 L230.7,495.5 L231.5,496.8 L232.3,498.0 L233.1,498.5" fill="none" stroke="#7b4e22" stroke-width="2.50" stroke-linejoin="round" stroke-linecap="round"/>
<path d="M142.7,814.2 L143.6,814.2 L144.6,814.0 L145.6,813.5 L146.3,812.4 L147.0,811.1 L147.9,810.1 L149.4,809.6 L151.1,809.4 L152.5,809.1 L153.5,808.2 L154.3,807.0 L155.1,806.1 L156.0,805.7 L156.8,805.7 L158.1,806.2 L159.1,806.8 L160.3,807.1 L161.8,807.4 L163.1,808.0 L164.1,808.9 L165.0,809.7 L165.6,810.3" fill="none" stroke="#7b4e22" stroke-width="2.50" stroke-linejoin="round" stroke-linecap="round"/>
<path d="M203.4,811.9 L204.3,811.7 L205.2,811.2 L206.0,810.5 L206.5,809.3 L206.9,807.8 L207.6,806.6 L208.9,805.9 L210.5,805.6 L211.7,805.2 L212.6,804.6 L213.3,803.7 L214.1,802.9 L215.2,802.4 L216.4,802.4 L217.7,802.8 L219.0,803.1 L220.3,803.0 L221.6,802.6 L222.9,802.3 L224.2,802.4 L225.4,802.8 L226.5,803.4 L227.5,803.8 L228.7,804.3 L230.0,804.7 L231.3,805.4 L232.5,806.2 L233.6,807.1 L234.7,808.0 L235.8,808.9 L236.8,809.6 L237.7,810.3 L238.4,810.9 L239.0,811.3" fill="none" stroke="#181818" stroke-width="2.50" stroke-linejoin="round" stroke-linecap="round"/>
<path d="M170.8,685.8 L171.6,685.9 L172.7,685.9 L173.7,685.5 L174.5,684.6 L175.4,683.5 L176.5,682.6 L178.0,682.4 L179.6,682.9 L181.1,683.1 L182.6,682.6 L183.5,682.1 L184.4,681.7 L185.5,681.6 L186.6,681.8 L187.7,682.3 L188.8,682.8 L189.9,683.0 L191.2,682.8 L192.4,682.5 L193.7,682.3 L195.1,682.4 L196.3,682.8 L197.7,683.2 L199.1,683.3 L200.5,683.3 L202.0,683.3 L203.5,683.4 L204.5,683.6 L205.6,683.9 L206.7,684.1 L207.9,684.3 L209.1,684.6 L210.4,684.8 L211.6,685.1 L212.9,685.4 L214.2,685.8 L215.4,686.1 L216.7,686.5 L218.0,686.9 L219.3,687.3 L220.5,687.7 L221.8,688.2 L223.0,688.7 L224.1,689.3 L225.3,689.8 L226.4,690.2 L227.6,690.5 L228.7,690.8 L229.8,691.2 L230.7,691.7 L231.6,692.4 L232.9,693.2 L234.2,693.8 L235.6,694.0 L236.8,694.1 L238.0,694.6 L239.0,695.4 L239.8,696.4 L240.8,697.2 L241.8,697.7 L243.0,697.8 L244.2,697.6 L245.3,697.4 L246.5,697.6 L247.6,698.2 L248.9,698.9 L250.2,699.4 L251.4,699.3 L252.6,698.7 L253.7,697.8 L254.8,697.2 L256.1,697.0 L257.5,697.3 L258.9,697.5 L260.2,697.1 L261.4,696.1 L262.4,695.0 L263.5,694.2 L264.8,693.9 L266.2,693.8 L267.5,693.6 L268.6,693.0 L269.6,692.1 L270.5,691.3 L271.4,690.6 L272.4,690.2 L273.3,690.0 L275.1,689.6 L276.6,688.9 L277.9,688.0 L279.1,687.2 L280.3,686.6 L281.4,686.2 L282.4,685.8 L283.3,685.4 L284.1,685.1 L284.7,684.8" fill="none" stroke="#570e0e" stroke-width="2.50" stroke-linejoin="round" stroke-linecap="round"/>
<linearGradient id="cg72" gradientUnits="userSpaceOnUse" x1="499.8" y1="557.0" x2="515.7" y2="550.8"><stop offset="0" stop-color="#1e255c"/><stop offset="0.12" stop-color="#3846ad"/><stop offset="0.3" stop-color="#6471d5"/><stop offset="0.55" stop-color="#4252cc"/><stop offset="0.82" stop-color="#28317a"/><stop offset="1" stop-color="#0a0c1f"/></linearGradient><line x1="484.4" y1="494.4" x2="531.1" y2="613.4" stroke="url(#cg72)" stroke-width="17.1" stroke-linecap="round" opacity="0.85"/>
<linearGradient id="cg73" gradientUnits="userSpaceOnUse" x1="504.3" y1="595.5" x2="515.8" y2="584.7"><stop offset="0" stop-color="#131b51"/><stop offset="0.12" stop-color="#253499"/><stop offset="0.3" stop-color="#5160c2"/><stop offset="0.55" stop-color="#2b3db4"/><stop offset="0.82" stop-color="#1a256c"/><stop offset="1" stop-color="#06091b"/></linearGradient><line x1="447.1" y1="522.4" x2="573.1" y2="657.8" stroke="url(#cg73)" stroke-width="15.7" stroke-linecap="round"/>
<linearGradient id="cg74" gradientUnits="userSpaceOnUse" x1="589.5" y1="649.3" x2="591.8" y2="666.3"><stop offset="0" stop-color="#131b51"/><stop offset="0.12" stop-color="#253499"/><stop offset="0.3" stop-color="#5160c2"/><stop offset="0.55" stop-color="#2b3db4"/><stop offset="0.82" stop-color="#1a256c"/><stop offset="1" stop-color="#06091b"/></linearGradient><line x1="573.1" y1="660.1" x2="608.2" y2="655.5" stroke="url(#cg74)" stroke-width="17.1" stroke-linecap="round"/>
<linearGradient id="cg75" gradientUnits="userSpaceOnUse" x1="481.9" y1="580.1" x2="470.6" y2="593.1"><stop offset="0" stop-color="#6a670d"/><stop offset="0.12" stop-color="#c9c41a"/><stop offset="0.3" stop-color="#efeb46"/><stop offset="0.55" stop-color="#ece61e"/><stop offset="0.82" stop-color="#8e8a12"/><stop offset="1" stop-color="#232305"/></linearGradient><line x1="405.0" y1="524.7" x2="547.5" y2="648.5" stroke="url(#cg75)" stroke-width="17.1" stroke-linecap="round"/>
<linearGradient id="cg76" gradientUnits="userSpaceOnUse" x1="596.0" y1="625.3" x2="601.7" y2="638.9"><stop offset="0" stop-color="#6a670d"/><stop offset="0.12" stop-color="#c9c41a"/><stop offset="0.3" stop-color="#efeb46"/><stop offset="0.55" stop-color="#ece61e"/><stop offset="0.82" stop-color="#8e8a12"/><stop offset="1" stop-color="#232305"/></linearGradient><line x1="626.8" y1="620.4" x2="570.8" y2="643.8" stroke="url(#cg76)" stroke-width="14.8" stroke-linecap="round"/>
<linearGradient id="cg77" gradientUnits="userSpaceOnUse" x1="426.4" y1="599.6" x2="442.1" y2="599.2"><stop offset="0" stop-color="#1d1f0e"/><stop offset="0.12" stop-color="#363a1b"/><stop offset="0.3" stop-color="#626648"/><stop offset="0.55" stop-color="#404420"/><stop offset="0.82" stop-color="#262913"/><stop offset="1" stop-color="#0a0a05"/></linearGradient><line x1="433.0" y1="555.1" x2="435.4" y2="643.8" stroke="url(#cg77)" stroke-width="15.7" stroke-linecap="round"/>
<ellipse cx="431.2" cy="555.5" rx="6.5" ry="5.1" fill="#ece61e" opacity="1.0"/>
<linearGradient id="cg78" gradientUnits="userSpaceOnUse" x1="468.4" y1="594.2" x2="484.1" y2="593.0"><stop offset="0" stop-color="#1d0704"/><stop offset="0.12" stop-color="#360e07"/><stop offset="0.3" stop-color="#623b34"/><stop offset="0.55" stop-color="#401008"/><stop offset="0.82" stop-color="#260a05"/><stop offset="1" stop-color="#0a0201"/></linearGradient><line x1="472.7" y1="550.4" x2="479.7" y2="636.8" stroke="url(#cg78)" stroke-width="15.7" stroke-linecap="round"/>
<ellipse cx="472.7" cy="550.9" rx="6.5" ry="5.1" fill="#f08020" opacity="1.0"/>
<linearGradient id="cg79" gradientUnits="userSpaceOnUse" x1="417.5" y1="642.1" x2="413.5" y2="654.8"><stop offset="0" stop-color="#292e31"/><stop offset="0.12" stop-color="#4e575c"/><stop offset="0.3" stop-color="#798286"/><stop offset="0.55" stop-color="#5c666c"/><stop offset="0.82" stop-color="#373d41"/><stop offset="1" stop-color="#0e0f10"/></linearGradient><line x1="393.3" y1="641.5" x2="437.7" y2="655.5" stroke="url(#cg79)" stroke-width="13.3" stroke-linecap="round"/>
<linearGradient id="cg80" gradientUnits="userSpaceOnUse" x1="469.3" y1="619.3" x2="483.2" y2="630.9"><stop offset="0" stop-color="#482107"/><stop offset="0.12" stop-color="#883f0e"/><stop offset="0.3" stop-color="#b16b3b"/><stop offset="0.55" stop-color="#a04a10"/><stop offset="0.82" stop-color="#602c0a"/><stop offset="1" stop-color="#180b02"/></linearGradient><line x1="531.1" y1="559.7" x2="421.4" y2="690.5" stroke="url(#cg80)" stroke-width="18.1" stroke-linecap="round"/>
<linearGradient id="cg81" gradientUnits="userSpaceOnUse" x1="524.6" y1="592.4" x2="537.6" y2="606.4"><stop offset="0" stop-color="#0d0d0f"/><stop offset="0.12" stop-color="#1a1a1d"/><stop offset="0.3" stop-color="#46464a"/><stop offset="0.55" stop-color="#1e1e22"/><stop offset="0.82" stop-color="#121214"/><stop offset="1" stop-color="#050505"/></linearGradient><line x1="594.2" y1="541.1" x2="468.1" y2="657.8" stroke="url(#cg81)" stroke-width="19.1" stroke-linecap="round"/>
<linearGradient id="cg82" gradientUnits="userSpaceOnUse" x1="554.8" y1="538.3" x2="568.2" y2="532.1"><stop offset="0" stop-color="#652b32"/><stop offset="0.12" stop-color="#be525f"/><stop offset="0.3" stop-color="#e67d8a"/><stop offset="0.55" stop-color="#e06070"/><stop offset="0.82" stop-color="#863a43"/><stop offset="1" stop-color="#220e11"/></linearGradient><line x1="554.5" y1="520.0" x2="568.5" y2="550.4" stroke="url(#cg82)" stroke-width="14.8" stroke-linecap="round"/>
<linearGradient id="cg83" gradientUnits="userSpaceOnUse" x1="595.4" y1="617.5" x2="611.6" y2="611.7"><stop offset="0" stop-color="#630e0e"/><stop offset="0.12" stop-color="#bb1b1b"/><stop offset="0.3" stop-color="#e24848"/><stop offset="0.55" stop-color="#dc2020"/><stop offset="0.82" stop-color="#841313"/><stop offset="1" stop-color="#210505"/></linearGradient><line x1="584.8" y1="562.1" x2="622.2" y2="667.1" stroke="url(#cg83)" stroke-width="17.1" stroke-linecap="round"/>
<linearGradient id="cg84" gradientUnits="userSpaceOnUse" x1="547.7" y1="591.6" x2="563.5" y2="600.3"><stop offset="0" stop-color="#630e0e"/><stop offset="0.12" stop-color="#bb1b1b"/><stop offset="0.3" stop-color="#e24848"/><stop offset="0.55" stop-color="#dc2020"/><stop offset="0.82" stop-color="#841313"/><stop offset="1" stop-color="#210505"/></linearGradient><line x1="598.8" y1="517.7" x2="512.4" y2="674.2" stroke="url(#cg84)" stroke-width="18.1" stroke-linecap="round"/>
<linearGradient id="cg85" gradientUnits="userSpaceOnUse" x1="564.5" y1="611.9" x2="581.8" y2="619.7"><stop offset="0" stop-color="#232729"/><stop offset="0.12" stop-color="#42494e"/><stop offset="0.3" stop-color="#6e7479"/><stop offset="0.55" stop-color="#4e565c"/><stop offset="0.82" stop-color="#2f3437"/><stop offset="1" stop-color="#0c0d0e"/></linearGradient><line x1="605.8" y1="543.4" x2="540.4" y2="688.2" stroke="url(#cg85)" stroke-width="19.1" stroke-linecap="round"/>
<linearGradient id="cg86" gradientUnits="userSpaceOnUse" x1="482.4" y1="664.6" x2="479.4" y2="679.0"><stop offset="0" stop-color="#380909"/><stop offset="0.12" stop-color="#691111"/><stop offset="0.3" stop-color="#943e3e"/><stop offset="0.55" stop-color="#7c1414"/><stop offset="0.82" stop-color="#4a0c0c"/><stop offset="1" stop-color="#130303"/></linearGradient><line x1="458.7" y1="667.1" x2="503.1" y2="676.5" stroke="url(#cg86)" stroke-width="14.8" stroke-linecap="round"/>
<linearGradient id="cg87" gradientUnits="userSpaceOnUse" x1="476.2" y1="733.6" x2="490.3" y2="731.5"><stop offset="0" stop-color="#6a670d"/><stop offset="0.12" stop-color="#c9c41a"/><stop offset="0.3" stop-color="#efeb46"/><stop offset="0.55" stop-color="#ece61e"/><stop offset="0.82" stop-color="#8e8a12"/><stop offset="1" stop-color="#232305"/></linearGradient><line x1="477.4" y1="692.8" x2="489.1" y2="772.2" stroke="url(#cg87)" stroke-width="14.3" stroke-linecap="round"/>
<linearGradient id="cg88" gradientUnits="userSpaceOnUse" x1="487.4" y1="744.3" x2="502.4" y2="739.4"><stop offset="0" stop-color="#4f2107"/><stop offset="0.12" stop-color="#963f0e"/><stop offset="0.3" stop-color="#be6b3b"/><stop offset="0.55" stop-color="#b04a10"/><stop offset="0.82" stop-color="#6a2c0a"/><stop offset="1" stop-color="#1a0b02"/></linearGradient><line x1="482.1" y1="702.2" x2="507.8" y2="781.6" stroke="url(#cg88)" stroke-width="15.7" stroke-linecap="round"/>
<linearGradient id="cg89" gradientUnits="userSpaceOnUse" x1="512.1" y1="723.5" x2="526.8" y2="725.2"><stop offset="0" stop-color="#1e255c"/><stop offset="0.12" stop-color="#3846ad"/><stop offset="0.3" stop-color="#6471d5"/><stop offset="0.55" stop-color="#4252cc"/><stop offset="0.82" stop-color="#28317a"/><stop offset="1" stop-color="#0a0c1f"/></linearGradient><line x1="524.1" y1="683.5" x2="514.8" y2="765.2" stroke="url(#cg89)" stroke-width="14.8" stroke-linecap="round" opacity="0.85"/>
<linearGradient id="cg90" gradientUnits="userSpaceOnUse" x1="527.4" y1="750.7" x2="544.2" y2="747.1"><stop offset="0" stop-color="#0d0d0f"/><stop offset="0.12" stop-color="#1a1a1d"/><stop offset="0.3" stop-color="#46464a"/><stop offset="0.55" stop-color="#1e1e22"/><stop offset="0.82" stop-color="#121214"/><stop offset="1" stop-color="#050505"/></linearGradient><line x1="528.8" y1="716.2" x2="542.8" y2="781.6" stroke="url(#cg90)" stroke-width="17.1" stroke-linecap="round"/>
<linearGradient id="cg91" gradientUnits="userSpaceOnUse" x1="549.1" y1="727.5" x2="564.5" y2="730.5"><stop offset="0" stop-color="#380909"/><stop offset="0.12" stop-color="#691111"/><stop offset="0.3" stop-color="#943e3e"/><stop offset="0.55" stop-color="#7c1414"/><stop offset="0.82" stop-color="#4a0c0c"/><stop offset="1" stop-color="#130303"/></linearGradient><line x1="563.8" y1="692.8" x2="549.8" y2="765.2" stroke="url(#cg91)" stroke-width="15.7" stroke-linecap="round"/>
<path d="M381.7,513.0 L382.5,512.9 L383.5,512.6 L384.4,511.9 L385.0,510.8 L385.5,509.5 L386.3,508.3 L387.7,507.6 L389.4,507.2 L390.9,506.5 L391.8,505.3 L392.5,503.8 L393.4,502.6 L394.7,502.0 L396.0,501.7 L397.1,501.3 L397.9,500.9 L398.4,500.4 L399.4,499.7 L400.5,499.6 L401.7,500.2 L402.8,501.2 L403.9,502.2 L405.2,502.9 L406.5,503.5 L407.7,503.9 L408.7,503.9 L409.6,503.6 L410.2,503.1 L410.8,502.3 L411.2,501.4 L411.6,500.3 L411.9,499.0 L412.2,497.7 L412.5,496.3 L412.9,494.9 L413.2,493.4 L413.6,492.0 L414.0,490.5 L414.5,489.2 L415.0,487.9 L415.6,486.8 L416.4,485.5 L417.4,484.3 L418.2,482.9 L419.0,481.4 L419.8,479.9 L421.0,478.7 L422.3,477.8 L423.4,477.0 L424.2,476.2 L424.8,475.6 L425.5,475.2 L426.3,475.4 L426.8,475.8 L427.1,476.5 L427.1,477.4 L426.9,478.4 L426.4,479.6 L425.9,480.8 L425.8,482.1 L426.3,483.6 L426.9,485.1 L426.8,486.6 L426.1,488.2 L425.3,489.8 L425.5,491.4 L426.4,492.9 L427.3,494.2 L427.6,495.6 L427.4,497.0 L427.3,498.4 L427.6,499.7 L428.5,500.9 L429.8,501.9 L430.9,503.0 L431.4,504.4 L431.7,505.9 L432.2,507.4 L433.2,508.5 L434.5,509.4 L435.5,510.3 L436.3,511.3 L436.9,512.3 L437.5,513.2 L438.2,513.9 L439.0,514.4 L439.7,514.6 L440.2,514.6 L440.6,514.4 L441.1,514.1 L441.6,513.6 L442.3,512.9 L443.0,512.0 L443.8,511.0 L444.5,509.7 L445.2,508.4 L446.0,507.1 L446.9,505.8 L447.7,504.5 L448.6,503.4 L449.5,502.3 L450.4,501.5 L451.3,500.8 L452.7,500.0 L454.2,499.5 L455.6,499.2 L457.0,499.1 L458.4,499.1 L459.7,499.0 L461.0,498.9 L462.2,499.0 L463.3,499.4 L464.5,500.1 L465.7,500.9 L466.9,501.5 L468.4,501.9 L469.7,502.4 L470.7,503.3 L471.4,504.2 L472.0,505.0" fill="none" stroke="#1e2b7e" stroke-width="2.50" stroke-linejoin="round" stroke-linecap="round"/>
<path d="M477.4,480.4 L478.2,480.6 L479.1,480.9 L480.1,480.9 L481.1,480.5 L482.2,479.7 L483.4,479.0 L484.8,478.9 L486.3,479.4 L487.9,479.9 L489.4,479.7 L490.6,478.9 L491.8,478.0 L493.1,477.4 L494.4,477.3 L495.6,477.3 L496.9,477.1 L498.2,476.3 L499.2,474.9 L500.0,473.5 L500.8,472.3 L501.8,471.2 L502.7,470.2 L503.4,469.2 L504.0,468.3 L504.4,467.4 L504.9,466.8 L505.4,466.4 L506.3,466.4 L507.0,467.0 L507.6,467.9 L508.2,469.1 L508.9,470.4 L509.7,471.7 L510.7,473.0 L511.4,473.7 L512.1,474.6 L512.8,475.6 L513.6,476.6 L514.3,477.6 L515.1,478.7 L515.9,479.7 L516.8,480.7 L517.6,481.6 L518.4,482.6 L519.1,483.5 L520.0,484.3 L520.9,484.8 L521.9,485.3 L522.9,485.6 L523.9,486.0 L524.9,486.5 L526.0,487.2 L527.1,487.9 L528.2,488.3 L529.5,488.4 L530.9,488.4 L532.2,488.8 L533.5,489.7 L534.3,490.6 L535.2,491.5 L536.2,492.1 L537.4,492.2 L538.8,492.2 L540.1,492.4 L541.2,493.1 L542.1,494.2 L543.0,495.3 L544.2,496.0 L545.6,496.0 L547.1,495.8 L548.4,495.8 L549.6,496.5 L550.6,497.4 L551.6,498.3 L552.8,498.8 L554.3,498.6 L555.8,498.2 L557.2,498.2 L558.5,498.7 L559.8,499.4 L561.1,500.0 L562.5,500.0 L563.9,499.8 L565.3,499.6 L566.5,499.7 L567.6,500.0 L568.6,500.4 L569.4,500.7 L570.2,500.9 L570.9,500.9" fill="none" stroke="#86434e" stroke-width="2.50" stroke-linejoin="round" stroke-linecap="round"/>
<path d="M584.8,473.3 L585.5,474.0 L586.4,474.8 L587.6,475.1 L589.1,474.9 L590.7,474.7 L592.1,475.2 L593.5,476.4 L595.0,477.3 L596.6,477.4 L598.1,476.7 L599.6,475.6 L601.2,475.1 L603.1,475.0 L604.7,474.8 L605.8,474.2 L606.7,473.6 L607.2,473.3 L607.7,473.6 L607.7,474.0 L607.6,474.7 L607.2,475.6 L606.7,476.6 L606.3,477.9 L606.0,479.3 L605.6,480.9 L605.2,482.4 L604.6,483.9 L604.1,485.4 L603.8,486.8 L603.6,488.1 L603.6,489.3 L603.6,490.3 L603.9,491.0 L604.2,491.4 L604.6,491.7 L605.2,491.9 L606.1,492.1 L607.2,492.2 L608.4,492.2 L609.7,492.2 L611.2,492.1 L612.7,492.1 L614.3,492.2 L615.9,492.2 L617.5,492.1 L619.1,491.9 L620.6,492.0 L622.0,492.4 L623.3,492.9 L624.4,493.3 L625.4,493.5 L626.3,493.7 L627.1,494.1 L627.8,494.9 L628.1,495.9 L627.9,496.9 L627.3,498.0 L626.5,499.0 L625.9,500.0 L625.8,501.3 L625.8,502.8 L625.6,504.3 L624.7,505.4 L623.3,506.4 L622.2,507.5 L621.8,508.9 L622.0,510.4 L622.1,511.8 L621.8,512.9 L621.0,514.1 L619.9,515.2 L619.3,516.4 L619.2,517.7 L619.5,519.1 L619.6,520.4 L619.4,521.6 L618.8,522.6 L618.1,523.6 L617.5,524.6 L617.2,525.7 L617.2,526.9 L617.3,528.5 L617.1,530.0 L616.5,531.3 L615.8,532.6 L615.2,533.9 L614.9,535.2 L614.7,536.5 L614.5,537.6 L614.2,538.5 L613.9,539.2" fill="none" stroke="#181818" stroke-width="2.50" stroke-linejoin="round" stroke-linecap="round"/>
<path d="M430.7,543.4 L431.6,543.4 L432.5,543.2 L433.4,542.8 L434.2,542.0 L434.8,540.9 L435.6,539.8 L436.7,539.1 L438.3,538.9 L439.9,538.7 L441.2,538.1 L442.2,536.8 L443.0,535.5 L444.1,534.5 L445.5,534.0 L446.9,533.7 L448.0,533.1 L448.9,532.2 L449.7,531.1 L450.5,530.1 L451.6,529.3 L452.7,528.6 L453.9,528.0 L454.9,527.3 L455.9,526.4 L456.7,525.4 L457.6,524.5 L458.6,523.6 L459.6,522.9 L460.5,522.1 L461.4,521.3 L462.2,520.4 L463.0,519.6 L463.9,518.6 L464.8,517.5 L465.7,516.3 L466.5,515.1 L467.3,513.8 L468.2,512.6 L469.0,511.4 L469.8,510.3 L470.7,509.4 L471.7,508.6 L472.8,508.0 L473.9,507.6 L475.1,507.5 L476.3,507.6 L477.5,508.1 L478.7,508.8 L479.7,509.9 L480.5,511.3 L481.2,512.8 L482.1,514.1 L483.3,515.2 L484.4,516.2 L485.1,517.5 L485.3,518.9 L485.6,520.0 L485.9,520.8" fill="none" stroke="#a5a115" stroke-width="2.50" stroke-linejoin="round" stroke-linecap="round"/>
<path d="M463.4,795.6 L464.2,795.3 L465.2,794.8 L466.0,794.0 L466.4,792.8 L466.8,791.3 L467.5,790.1 L468.9,789.3 L470.5,788.7 L471.7,787.9 L472.4,786.7 L472.8,785.4 L473.2,784.3 L474.2,783.2 L475.7,782.5 L477.0,781.8 L477.9,780.8 L478.6,779.7 L479.1,778.6 L479.6,777.8 L480.1,777.3" fill="none" stroke="#a5a115" stroke-width="2.50" stroke-linejoin="round" stroke-linecap="round"/>
<path d="M491.4,818.9 L492.1,818.5 L492.9,817.9 L493.5,817.2 L493.8,816.1 L493.9,814.8 L494.0,813.5 L494.7,812.3 L496.0,811.4 L497.3,810.5 L498.2,809.3 L498.4,807.8 L498.5,806.3 L499.0,804.9 L499.9,803.9 L501.0,803.0 L501.8,802.0 L502.2,801.0 L502.4,799.5 L502.6,798.0 L503.2,796.6 L503.9,795.4 L504.7,794.3 L505.3,793.0 L505.6,791.7 L505.9,790.5 L506.2,789.4 L506.6,788.4 L507.0,787.5 L507.3,786.8 L507.6,786.1" fill="none" stroke="#7b4e22" stroke-width="2.50" stroke-linejoin="round" stroke-linecap="round"/>
<path d="M556.8,793.2 L556.6,794.1 L556.5,795.2 L556.8,796.2 L557.6,797.3 L558.6,798.4 L559.3,799.6 L559.3,801.2 L559.1,802.9 L559.3,804.4 L560.1,805.6 L561.2,806.5 L562.2,807.5 L562.8,808.7 L563.1,810.3 L563.5,811.7 L564.3,812.9 L565.3,813.8 L566.4,814.6 L567.1,815.5 L567.6,816.3 L567.9,816.9" fill="none" stroke="#181818" stroke-width="2.50" stroke-linejoin="round" stroke-linecap="round"/>
<path d="M505.4,678.8 L506.0,679.4 L506.7,679.9 L507.5,680.3 L508.5,680.3 L509.6,680.1 L510.8,679.8 L512.1,679.8 L513.2,680.5 L514.4,681.5 L515.6,682.3 L517.0,682.6 L518.5,682.3 L520.0,682.0 L521.4,682.2 L522.8,682.9 L524.1,683.7 L525.5,684.0 L527.0,683.8 L528.4,683.5 L529.7,683.5 L531.0,683.8 L532.2,684.1 L533.3,684.4 L534.7,684.4 L536.0,684.3 L537.4,684.2 L538.7,684.2 L539.9,684.3 L541.2,684.5 L542.4,684.6 L543.7,684.6 L544.9,684.6 L546.1,684.6 L547.3,684.7 L548.5,684.7 L549.7,684.7 L550.8,684.7 L552.0,684.8 L553.2,684.8 L554.4,684.7 L555.5,684.6 L556.7,684.6 L557.9,684.5 L559.1,684.5 L560.3,684.5 L561.6,684.4 L562.8,684.1 L563.9,683.7 L565.1,683.4 L566.4,683.3 L567.7,683.4 L569.0,683.5 L570.3,683.4 L571.5,683.0 L572.7,682.4 L573.9,681.9 L575.2,681.8 L576.5,682.1 L577.9,682.5 L579.1,682.6 L580.3,682.2 L581.4,681.5 L582.6,680.9 L583.9,680.9 L585.2,681.3 L586.5,681.9 L587.8,682.1 L589.0,681.7 L590.1,680.9 L591.3,680.1 L592.5,679.9 L593.7,680.2 L595.0,680.7 L596.3,680.9 L597.5,680.7 L598.6,680.0 L599.8,679.2 L601.0,678.9 L602.3,679.0 L603.5,679.4 L604.7,679.7 L606.0,679.6 L607.4,679.1 L608.8,678.6 L610.3,678.5 L611.7,678.8 L613.1,679.1 L614.6,679.2 L616.0,679.1 L617.4,678.9 L618.8,679.0 L620.1,679.1 L621.3,679.3 L622.5,679.5 L623.6,679.6 L624.6,679.7 L625.5,679.8 L626.3,679.9 L627.0,680.0" fill="none" stroke="#570e0e" stroke-width="2.50" stroke-linejoin="round" stroke-linecap="round"/>
<linearGradient id="cg92" gradientUnits="userSpaceOnUse" x1="876.5" y1="596.4" x2="868.6" y2="611.1"><stop offset="0" stop-color="#6c6c32"/><stop offset="0.12" stop-color="#cccc5f"/><stop offset="0.3" stop-color="#f3f38a"/><stop offset="0.55" stop-color="#f0f070"/><stop offset="0.82" stop-color="#909043"/><stop offset="1" stop-color="#242411"/></linearGradient><line x1="771.1" y1="549.0" x2="974.0" y2="658.5" stroke="url(#cg92)" stroke-width="16.7" stroke-linecap="round" opacity="0.9"/>
<linearGradient id="cg93" gradientUnits="userSpaceOnUse" x1="947.7" y1="595.5" x2="937.4" y2="610.0"><stop offset="0" stop-color="#303463"/><stop offset="0.12" stop-color="#5a63bb"/><stop offset="0.3" stop-color="#858de2"/><stop offset="0.55" stop-color="#6a74dc"/><stop offset="0.82" stop-color="#404684"/><stop offset="1" stop-color="#101121"/></linearGradient><line x1="866.5" y1="549.0" x2="1018.6" y2="656.5" stroke="url(#cg93)" stroke-width="17.7" stroke-linecap="round" opacity="0.6"/>
<linearGradient id="cg94" gradientUnits="userSpaceOnUse" x1="772.3" y1="579.8" x2="764.9" y2="593.2"><stop offset="0" stop-color="#4a5213"/><stop offset="0.12" stop-color="#8b9b24"/><stop offset="0.3" stop-color="#b4c350"/><stop offset="0.55" stop-color="#a4b62a"/><stop offset="0.82" stop-color="#626d19"/><stop offset="1" stop-color="#191b06"/></linearGradient><line x1="733.6" y1="567.2" x2="803.6" y2="605.8" stroke="url(#cg94)" stroke-width="15.2" stroke-linecap="round"/>
<linearGradient id="cg95" gradientUnits="userSpaceOnUse" x1="840.7" y1="631.1" x2="835.5" y2="645.4"><stop offset="0" stop-color="#6c4f3a"/><stop offset="0.12" stop-color="#cc966d"/><stop offset="0.3" stop-color="#f3be97"/><stop offset="0.55" stop-color="#f0b080"/><stop offset="0.82" stop-color="#906a4d"/><stop offset="1" stop-color="#241a13"/></linearGradient><line x1="815.8" y1="630.1" x2="860.4" y2="646.3" stroke="url(#cg95)" stroke-width="15.2" stroke-linecap="round" opacity="0.5"/>
<linearGradient id="cg96" gradientUnits="userSpaceOnUse" x1="926.3" y1="641.4" x2="920.3" y2="655.4"><stop offset="0" stop-color="#6c5656"/><stop offset="0.12" stop-color="#cca3a3"/><stop offset="0.3" stop-color="#f3cbcb"/><stop offset="0.55" stop-color="#f0c0c0"/><stop offset="0.82" stop-color="#907373"/><stop offset="1" stop-color="#241d1d"/></linearGradient><line x1="909.1" y1="642.3" x2="937.5" y2="654.5" stroke="url(#cg96)" stroke-width="15.2" stroke-linecap="round" opacity="0.5"/>
<linearGradient id="cg97" gradientUnits="userSpaceOnUse" x1="986.7" y1="640.1" x2="978.5" y2="654.6"><stop offset="0" stop-color="#6a670d"/><stop offset="0.12" stop-color="#c9c41a"/><stop offset="0.3" stop-color="#efeb46"/><stop offset="0.55" stop-color="#ece61e"/><stop offset="0.82" stop-color="#8e8a12"/><stop offset="1" stop-color="#232305"/></linearGradient><line x1="937.5" y1="622.0" x2="1027.7" y2="672.7" stroke="url(#cg97)" stroke-width="16.7" stroke-linecap="round"/><ellipse cx="1027.7" cy="672.7" rx="4.7" ry="8.4" transform="rotate(29.3 1027.7 672.7)" fill="#efea40"/>
<linearGradient id="cg98" gradientUnits="userSpaceOnUse" x1="777.5" y1="594.1" x2="768.9" y2="611.3"><stop offset="0" stop-color="#371607"/><stop offset="0.12" stop-color="#68290e"/><stop offset="0.3" stop-color="#92553b"/><stop offset="0.55" stop-color="#7a3010"/><stop offset="0.82" stop-color="#491d0a"/><stop offset="1" stop-color="#120702"/></linearGradient><line x1="726.5" y1="579.4" x2="819.8" y2="626.1" stroke="url(#cg98)" stroke-width="19.3" stroke-linecap="round"/>
<linearGradient id="cg99" gradientUnits="userSpaceOnUse" x1="743.6" y1="634.9" x2="758.1" y2="647.6"><stop offset="0" stop-color="#280e04"/><stop offset="0.12" stop-color="#4c1b07"/><stop offset="0.3" stop-color="#784834"/><stop offset="0.55" stop-color="#5a2008"/><stop offset="0.82" stop-color="#361305"/><stop offset="1" stop-color="#0e0501"/></linearGradient><line x1="789.4" y1="597.7" x2="712.3" y2="684.9" stroke="url(#cg99)" stroke-width="19.3" stroke-linecap="round"/><ellipse cx="789.4" cy="597.7" rx="5.4" ry="9.6" transform="rotate(131.5 789.4 597.7)" fill="#73412d"/>
<ellipse cx="789.4" cy="597.2" rx="6.1" ry="5.7" fill="#f0a030" opacity="1.0"/>
<linearGradient id="cg100" gradientUnits="userSpaceOnUse" x1="812.2" y1="621.3" x2="823.4" y2="638.9"><stop offset="0" stop-color="#0c0c0c"/><stop offset="0.12" stop-color="#161616"/><stop offset="0.3" stop-color="#434343"/><stop offset="0.55" stop-color="#1a1a1a"/><stop offset="0.82" stop-color="#101010"/><stop offset="1" stop-color="#040404"/></linearGradient><line x1="878.7" y1="591.6" x2="756.9" y2="668.7" stroke="url(#cg100)" stroke-width="20.8" stroke-linecap="round"/><ellipse cx="878.7" cy="591.6" rx="5.8" ry="10.4" transform="rotate(147.7 878.7 591.6)" fill="#3c3c3c"/>
<linearGradient id="cg101" gradientUnits="userSpaceOnUse" x1="760.4" y1="678.3" x2="767.7" y2="693.4"><stop offset="0" stop-color="#630e0e"/><stop offset="0.12" stop-color="#bb1b1b"/><stop offset="0.3" stop-color="#e24848"/><stop offset="0.55" stop-color="#dc2020"/><stop offset="0.82" stop-color="#841313"/><stop offset="1" stop-color="#210505"/></linearGradient><line x1="787.4" y1="674.7" x2="740.7" y2="697.1" stroke="url(#cg101)" stroke-width="16.7" stroke-linecap="round"/>
<linearGradient id="cg102" gradientUnits="userSpaceOnUse" x1="941.0" y1="609.1" x2="960.3" y2="608.5"><stop offset="0" stop-color="#131b51"/><stop offset="0.12" stop-color="#253499"/><stop offset="0.3" stop-color="#5160c2"/><stop offset="0.55" stop-color="#2b3db4"/><stop offset="0.82" stop-color="#1a256c"/><stop offset="1" stop-color="#06091b"/></linearGradient><line x1="948.6" y1="536.8" x2="952.7" y2="680.8" stroke="url(#cg102)" stroke-width="19.3" stroke-linecap="round"/>
<linearGradient id="cg103" gradientUnits="userSpaceOnUse" x1="910.8" y1="615.2" x2="921.6" y2="632.9"><stop offset="0" stop-color="#630e0e"/><stop offset="0.12" stop-color="#bb1b1b"/><stop offset="0.3" stop-color="#e24848"/><stop offset="0.55" stop-color="#dc2020"/><stop offset="0.82" stop-color="#841313"/><stop offset="1" stop-color="#210505"/></linearGradient><line x1="1012.5" y1="565.2" x2="819.8" y2="682.9" stroke="url(#cg103)" stroke-width="20.8" stroke-linecap="round"/>
<linearGradient id="cg104" gradientUnits="userSpaceOnUse" x1="871.6" y1="645.9" x2="883.7" y2="660.9"><stop offset="0" stop-color="#292e31"/><stop offset="0.12" stop-color="#4e575c"/><stop offset="0.3" stop-color="#798286"/><stop offset="0.55" stop-color="#5c666c"/><stop offset="0.82" stop-color="#373d41"/><stop offset="1" stop-color="#0e0f10"/></linearGradient><line x1="951.7" y1="593.6" x2="803.6" y2="713.3" stroke="url(#cg104)" stroke-width="19.3" stroke-linecap="round"/>
<linearGradient id="cg105" gradientUnits="userSpaceOnUse" x1="984.2" y1="631.2" x2="1004.4" y2="633.1"><stop offset="0" stop-color="#630e0e"/><stop offset="0.12" stop-color="#bb1b1b"/><stop offset="0.3" stop-color="#e24848"/><stop offset="0.55" stop-color="#dc2020"/><stop offset="0.82" stop-color="#841313"/><stop offset="1" stop-color="#210505"/></linearGradient><line x1="1000.4" y1="565.2" x2="988.2" y2="699.1" stroke="url(#cg105)" stroke-width="20.3" stroke-linecap="round"/>
<linearGradient id="cg106" gradientUnits="userSpaceOnUse" x1="911.1" y1="704.1" x2="929.3" y2="710.3"><stop offset="0" stop-color="#131b51"/><stop offset="0.12" stop-color="#253499"/><stop offset="0.3" stop-color="#5160c2"/><stop offset="0.55" stop-color="#2b3db4"/><stop offset="0.82" stop-color="#1a256c"/><stop offset="1" stop-color="#06091b"/></linearGradient><line x1="931.4" y1="674.7" x2="909.1" y2="739.7" stroke="url(#cg106)" stroke-width="19.3" stroke-linecap="round"/>
<linearGradient id="cg107" gradientUnits="userSpaceOnUse" x1="864.4" y1="707.3" x2="880.7" y2="711.1"><stop offset="0" stop-color="#4a5213"/><stop offset="0.12" stop-color="#8b9b24"/><stop offset="0.3" stop-color="#b4c350"/><stop offset="0.55" stop-color="#a4b62a"/><stop offset="0.82" stop-color="#626d19"/><stop offset="1" stop-color="#191b06"/></linearGradient><line x1="880.7" y1="674.7" x2="864.5" y2="743.7" stroke="url(#cg107)" stroke-width="16.7" stroke-linecap="round"/>
<linearGradient id="cg108" gradientUnits="userSpaceOnUse" x1="893.9" y1="733.6" x2="912.1" y2="727.4"><stop offset="0" stop-color="#380909"/><stop offset="0.12" stop-color="#691111"/><stop offset="0.3" stop-color="#943e3e"/><stop offset="0.55" stop-color="#7c1414"/><stop offset="0.82" stop-color="#4a0c0c"/><stop offset="1" stop-color="#130303"/></linearGradient><line x1="890.8" y1="695.0" x2="915.2" y2="766.0" stroke="url(#cg108)" stroke-width="19.3" stroke-linecap="round"/>
<linearGradient id="cg109" gradientUnits="userSpaceOnUse" x1="827.4" y1="733.6" x2="842.6" y2="733.6"><stop offset="0" stop-color="#6c3f0d"/><stop offset="0.12" stop-color="#cc771a"/><stop offset="0.3" stop-color="#f3a146"/><stop offset="0.55" stop-color="#f08c1e"/><stop offset="0.82" stop-color="#905412"/><stop offset="1" stop-color="#241505"/></linearGradient><line x1="835.0" y1="703.1" x2="835.0" y2="764.0" stroke="url(#cg109)" stroke-width="15.2" stroke-linecap="round"/>
<linearGradient id="cg110" gradientUnits="userSpaceOnUse" x1="850.4" y1="736.1" x2="866.3" y2="731.0"><stop offset="0" stop-color="#292e31"/><stop offset="0.12" stop-color="#4e575c"/><stop offset="0.3" stop-color="#798286"/><stop offset="0.55" stop-color="#5c666c"/><stop offset="0.82" stop-color="#373d41"/><stop offset="1" stop-color="#0e0f10"/></linearGradient><line x1="846.2" y1="695.0" x2="870.5" y2="772.1" stroke="url(#cg110)" stroke-width="16.7" stroke-linecap="round"/>
<path d="M759.0,516.5 L759.8,516.5 L760.8,516.3 L761.7,515.7 L762.4,514.8 L763.0,513.6 L763.8,512.5 L765.0,511.8 L766.7,511.5 L768.3,511.2 L769.4,510.4 L770.2,509.0 L771.1,507.7 L772.3,506.9 L773.7,506.6 L775.0,506.3 L776.0,505.8 L777.0,504.9 L778.0,503.8 L779.0,502.8 L780.2,502.2 L781.5,501.7 L782.7,501.2 L783.9,500.6 L784.9,499.8 L786.0,499.1 L787.1,498.6 L788.2,498.3 L789.3,498.1 L790.4,498.0 L791.5,497.9 L792.6,498.1 L793.8,498.4 L795.0,498.9 L796.2,499.5 L797.3,500.3 L798.5,501.1 L799.5,502.0 L800.5,503.0 L801.5,504.0 L802.4,504.9 L803.2,505.9 L803.9,506.8 L804.6,507.7 L805.3,509.1 L805.8,510.6 L806.2,512.0 L806.6,513.4 L806.8,514.7 L806.9,515.8 L806.8,516.9 L807.0,517.8 L807.6,518.6 L808.5,518.8 L809.6,518.6 L810.6,518.1 L811.8,517.6 L813.2,517.5 L814.7,517.7 L816.2,517.9 L817.4,517.6 L818.6,517.1 L819.8,516.7 L820.8,517.0 L821.5,517.8 L822.0,519.0 L822.5,520.3 L823.4,521.2 L824.7,521.8 L826.2,522.1 L827.4,522.7 L828.3,523.7 L829.2,525.0 L830.3,526.0 L831.7,526.4 L833.1,526.0 L834.3,525.3 L835.5,524.6 L836.7,524.3 L838.1,524.2 L839.5,524.2 L840.8,523.8 L841.9,522.9 L843.0,521.8 L844.2,521.0 L845.5,520.6 L846.9,520.4 L848.2,520.2 L849.4,519.9 L850.5,519.3 L851.7,518.8 L852.9,518.3 L854.1,518.0 L855.4,517.8 L856.6,517.6 L857.9,517.4 L859.2,517.2 L860.5,517.1 L861.9,517.1 L863.3,517.2 L864.6,517.5 L865.8,517.8 L866.9,518.2 L868.0,518.7 L869.1,519.2 L870.2,519.8 L871.3,520.5 L872.4,521.2 L873.4,522.0 L874.5,522.8 L875.6,523.6 L876.7,524.2 L877.9,524.8 L879.1,525.4 L880.2,526.2 L881.2,527.0 L882.3,527.8 L883.5,528.2 L884.7,528.3 L886.0,528.3 L887.2,528.4 L888.4,528.9 L889.5,529.6 L890.6,530.3 L891.8,530.7 L893.1,530.5 L894.4,530.1 L895.7,529.8 L896.9,530.1 L898.0,530.7 L899.1,531.5 L900.3,531.9 L901.6,531.7 L902.9,531.2 L904.2,530.8 L905.5,530.8 L906.6,531.4 L907.7,532.2 L908.8,532.8 L910.0,532.8 L911.4,532.4 L912.7,532.0 L914.0,531.9 L915.2,532.3 L916.3,533.0 L917.4,533.5 L918.6,533.7 L919.8,533.5 L921.1,533.2 L922.3,533.1 L923.4,533.2 L924.7,533.6 L926.0,534.0 L927.4,534.1 L928.8,534.0 L930.3,533.8 L931.8,533.9 L933.2,534.1 L934.7,534.2 L936.1,534.3 L937.4,534.4 L938.7,534.4 L939.9,534.5 L941.0,534.6 L942.0,534.7 L942.9,534.7 L943.6,534.8" fill="none" stroke="#3f4686" stroke-width="2.50" stroke-linejoin="round" stroke-linecap="round"/>
<path d="M702.2,565.2 L702.4,564.1 L702.2,562.7 L701.3,561.5 L700.1,560.2 L699.7,558.6 L700.8,557.3 L701.7,556.8 L702.7,556.2 L703.4,555.2 L703.8,553.7 L704.3,552.3 L705.4,551.3 L706.9,550.7 L708.2,550.2 L709.2,549.4 L709.9,548.5 L710.5,547.7 L711.6,547.2 L712.7,547.4 L713.8,548.0 L715.0,548.6 L716.4,549.1 L717.8,549.3 L719.2,549.2 L720.4,548.9 L721.4,548.5 L722.3,547.9 L723.2,547.2 L724.1,546.4 L724.9,545.4 L725.8,544.4 L726.7,543.3 L727.7,542.2 L728.7,541.1 L729.9,540.0 L730.7,539.3 L731.5,538.4 L732.4,537.5 L733.4,536.5 L734.4,535.5 L735.6,534.5 L736.7,533.6 L737.8,532.6 L738.8,531.5 L739.8,530.5 L740.9,529.8 L742.0,529.4 L743.1,529.1 L744.0,528.9 L744.8,528.7 L746.0,528.7 L747.4,528.9 L748.6,529.7 L749.3,531.1 L749.4,532.9 L749.3,534.4 L749.8,535.6 L750.3,536.8 L750.5,537.6 L750.1,538.5 L749.3,539.3 L748.1,539.9 L746.8,540.4 L745.9,541.4 L745.5,542.8 L745.2,544.4 L744.5,545.6 L743.4,546.4 L742.1,547.2 L741.1,548.2 L740.7,549.6 L740.8,551.3 L741.0,553.0 L740.6,554.4 L739.7,555.7 L739.0,556.9 L738.8,558.2 L738.9,559.4 L739.0,560.5 L739.1,561.3" fill="none" stroke="#8c8616" stroke-width="2.50" stroke-linejoin="round" stroke-linecap="round"/>
<path d="M740.7,581.4 L741.6,581.5 L742.5,581.5 L743.4,581.2 L744.3,580.5 L745.1,579.5 L745.9,578.5 L747.1,577.9 L748.7,577.9 L750.3,577.9 L751.7,577.5 L752.8,576.5 L753.8,575.2 L755.0,574.4 L756.5,574.2 L758.0,574.1 L759.3,573.8 L760.4,573.1 L761.3,572.2 L762.4,571.5 L763.6,571.0 L764.9,570.7 L766.2,570.4 L767.4,570.0 L768.6,569.4 L769.7,568.7 L770.9,568.2 L772.1,567.8 L773.3,567.4 L774.5,567.2 L775.7,566.9 L776.9,566.6 L778.1,566.4 L779.2,566.3 L780.3,566.3 L781.5,566.4 L782.8,566.6 L784.1,567.2 L785.3,567.9 L786.5,568.7 L787.5,569.6 L788.6,570.6 L789.5,571.6 L790.4,572.6 L791.2,573.6 L792.1,574.5 L793.0,575.2 L793.9,575.7 L794.8,576.0 L795.6,576.3 L796.6,576.6 L797.7,576.9 L798.9,576.9 L800.2,576.6 L801.3,575.9 L802.4,575.0 L803.6,574.4 L805.1,574.3 L806.7,574.3 L808.0,574.0 L809.1,573.3 L809.9,572.4 L810.8,571.7 L811.7,571.4 L813.2,571.9 L814.2,572.9 L815.1,573.6 L816.2,574.0 L817.6,573.9 L819.0,573.7 L820.4,573.8 L822.0,574.1 L823.2,574.4 L824.5,574.5 L825.7,574.0 L826.7,573.0 L827.6,571.8 L828.6,570.8 L829.9,570.3 L831.3,570.1 L832.6,569.7 L833.8,568.9 L834.8,567.8 L835.9,566.8 L837.0,566.2 L838.2,565.9 L839.4,565.8 L840.6,565.6 L841.8,565.1 L843.0,564.6 L844.2,564.0 L845.3,563.6 L846.5,563.3 L847.6,562.9 L848.7,562.4 L849.6,561.8 L850.6,561.1 L851.4,560.3 L852.1,559.6 L852.7,558.7 L853.4,557.8 L854.0,556.6 L854.7,555.4 L855.4,554.2 L856.0,552.8 L856.7,551.4 L857.4,550.1 L858.1,548.8 L858.8,547.5 L859.4,546.2 L859.9,545.0 L860.4,543.9 L861.0,543.0 L861.7,542.3 L862.4,541.9 L862.9,541.7 L863.8,541.6 L864.5,541.5 L865.4,541.5 L866.6,542.0 L867.6,543.0 L868.3,544.6 L869.0,546.1 L870.3,547.1 L872.0,547.6 L873.2,548.0 L874.2,548.8 L874.9,550.0 L875.4,551.4 L876.3,552.4 L877.6,552.9 L879.2,553.2 L880.5,553.8 L881.3,554.9 L881.7,556.2 L882.1,557.5 L882.9,558.5 L884.2,559.2 L885.6,559.8 L886.7,560.7 L887.3,561.9 L887.5,563.3 L887.8,564.6 L888.4,565.7 L889.1,566.8 L889.9,567.9 L890.3,569.1 L890.4,570.6 L890.0,571.9 L889.4,573.3 L889.0,574.6 L888.6,576.0 L888.2,577.3 L887.7,578.6 L886.9,579.8 L886.1,580.8 L885.4,581.8 L884.5,582.9 L883.5,584.0 L882.3,585.0 L881.1,586.0 L880.0,586.8 L878.9,587.6 L877.8,588.2 L877.0,588.8 L876.4,589.3" fill="none" stroke="#704316" stroke-width="2.50" stroke-linejoin="round" stroke-linecap="round"/>
<path d="M939.5,494.2 L939.4,495.1 L939.4,496.1 L939.7,497.1 L940.5,498.0 L941.6,498.9 L942.5,500.0 L942.8,501.4 L942.7,503.1 L942.7,504.7 L943.5,505.9 L944.6,506.9 L945.6,507.7 L946.2,508.7 L946.5,510.0 L946.6,511.4 L947.0,512.7 L947.7,513.8 L948.8,514.7 L949.8,515.6 L950.5,516.7 L951.1,517.9 L951.6,519.0 L952.3,520.1 L953.2,521.0 L954.2,521.9 L955.3,522.8 L956.3,523.8 L957.2,524.7 L958.1,525.7 L959.1,526.5 L960.1,527.3 L961.1,528.0 L962.2,528.7 L963.2,529.3 L964.3,529.9 L965.4,530.4 L966.6,531.0 L967.8,531.6 L969.1,532.1 L970.5,532.6 L971.7,533.1 L973.0,533.6 L974.1,534.0 L975.2,534.3 L976.2,534.3 L977.0,534.1 L977.5,533.8 L978.0,533.4 L978.6,532.9 L979.3,532.1 L980.2,531.2 L980.9,530.1 L981.2,528.7 L981.2,527.2 L981.2,525.8 L981.7,524.4 L982.5,523.1 L983.2,521.8 L983.4,520.5 L982.8,519.0 L981.8,517.6 L981.2,516.0 L981.4,514.0 L981.3,512.1 L980.5,510.8 L979.3,509.9 L978.5,509.2 L978.2,508.7 L978.2,508.7 L978.3,508.8 L978.7,509.3 L979.1,510.1 L979.6,511.1 L980.3,512.1 L981.6,512.7 L983.3,513.1 L984.8,513.8 L985.8,515.0 L986.6,516.4 L987.6,517.5 L989.0,518.1 L990.3,518.4 L991.6,518.9 L992.7,519.6 L993.6,520.6 L994.5,521.5 L995.5,522.3 L996.7,522.8 L997.9,523.3 L998.9,523.8 L999.9,524.4 L1000.9,524.9 L1001.8,525.3 L1002.6,525.6 L1003.6,525.7 L1004.6,525.6 L1005.6,525.3 L1006.7,525.0 L1007.8,524.6 L1009.0,524.2 L1010.4,523.8 L1011.7,523.6 L1013.2,523.6 L1014.7,523.9 L1015.7,524.2 L1016.8,524.6 L1017.9,525.1 L1019.0,525.7 L1020.1,526.4 L1021.3,527.1 L1022.5,527.6 L1023.8,528.2 L1024.9,528.9 L1025.9,529.8 L1026.7,530.8 L1027.6,531.7 L1028.5,532.3 L1029.4,532.8 L1030.3,533.2 L1031.3,534.1 L1031.9,535.4 L1032.1,536.8 L1032.3,538.1 L1032.9,539.1 L1033.8,540.1 L1034.6,541.2 L1034.8,542.4 L1034.3,543.6 L1033.5,544.6 L1033.0,545.3 L1032.7,546.3 L1032.7,547.6 L1032.8,549.1 L1032.3,550.5 L1031.2,551.4 L1029.8,552.1 L1028.7,552.9 L1028.1,554.1 L1027.6,555.6 L1027.0,556.8 L1026.2,557.7 L1025.1,558.1 L1023.5,558.1 L1021.9,557.8 L1020.3,557.8 L1018.6,557.9 L1017.0,557.7 L1015.8,557.1 L1014.9,556.5 L1014.2,556.1" fill="none" stroke="#431622" stroke-width="2.50" stroke-linejoin="round" stroke-linecap="round"/>
<path d="M923.3,703.1 L923.7,703.8 L924.2,704.6 L925.0,705.2 L926.0,705.5 L927.3,705.6 L928.6,705.8 L929.7,706.4 L930.6,707.6 L931.5,709.0 L932.7,709.9 L934.2,710.2 L935.8,710.2 L937.2,710.4 L938.4,711.2 L939.6,712.0 L940.9,712.7 L942.3,712.8 L943.6,712.5 L944.8,712.0 L946.0,711.6 L947.2,711.2 L948.4,711.0 L949.7,710.6 L950.9,710.0 L952.0,709.2 L953.0,708.3 L954.1,707.4 L955.2,706.7 L956.3,706.0 L957.4,705.3 L958.5,704.6 L959.5,704.0 L960.6,703.4 L961.6,702.9 L962.7,702.5 L963.8,702.2 L965.3,702.1 L966.8,702.2 L968.2,702.5 L969.6,703.0 L970.8,703.5 L972.0,704.0 L973.1,704.6 L974.2,705.3 L975.1,705.8 L976.1,706.2 L977.0,706.3 L977.9,706.2 L978.8,705.8 L979.9,705.5 L981.2,705.2 L982.6,704.9 L983.9,704.3 L985.0,703.3 L985.9,702.2 L986.8,701.3 L988.0,700.7 L989.2,700.4 L990.2,700.2 L990.9,700.0" fill="none" stroke="#570e0e" stroke-width="2.50" stroke-linejoin="round" stroke-linecap="round"/>
<path d="M783.3,719.4 L784.2,719.0 L785.2,718.2 L785.9,717.0 L786.0,715.3 L786.5,713.7 L787.8,712.6 L789.4,712.1 L790.6,711.6 L791.2,711.0 L791.6,710.4 L792.1,710.1 L793.0,710.2 L793.9,710.9 L794.6,712.1 L795.3,713.4 L796.4,714.5 L797.8,715.2 L799.3,715.8 L800.4,716.6 L801.4,717.4 L802.5,718.0 L803.7,718.2 L805.0,717.7 L806.0,716.7 L806.8,715.5 L807.5,714.1 L808.3,712.7 L809.1,711.3 L809.7,709.9 L810.2,708.6 L810.7,707.5 L811.1,706.8" fill="none" stroke="#181818" stroke-width="2.50" stroke-linejoin="round" stroke-linecap="round"/>
<path d="M866.5,774.1 L867.0,774.8 L867.7,775.5 L868.7,775.9 L869.9,776.0 L871.3,775.7 L872.7,775.8 L873.9,776.5 L875.0,777.7 L876.1,778.8 L877.4,779.3 L878.9,779.3 L880.3,779.4 L881.4,780.0 L882.1,781.0 L882.7,782.1 L883.3,783.0 L884.2,783.8 L885.4,784.4 L886.5,785.1 L887.4,786.1 L888.0,787.2 L888.5,788.4 L889.2,789.5 L890.0,790.4 L890.9,791.4 L891.7,792.4 L892.4,793.4 L893.0,794.4 L893.6,795.6 L894.2,796.9 L894.8,798.2 L895.4,799.5 L895.9,800.9 L896.4,802.2 L896.8,803.5 L897.1,804.7 L897.4,805.8 L897.6,806.8 L897.9,807.7 L898.1,808.3" fill="none" stroke="#181818" stroke-width="2.50" stroke-linejoin="round" stroke-linecap="round"/>
<path d="M913.1,768.0 L913.6,768.8 L914.2,769.5 L915.0,770.1 L916.1,770.3 L917.4,770.3 L918.8,770.4 L920.0,771.1 L920.9,772.4 L921.9,773.7 L923.0,774.4 L924.4,774.7 L925.9,774.8 L927.1,775.3 L928.0,776.2 L928.6,777.2 L929.3,778.2 L930.2,779.0 L931.3,779.6 L932.5,780.2 L933.5,780.9 L934.2,781.9 L934.8,782.9 L935.5,784.0 L936.2,784.9 L937.1,785.8 L938.0,786.6 L938.8,787.4 L939.6,788.3 L940.4,789.4 L941.1,790.6 L941.9,791.8 L942.8,793.0 L943.5,794.3 L944.2,795.5 L944.8,796.6 L945.4,797.7 L945.9,798.6 L946.3,799.4 L946.6,800.0" fill="none" stroke="#570e0e" stroke-width="2.50" stroke-linejoin="round" stroke-linecap="round"/>
<path d="M821.9,808.6 L822.6,808.3 L823.5,807.8 L824.1,807.1 L824.5,806.0 L824.7,804.7 L825.0,803.4 L825.8,802.4 L827.2,801.6 L828.6,800.8 L829.6,799.6 L830.0,798.1 L830.2,796.5 L831.0,795.2 L832.1,794.2 L833.4,793.2 L834.0,792.3 L834.5,791.1 L834.7,789.7 L835.1,788.3 L835.9,787.1 L836.8,786.0 L837.6,784.8 L838.2,783.4 L838.6,782.0 L839.1,780.7 L839.7,779.4 L840.4,778.2 L841.0,777.0 L841.5,775.9 L842.0,774.9 L842.4,773.9 L842.8,773.1 L843.2,772.3 L843.5,771.7" fill="none" stroke="#705a2d" stroke-width="2.50" stroke-linejoin="round" stroke-linecap="round"/>
</svg>
</body></html>
